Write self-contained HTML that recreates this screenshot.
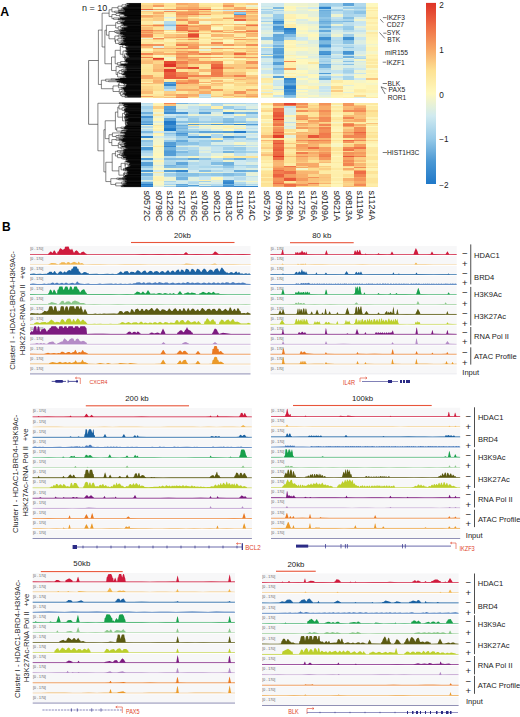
<!DOCTYPE html>
<html><head><meta charset="utf-8"><style>
html,body{margin:0;padding:0;background:#fff;}
svg{display:block;font-family:"Liberation Sans", sans-serif;}
.hm rect{width:11.72px}
</style></head><body>
<svg width="520" height="717" viewBox="0 0 520 717">
<rect width="520" height="717" fill="#fff"/>
<defs><filter id="hb" x="-0.02" y="-0.02" width="1.04" height="1.04"><feGaussianBlur stdDeviation="0.35"/></filter></defs>
<path d="M129.4 4.31V4.65M129.2 3.90V4.48M129.2 4.48H129.4M128.2 4.19V4.94M128.2 4.19H129.2M126.8 3.47V4.56M126.8 4.56H128.2M127.2 5.67V5.98M127.0 5.32V5.82M127.0 5.82H127.2M125.6 4.01V5.57M125.6 4.01H126.8M125.6 5.57H127.0M127.8 6.60V6.98M126.2 6.29V6.79M126.2 6.79H127.8M124.6 6.54V7.42M124.6 6.54H126.2M123.4 7.88V8.37M123.3 6.98V8.13M123.3 6.98H124.6M123.3 8.13H123.4M122.0 4.79V7.55M122.0 4.79H125.6M122.0 7.55H123.3M123.9 9.14V9.43M125.3 9.98V10.34M125.1 9.65V10.16M125.1 10.16H125.3M123.3 9.28V9.90M123.3 9.28H123.9M123.3 9.90H125.1M121.4 8.77V9.59M121.4 9.59H123.3M118.0 6.17V9.18M118.0 6.17H122.0M118.0 9.18H121.4M125.0 10.97V11.36M125.0 11.16V11.71M123.4 11.44V11.99M123.4 11.44H125.0M118.3 10.63V11.71M118.3 11.71H123.4M118.5 12.32V12.67M114.7 11.17V12.50M114.7 11.17H118.3M114.7 12.50H118.5M111.9 7.68V11.84M111.9 7.68H118.0M111.9 11.84H114.7M121.7 13.05V13.45M120.4 13.25V13.76M120.4 13.25H121.7M124.1 14.13V14.57M125.0 14.90V15.18M123.4 14.35V15.04M123.4 14.35H124.1M123.4 15.04H125.0M125.1 15.66V15.96M124.5 15.42V15.81M124.5 15.81H125.1M127.4 16.38V16.79M126.8 16.58V17.04M126.8 16.58H127.4M125.4 16.81V17.38M125.4 16.81H126.8M124.1 15.62V17.10M124.1 15.62H124.5M124.1 17.10H125.4M119.4 14.69V16.36M119.4 14.69H123.4M119.4 16.36H124.1M116.0 13.51V15.53M116.0 13.51H120.4M116.0 15.53H119.4M120.0 17.75V18.07M120.4 18.38V18.72M122.1 19.01V19.38M118.4 18.55V19.20M118.4 18.55H120.4M118.4 19.20H122.1M118.2 18.87V19.82M118.2 18.87H118.4M113.6 17.91V19.35M113.6 17.91H120.0M113.6 19.35H118.2M111.9 14.52V18.63M111.9 14.52H116.0M111.9 18.63H113.6M109.1 9.76V16.57M109.1 9.76H111.9M109.1 16.57H111.9M125.2 20.24V20.73M124.6 21.10V21.38M124.3 21.24V21.68M124.3 21.24H124.6M122.5 20.48V21.46M122.5 20.48H125.2M122.5 21.46H124.3M120.8 22.07V22.53M120.0 20.97V22.30M120.0 20.97H122.5M120.0 22.30H120.8M123.0 22.98V23.30M122.7 23.14V23.51M122.7 23.14H123.0M121.1 23.32V23.90M121.1 23.32H122.7M117.4 21.64V23.61M117.4 21.64H120.0M117.4 23.61H121.1M123.7 24.34V24.64M123.2 24.49V24.97M123.2 24.49H123.7M128.1 26.31V26.60M127.0 25.98V26.45M127.0 26.45H128.1M127.5 27.12V27.39M126.5 26.92V27.25M126.5 27.25H127.5M125.9 26.21V27.09M125.9 26.21H127.0M125.9 27.09H126.5M123.8 25.45V26.65M123.8 26.65H125.9M122.5 24.73V26.05M122.5 24.73H123.2M122.5 26.05H123.8M124.0 28.05V28.47M121.8 27.70V28.26M121.8 28.26H124.0M120.9 25.39V27.98M120.9 25.39H122.5M120.9 27.98H121.8M122.1 28.78V29.15M124.2 29.51V29.80M120.5 28.97V29.66M120.5 28.97H122.1M120.5 29.66H124.2M118.1 26.69V29.31M118.1 26.69H120.9M118.1 29.31H120.5M115.7 22.62V28.00M115.7 22.62H117.4M115.7 28.00H118.1M121.1 30.17V30.52M119.4 30.35V30.83M119.4 30.35H121.1M126.2 31.18V31.53M122.6 31.36V31.83M122.6 31.36H126.2M120.0 31.59V32.09M120.0 31.59H122.6M120.8 32.45V32.94M120.0 33.32V33.69M117.3 32.69V33.51M117.3 32.69H120.8M117.3 33.51H120.0M116.1 31.84V33.10M116.1 31.84H120.0M116.1 33.10H117.3M114.8 30.59V32.47M114.8 30.59H119.4M114.8 32.47H116.1M123.0 34.30V34.62M121.1 34.05V34.46M121.1 34.46H123.0M124.5 35.05V35.51M122.8 35.28V35.96M122.8 35.28H124.5M119.9 34.26V35.62M119.9 34.26H121.1M119.9 35.62H122.8M121.6 36.28V36.61M125.9 37.06V37.51M124.6 37.28V37.86M124.6 37.28H125.9M121.4 36.45V37.57M121.4 36.45H121.6M121.4 37.57H124.6M118.2 34.94V37.01M118.2 34.94H119.9M118.2 37.01H121.4M123.0 38.10V38.46M124.3 38.88V39.28M121.3 38.28V39.08M121.3 38.28H123.0M121.3 39.08H124.3M125.0 39.71V40.02M123.1 39.86V40.22M123.1 39.86H125.0M124.7 40.72V41.06M123.5 40.48V40.89M123.5 40.89H124.7M122.1 40.04V40.69M122.1 40.04H123.1M122.1 40.69H123.5M123.6 41.54V41.84M121.1 40.36V41.69M121.1 40.36H122.1M121.1 41.69H123.6M117.8 38.68V41.03M117.8 38.68H121.3M117.8 41.03H121.1M126.1 42.50V42.80M124.5 43.14V43.45M124.0 42.65V43.29M124.0 42.65H126.1M124.0 43.29H124.5M122.5 42.18V42.97M122.5 42.97H124.0M120.9 44.04V44.33M120.7 43.73V44.19M120.7 44.19H120.9M119.4 43.96V44.56M119.4 43.96H120.7M118.8 42.58V44.26M118.8 42.58H122.5M118.8 44.26H119.4M115.5 39.85V43.42M115.5 39.85H117.8M115.5 43.42H118.8M114.9 35.97V41.64M114.9 35.97H118.2M114.9 41.64H115.5M109.0 31.53V38.80M109.0 31.53H114.8M109.0 38.80H114.9M106.4 25.31V35.17M106.4 25.31H115.7M106.4 35.17H109.0M125.1 44.80V45.08M125.3 44.94V45.53M128.3 45.87V46.21M127.5 46.73V47.21M127.0 46.04V46.97M127.0 46.04H128.3M127.0 46.97H127.5M125.7 47.66V48.15M127.1 48.88V49.19M126.6 48.55V49.03M126.6 49.03H127.1M126.3 47.91V48.79M126.3 48.79H126.6M126.1 46.50V48.35M126.1 46.50H127.0M126.1 48.35H126.3M122.6 45.23V47.43M122.6 45.23H125.3M122.6 47.43H126.1M128.4 50.11V50.47M127.1 50.29V50.77M127.1 50.29H128.4M126.6 50.53V51.13M126.6 50.53H127.1M126.1 49.61V50.83M126.1 50.83H126.6M128.2 51.68V51.95M127.1 51.82V52.33M127.1 51.82H128.2M126.1 51.47V52.07M126.1 52.07H127.1M125.3 50.22V51.77M125.3 50.22H126.1M125.3 51.77H126.1M127.9 53.19V53.50M127.5 52.77V53.34M127.5 53.34H127.9M127.8 54.07V54.39M126.5 53.74V54.23M126.5 54.23H127.8M127.3 54.64V54.97M126.3 53.98V54.81M126.3 53.98H126.5M126.3 54.81H127.3M126.5 53.06V54.39M126.5 53.06H127.5M129.3 55.64V56.04M128.2 55.31V55.84M128.2 55.84H129.3M128.9 56.37V56.66M129.7 56.98V57.36M128.7 56.51V57.17M128.7 56.51H128.9M128.7 57.17H129.7M127.4 55.57V56.84M127.4 55.57H128.2M127.4 56.84H128.7M126.7 58.21V58.66M125.2 57.79V58.43M125.2 58.43H126.7M125.5 56.21V58.11M125.5 56.21H127.4M124.7 53.73V57.16M124.7 53.73H126.5M124.7 57.16H125.5M125.8 59.53V60.06M125.7 59.79V60.49M126.2 59.09V60.14M124.5 55.44V59.61M124.5 55.44H124.7M124.5 59.61H126.2M123.0 51.00V57.53M123.0 51.00H125.3M123.0 57.53H124.5M120.3 46.33V54.26M120.3 46.33H122.6M120.3 54.26H123.0M125.1 60.79V61.08M125.9 61.42V61.74M128.1 62.06V62.48M127.6 62.27V62.84M127.6 62.27H128.1M126.1 61.58V62.55M126.1 62.55H127.6M124.5 60.93V62.07M124.5 60.93H125.1M124.5 62.07H126.1M128.2 63.04V63.39M127.4 63.22V63.83M127.4 63.22H128.2M124.8 63.52V64.14M124.8 63.52H127.4M120.7 61.50V63.83M120.7 61.50H124.5M120.7 63.83H124.8M121.3 64.40V64.69M120.3 64.54V65.12M120.3 64.54H121.3M117.4 62.66V64.83M117.4 62.66H120.7M117.4 64.83H120.3M115.2 50.30V63.75M115.2 50.30H120.3M115.2 63.75H117.4M123.7 65.51V65.89M126.5 66.67V67.05M125.9 66.30V66.86M125.9 66.86H126.5M126.7 67.85V68.37M124.9 67.41V68.11M124.9 68.11H126.7M123.3 66.58V67.76M123.3 66.58H125.9M123.3 67.76H124.9M118.8 65.70V67.17M118.8 65.70H123.7M118.8 67.17H123.3M125.6 68.89V69.28M127.1 69.54V69.84M126.8 70.27V70.75M124.8 69.69V70.51M124.8 69.69H127.1M124.8 70.51H126.8M122.8 69.08V70.10M122.8 69.08H125.6M122.8 70.10H124.8M126.7 71.78V72.12M124.8 71.53V71.95M124.8 71.95H126.7M122.6 71.20V71.74M122.6 71.74H124.8M121.4 69.59V71.47M121.4 69.59H122.8M121.4 71.47H122.6M124.4 72.49V72.81M124.0 72.65V73.07M124.0 72.65H124.4M124.5 73.34V73.70M123.1 73.52V74.13M123.1 73.52H124.5M126.2 75.13V75.44M125.9 74.89V75.29M125.9 75.29H126.2M122.6 74.53V75.09M122.6 75.09H125.9M122.6 73.82V74.81M122.6 73.82H123.1M121.5 72.86V74.32M121.5 72.86H124.0M121.5 74.32H122.6M119.0 70.53V73.59M119.0 70.53H121.4M119.0 73.59H121.5M124.8 75.82V76.14M126.1 76.50V76.95M125.4 75.98V76.72M125.4 76.72H126.1M126.4 77.36V77.76M123.3 76.35V77.56M123.3 76.35H125.4M123.3 77.56H126.4M117.6 72.06V76.96M117.6 72.06H119.0M117.6 76.96H123.3M116.1 66.43V74.51M116.1 66.43H118.8M116.1 74.51H117.6M111.5 57.02V70.47M111.5 57.02H115.2M111.5 70.47H116.1M104.9 30.24V63.75M104.9 30.24H106.4M104.9 63.75H111.5M102.1 13.16V46.99M102.1 13.16H109.1M102.1 46.99H104.9M120.3 78.25V78.58M120.0 78.86V79.24M118.3 78.41V79.05M118.3 78.41H120.3M118.3 79.05H120.0M115.5 79.49V79.83M111.2 78.73V79.66M111.2 78.73H118.3M111.2 79.66H115.5M119.5 80.21V80.57M122.3 80.90V81.20M118.0 80.39V81.05M118.0 80.39H119.5M118.0 81.05H122.3M116.8 81.56V81.87M108.6 80.72V81.71M108.6 80.72H118.0M108.6 81.71H116.8M105.7 79.20V81.22M105.7 79.20H111.2M105.7 81.22H108.6M123.0 82.93V83.29M121.4 82.54V83.11M121.4 83.11H123.0M120.9 82.19V82.83M120.9 82.83H121.4M126.8 83.96V84.47M125.6 83.57V84.22M125.6 84.22H126.8M126.4 85.00V85.40M125.9 85.20V85.76M125.9 85.20H126.4M124.4 83.90V85.48M124.4 83.90H125.6M124.4 85.48H125.9M126.1 86.20V86.58M126.2 86.39V86.88M124.0 84.69V86.63M124.0 84.69H124.4M124.0 86.63H126.2M119.1 82.51V85.66M119.1 82.51H120.9M119.1 85.66H124.0M125.0 87.07V87.35M123.3 87.21V87.73M123.3 87.21H125.0M121.3 87.47V88.13M121.3 87.47H123.3M118.4 84.08V87.80M118.4 84.08H119.1M118.4 87.80H121.3M123.3 88.55V88.83M123.2 88.69V89.06M123.2 88.69H123.3M124.1 89.45V89.88M124.2 89.66V90.33M121.9 88.87V90.00M121.9 88.87H123.2M121.9 90.00H124.2M124.3 90.79V91.13M124.9 90.96V91.51M126.2 92.35V92.64M124.5 91.97V92.50M124.5 92.50H126.2M121.5 91.24V92.23M121.5 91.24H124.9M121.5 92.23H124.5M126.2 92.96V93.30M123.5 93.13V93.63M123.5 93.13H126.2M125.8 93.91V94.20M124.9 94.57V94.92M124.7 94.05V94.75M124.7 94.05H125.8M124.7 94.75H124.9M125.1 94.40V95.35M123.1 93.38V94.87M123.1 93.38H123.5M123.1 94.87H125.1M127.7 96.24V96.72M127.0 95.80V96.48M127.0 96.48H127.7M124.8 96.14V97.12M124.8 96.14H127.0M121.9 94.13V96.63M121.9 94.13H123.1M121.9 96.63H124.8M120.5 91.74V95.38M120.5 91.74H121.5M120.5 95.38H121.9M119.3 89.44V93.56M119.3 89.44H121.9M119.3 93.56H120.5M113.0 85.94V91.50M113.0 85.94H118.4M113.0 91.50H119.3M101.4 80.21V88.72M101.4 80.21H105.7M101.4 88.72H113.0M98.4 30.08V84.46M98.4 30.08H102.1M98.4 84.46H101.4M122.1 103.37V103.82M119.0 102.90V103.59M119.0 103.59H122.1M124.1 104.19V104.50M127.7 105.04V105.42M126.5 104.73V105.23M126.5 105.23H127.7M123.7 104.98V105.77M123.7 104.98H126.5M123.8 105.37V106.12M123.9 104.35V105.75M123.9 104.35H124.1M125.1 106.54V106.86M127.4 107.11V107.43M126.0 106.70V107.27M126.0 107.27H127.4M125.8 108.27V108.68M126.2 108.48V109.17M125.3 107.88V108.83M125.3 108.83H126.2M124.1 106.99V108.35M124.1 106.99H126.0M124.1 108.35H125.3M124.4 109.87V110.16M124.2 109.60V110.02M124.2 110.02H124.4M125.2 110.62V111.11M123.9 109.81V110.86M123.9 109.81H124.2M123.9 110.86H125.2M122.1 107.67V110.34M122.1 107.67H124.1M122.1 110.34H123.9M119.0 105.05V109.00M119.0 105.05H123.9M119.0 109.00H122.1M125.3 111.51V111.82M128.0 112.48V112.78M129.3 113.14V113.46M128.6 113.30V113.71M128.6 113.30H129.3M127.3 112.63V113.51M127.3 112.63H128.0M127.3 113.51H128.6M126.2 112.19V113.07M126.2 113.07H127.3M124.3 111.66V112.63M124.3 111.66H125.3M124.3 112.63H126.2M126.1 113.87V114.19M125.6 114.68V115.10M127.8 115.48V115.79M125.6 115.63V116.12M125.6 115.63H127.8M125.6 114.89V115.88M125.6 114.89H125.6M125.6 115.88H125.6M125.3 114.03V115.38M125.3 114.03H126.1M125.3 115.38H125.6M124.6 112.15V114.71M124.6 114.71H125.3M125.5 116.43V116.71M125.3 117.14V117.64M123.9 116.57V117.39M123.9 116.57H125.5M123.9 117.39H125.3M129.0 118.66V118.97M128.4 118.81V119.29M128.4 118.81H129.0M128.1 118.46V119.05M128.1 119.05H128.4M126.9 118.76V119.57M126.9 118.76H128.1M126.4 118.12V119.16M126.4 119.16H126.9M124.8 116.98V118.64M124.8 118.64H126.4M125.5 120.11V120.40M126.3 119.91V120.25M125.0 117.81V120.08M125.0 120.08H126.3M129.3 121.02V121.34M128.2 120.72V121.18M128.2 121.18H129.3M127.7 120.95V121.59M127.7 120.95H128.2M126.4 121.27V121.98M126.4 121.27H127.7M126.9 123.05V123.55M126.6 122.52V123.30M126.6 123.30H126.9M128.0 124.01V124.45M127.2 124.23V124.90M127.2 124.23H128.0M126.2 125.34V125.71M125.6 124.57V125.52M125.6 124.57H127.2M125.6 125.52H126.2M125.6 122.91V125.04M125.6 122.91H126.6M125.6 125.04H125.6M125.3 121.62V123.98M125.3 121.62H126.4M125.3 123.98H125.6M125.5 118.95V122.80M122.5 113.43V120.87M122.5 113.43H124.6M122.5 120.87H125.5M117.8 107.02V117.15M117.8 107.02H119.0M117.8 117.15H122.5M126.8 126.13V126.46M125.1 126.29V126.62M125.1 126.29H126.8M126.0 126.46V126.95M124.8 126.70V127.42M124.8 126.70H126.0M123.9 127.87V128.18M124.9 128.44V128.81M127.6 129.07V129.39M126.5 129.23V129.91M126.5 129.23H127.6M124.4 128.62V129.57M124.4 128.62H124.9M124.4 129.57H126.5M122.8 128.02V129.10M122.8 128.02H123.9M122.8 129.10H124.4M121.1 127.06V128.56M121.1 127.06H124.8M121.1 128.56H122.8M126.6 130.87V131.15M126.4 131.01V131.39M126.4 131.01H126.6M126.5 131.20V131.71M124.7 131.46V132.08M124.7 131.46H126.5M121.6 130.44V131.77M121.6 131.77H124.7M116.7 127.81V131.11M116.7 127.81H121.1M116.7 131.11H121.6M115.4 112.09V129.46M115.4 112.09H117.8M115.4 129.46H116.7M124.4 132.87V133.25M124.9 133.60V133.97M123.0 133.06V133.79M123.0 133.06H124.4M123.0 133.79H124.9M120.6 132.44V133.42M120.6 133.42H123.0M125.5 134.35V134.67M125.1 134.51V135.00M125.1 134.51H125.5M123.7 134.75V135.42M123.7 134.75H125.1M124.7 136.16V136.46M120.5 135.79V136.31M120.5 136.31H124.7M118.1 135.09V136.05M118.1 135.09H123.7M118.1 136.05H120.5M124.1 136.98V137.28M123.2 136.73V137.13M123.2 137.13H124.1M125.6 137.70V138.15M122.6 136.93V137.92M122.6 136.93H123.2M122.6 137.92H125.6M116.0 135.57V137.43M116.0 135.57H118.1M116.0 137.43H122.6M112.4 132.93V136.50M112.4 132.93H120.6M112.4 136.50H116.0M123.1 138.57V138.87M118.7 138.72V139.13M118.7 138.72H123.1M122.6 139.32V139.68M120.7 139.50V140.12M120.7 139.50H122.6M123.0 140.76V141.08M121.7 140.48V140.92M121.7 140.92H123.0M119.3 139.81V140.70M119.3 139.81H120.7M119.3 140.70H121.7M116.0 138.92V140.26M116.0 138.92H118.7M116.0 140.26H119.3M126.1 142.13V142.47M124.4 141.87V142.30M124.4 142.30H126.1M125.0 142.89V143.22M123.0 142.08V143.05M123.0 142.08H124.4M123.0 143.05H125.0M122.2 141.52V142.57M122.2 142.57H123.0M124.2 143.57V143.93M126.3 144.18V144.49M124.1 144.34V144.91M124.1 144.34H126.3M125.5 145.57V145.89M124.7 145.29V145.73M124.7 145.73H125.5M124.9 145.51V146.18M120.9 144.62V145.85M120.9 144.62H124.1M120.9 145.85H124.9M120.6 143.75V145.24M120.6 143.75H124.2M120.6 145.24H120.9M119.1 142.04V144.49M119.1 142.04H122.2M119.1 144.49H120.6M121.8 146.56V147.02M125.6 147.48V147.94M127.7 148.73V149.17M126.5 148.34V148.95M126.5 148.95H127.7M125.7 147.71V148.65M125.7 148.65H126.5M124.3 149.54V149.84M123.8 148.18V149.69M123.8 148.18H125.7M123.8 149.69H124.3M121.1 146.79V148.94M121.1 146.79H121.8M121.1 148.94H123.8M118.3 143.27V147.86M118.3 143.27H119.1M118.3 147.86H121.1M111.8 139.59V145.57M111.8 139.59H116.0M111.8 145.57H118.3M109.0 134.72V142.58M109.0 134.72H112.4M109.0 142.58H111.8M105.2 120.77V138.65M105.2 120.77H115.4M105.2 138.65H109.0M124.9 150.08V150.40M123.1 150.24V150.75M123.1 150.24H124.9M124.4 151.47V151.92M123.5 151.05V151.69M123.5 151.69H124.4M123.7 152.34V152.64M122.9 152.49V152.93M122.9 152.49H123.7M120.2 151.37V152.71M120.2 151.37H123.5M120.2 152.71H122.9M117.5 150.50V152.04M117.5 150.50H123.1M117.5 152.04H120.2M124.0 153.28V153.63M122.1 153.45V154.04M122.1 153.45H124.0M124.1 154.46V154.79M122.7 154.63V155.06M122.7 154.63H124.1M120.8 154.84V155.40M120.8 154.84H122.7M119.5 153.75V155.12M119.5 153.75H122.1M119.5 155.12H120.8M126.7 156.26V156.55M125.7 155.94V156.40M125.7 156.40H126.7M125.0 155.71V156.17M125.0 156.17H125.7M123.4 157.15V157.50M123.0 156.82V157.32M123.0 157.32H123.4M122.9 155.94V157.07M122.9 155.94H125.0M122.9 157.07H123.0M125.9 157.91V158.24M126.8 158.48V158.75M126.0 158.07V158.62M126.0 158.62H126.8M125.9 159.15V159.58M123.7 158.35V159.37M123.7 158.35H126.0M123.7 159.37H125.9M121.8 156.50V158.86M121.8 156.50H122.9M121.8 158.86H123.7M117.6 154.43V157.68M117.6 154.43H119.5M117.6 157.68H121.8M115.4 151.27V156.06M115.4 151.27H117.5M115.4 156.06H117.6M128.1 160.02V160.41M127.5 160.21V160.72M127.5 160.21H128.1M126.5 161.16V161.53M125.9 161.35V161.79M125.9 161.35H126.5M126.1 160.46V161.57M126.1 160.46H127.5M129.6 162.44V162.75M130.2 163.20V163.59M130.0 163.40V163.85M130.0 163.40H130.2M129.2 162.60V163.63M129.2 162.60H129.6M129.2 163.63H130.0M128.4 162.15V163.11M128.4 163.11H129.2M129.1 164.17V164.63M130.6 165.52V165.86M130.2 165.69V166.12M130.2 165.69H130.6M129.7 165.90V166.50M129.7 165.90H130.2M129.0 165.09V166.20M129.0 166.20H129.7M128.3 164.40V165.65M128.3 164.40H129.1M128.3 165.65H129.0M127.2 162.63V165.02M127.2 162.63H128.4M127.2 165.02H128.3M127.9 166.93V167.24M127.0 167.08V167.51M127.0 167.08H127.9M126.8 167.30V167.83M126.8 167.30H127.0M125.2 163.83V167.56M125.2 163.83H127.2M125.2 167.56H126.8M125.1 161.02V165.69M125.1 161.02H126.1M125.1 165.69H125.2M125.1 168.21V168.62M126.4 169.06V169.50M124.7 169.28V169.87M124.7 169.28H126.4M123.5 168.42V169.58M123.5 168.42H125.1M123.5 169.58H124.7M127.2 170.19V170.48M129.0 171.01V171.31M127.7 170.75V171.16M127.7 171.16H129.0M125.5 170.33V170.95M125.5 170.33H127.2M125.5 170.95H127.7M123.5 169.00V170.64M123.5 170.64H125.5M121.1 163.36V169.82M121.1 163.36H125.1M121.1 169.82H123.5M127.5 171.71V172.05M128.0 172.33V172.69M127.1 171.88V172.51M127.1 171.88H127.5M127.1 172.51H128.0M127.2 172.94V173.24M128.5 173.53V173.88M127.9 173.70V174.38M127.9 173.70H128.5M126.5 173.09V174.04M126.5 173.09H127.2M126.5 174.04H127.9M126.7 175.17V175.49M126.5 174.81V175.33M126.5 175.33H126.7M125.0 175.72V176.01M125.4 175.07V175.86M125.4 175.07H126.5M124.7 173.56V175.47M124.7 173.56H126.5M124.7 175.47H125.4M124.3 172.19V174.52M124.3 172.19H127.1M124.3 174.52H124.7M124.3 176.43V176.83M126.6 177.18V177.47M124.5 176.63V177.32M124.5 177.32H126.6M123.5 173.35V176.98M123.5 173.35H124.3M123.5 176.98H124.5M118.9 166.59V175.17M118.9 166.59H121.1M118.9 175.17H123.5M112.2 153.66V170.88M112.2 153.66H115.4M112.2 170.88H118.9M125.3 178.19V178.48M122.4 177.79V178.33M122.4 178.33H125.3M126.2 179.12V179.40M125.2 179.26V179.67M125.2 179.26H126.2M122.8 179.46V180.03M122.8 179.46H125.2M118.6 178.76V179.75M118.6 179.75H122.8M116.8 178.06V179.26M116.8 178.06H122.4M116.8 179.26H118.6M126.8 180.46V180.86M125.1 181.37V181.85M124.9 180.66V181.61M124.9 180.66H126.8M124.9 181.61H125.1M127.1 182.50V182.81M126.6 182.17V182.66M126.6 182.66H127.1M125.8 182.97V183.30M124.9 182.41V183.13M124.9 182.41H126.6M124.9 183.13H125.8M123.9 181.13V182.77M123.9 181.13H124.9M123.9 182.77H124.9M126.6 184.01V184.33M124.4 184.17V184.78M124.4 184.17H126.6M122.7 183.73V184.47M122.7 184.47H124.4M121.7 181.95V184.10M121.7 181.95H123.9M121.7 184.10H122.7M122.5 185.20V185.56M124.1 185.87V186.25M121.3 186.06V186.64M121.3 186.06H124.1M121.0 185.38V186.35M121.0 185.38H122.5M121.0 186.35H121.3M115.7 183.03V185.87M115.7 183.03H121.7M115.7 185.87H121.0M110.8 178.66V184.45M110.8 178.66H116.8M110.8 184.45H115.7M105.8 162.27V181.55M105.8 162.27H112.2M105.8 181.55H110.8M103.9 129.71V171.91M103.9 129.71H105.2M103.9 171.91H105.8M97.9 103.25V150.81M97.9 103.25H119.0M97.9 150.81H103.9" stroke="#222" stroke-width="0.55" fill="none"/><path d="M129.4 4.31H141M129.4 4.65H141M129.2 3.90H141M128.2 4.94H141M126.8 3.47H141M127.2 5.67H141M127.2 5.98H141M127.0 5.32H141M127.8 6.60H141M127.8 6.98H141M126.2 6.29H141M124.6 7.42H141M123.4 7.88H141M123.4 8.37H141M123.9 9.14H141M123.9 9.43H141M125.3 9.98H141M125.3 10.34H141M125.1 9.65H141M121.4 8.77H141M125.0 10.97H141M125.0 11.36H141M125.0 11.71H141M123.4 11.99H141M118.3 10.63H141M118.5 12.32H141M118.5 12.67H141M121.7 13.05H141M121.7 13.45H141M120.4 13.76H141M124.1 14.13H141M124.1 14.57H141M125.0 14.90H141M125.0 15.18H141M125.1 15.66H141M125.1 15.96H141M124.5 15.42H141M127.4 16.38H141M127.4 16.79H141M126.8 17.04H141M125.4 17.38H141M120.0 17.75H141M120.0 18.07H141M120.4 18.38H141M120.4 18.72H141M122.1 19.01H141M122.1 19.38H141M118.2 19.82H141M125.2 20.24H141M125.2 20.73H141M124.6 21.10H141M124.6 21.38H141M124.3 21.68H141M120.8 22.07H141M120.8 22.53H141M123.0 22.98H141M123.0 23.30H141M122.7 23.51H141M121.1 23.90H141M123.7 24.34H141M123.7 24.64H141M123.2 24.97H141M128.1 26.31H141M128.1 26.60H141M127.0 25.98H141M127.5 27.12H141M127.5 27.39H141M126.5 26.92H141M123.8 25.45H141M124.0 28.05H141M124.0 28.47H141M121.8 27.70H141M122.1 28.78H141M122.1 29.15H141M124.2 29.51H141M124.2 29.80H141M121.1 30.17H141M121.1 30.52H141M119.4 30.83H141M126.2 31.18H141M126.2 31.53H141M122.6 31.83H141M120.0 32.09H141M120.8 32.45H141M120.8 32.94H141M120.0 33.32H141M120.0 33.69H141M123.0 34.30H141M123.0 34.62H141M121.1 34.05H141M124.5 35.05H141M124.5 35.51H141M122.8 35.96H141M121.6 36.28H141M121.6 36.61H141M125.9 37.06H141M125.9 37.51H141M124.6 37.86H141M123.0 38.10H141M123.0 38.46H141M124.3 38.88H141M124.3 39.28H141M125.0 39.71H141M125.0 40.02H141M123.1 40.22H141M124.7 40.72H141M124.7 41.06H141M123.5 40.48H141M123.6 41.54H141M123.6 41.84H141M126.1 42.50H141M126.1 42.80H141M124.5 43.14H141M124.5 43.45H141M122.5 42.18H141M120.9 44.04H141M120.9 44.33H141M120.7 43.73H141M119.4 44.56H141M125.1 44.80H141M125.1 45.08H141M125.3 45.53H141M128.3 45.87H141M128.3 46.21H141M127.5 46.73H141M127.5 47.21H141M125.7 47.66H141M125.7 48.15H141M127.1 48.88H141M127.1 49.19H141M126.6 48.55H141M128.4 50.11H141M128.4 50.47H141M127.1 50.77H141M126.6 51.13H141M126.1 49.61H141M128.2 51.68H141M128.2 51.95H141M127.1 52.33H141M126.1 51.47H141M127.9 53.19H141M127.9 53.50H141M127.5 52.77H141M127.8 54.07H141M127.8 54.39H141M126.5 53.74H141M127.3 54.64H141M127.3 54.97H141M129.3 55.64H141M129.3 56.04H141M128.2 55.31H141M128.9 56.37H141M128.9 56.66H141M129.7 56.98H141M129.7 57.36H141M126.7 58.21H141M126.7 58.66H141M125.2 57.79H141M125.8 59.53H141M125.8 60.06H141M125.7 60.49H141M126.2 59.09H141M125.1 60.79H141M125.1 61.08H141M125.9 61.42H141M125.9 61.74H141M128.1 62.06H141M128.1 62.48H141M127.6 62.84H141M128.2 63.04H141M128.2 63.39H141M127.4 63.83H141M124.8 64.14H141M121.3 64.40H141M121.3 64.69H141M120.3 65.12H141M123.7 65.51H141M123.7 65.89H141M126.5 66.67H141M126.5 67.05H141M125.9 66.30H141M126.7 67.85H141M126.7 68.37H141M124.9 67.41H141M125.6 68.89H141M125.6 69.28H141M127.1 69.54H141M127.1 69.84H141M126.8 70.27H141M126.8 70.75H141M126.7 71.78H141M126.7 72.12H141M124.8 71.53H141M122.6 71.20H141M124.4 72.49H141M124.4 72.81H141M124.0 73.07H141M124.5 73.34H141M124.5 73.70H141M123.1 74.13H141M126.2 75.13H141M126.2 75.44H141M125.9 74.89H141M122.6 74.53H141M124.8 75.82H141M124.8 76.14H141M126.1 76.50H141M126.1 76.95H141M126.4 77.36H141M126.4 77.76H141M120.3 78.25H141M120.3 78.58H141M120.0 78.86H141M120.0 79.24H141M115.5 79.49H141M115.5 79.83H141M119.5 80.21H141M119.5 80.57H141M122.3 80.90H141M122.3 81.20H141M116.8 81.56H141M116.8 81.87H141M123.0 82.93H141M123.0 83.29H141M121.4 82.54H141M120.9 82.19H141M126.8 83.96H141M126.8 84.47H141M125.6 83.57H141M126.4 85.00H141M126.4 85.40H141M125.9 85.76H141M126.1 86.20H141M126.1 86.58H141M126.2 86.88H141M125.0 87.07H141M125.0 87.35H141M123.3 87.73H141M121.3 88.13H141M123.3 88.55H141M123.3 88.83H141M123.2 89.06H141M124.1 89.45H141M124.1 89.88H141M124.2 90.33H141M124.3 90.79H141M124.3 91.13H141M124.9 91.51H141M126.2 92.35H141M126.2 92.64H141M124.5 91.97H141M126.2 92.96H141M126.2 93.30H141M123.5 93.63H141M125.8 93.91H141M125.8 94.20H141M124.9 94.57H141M124.9 94.92H141M125.1 95.35H141M127.7 96.24H141M127.7 96.72H141M127.0 95.80H141M124.8 97.12H141M122.1 103.37H141M122.1 103.82H141M119.0 102.90H141M124.1 104.19H141M124.1 104.50H141M127.7 105.04H141M127.7 105.42H141M126.5 104.73H141M123.7 105.77H141M123.8 106.12H141M125.1 106.54H141M125.1 106.86H141M127.4 107.11H141M127.4 107.43H141M125.8 108.27H141M125.8 108.68H141M126.2 109.17H141M125.3 107.88H141M124.4 109.87H141M124.4 110.16H141M124.2 109.60H141M125.2 110.62H141M125.2 111.11H141M125.3 111.51H141M125.3 111.82H141M128.0 112.48H141M128.0 112.78H141M129.3 113.14H141M129.3 113.46H141M128.6 113.71H141M126.2 112.19H141M126.1 113.87H141M126.1 114.19H141M125.6 114.68H141M125.6 115.10H141M127.8 115.48H141M127.8 115.79H141M125.6 116.12H141M125.5 116.43H141M125.5 116.71H141M125.3 117.14H141M125.3 117.64H141M129.0 118.66H141M129.0 118.97H141M128.4 119.29H141M128.1 118.46H141M126.9 119.57H141M126.4 118.12H141M125.5 120.11H141M125.5 120.40H141M126.3 119.91H141M129.3 121.02H141M129.3 121.34H141M128.2 120.72H141M127.7 121.59H141M126.4 121.98H141M126.9 123.05H141M126.9 123.55H141M126.6 122.52H141M128.0 124.01H141M128.0 124.45H141M127.2 124.90H141M126.2 125.34H141M126.2 125.71H141M126.8 126.13H141M126.8 126.46H141M125.1 126.62H141M126.0 126.95H141M124.8 127.42H141M123.9 127.87H141M123.9 128.18H141M124.9 128.44H141M124.9 128.81H141M127.6 129.07H141M127.6 129.39H141M126.5 129.91H141M126.6 130.87H141M126.6 131.15H141M126.4 131.39H141M126.5 131.71H141M124.7 132.08H141M121.6 130.44H141M124.4 132.87H141M124.4 133.25H141M124.9 133.60H141M124.9 133.97H141M120.6 132.44H141M125.5 134.35H141M125.5 134.67H141M125.1 135.00H141M123.7 135.42H141M124.7 136.16H141M124.7 136.46H141M120.5 135.79H141M124.1 136.98H141M124.1 137.28H141M123.2 136.73H141M125.6 137.70H141M125.6 138.15H141M123.1 138.57H141M123.1 138.87H141M118.7 139.13H141M122.6 139.32H141M122.6 139.68H141M120.7 140.12H141M123.0 140.76H141M123.0 141.08H141M121.7 140.48H141M126.1 142.13H141M126.1 142.47H141M124.4 141.87H141M125.0 142.89H141M125.0 143.22H141M122.2 141.52H141M124.2 143.57H141M124.2 143.93H141M126.3 144.18H141M126.3 144.49H141M124.1 144.91H141M125.5 145.57H141M125.5 145.89H141M124.7 145.29H141M124.9 146.18H141M121.8 146.56H141M121.8 147.02H141M125.6 147.48H141M125.6 147.94H141M127.7 148.73H141M127.7 149.17H141M126.5 148.34H141M124.3 149.54H141M124.3 149.84H141M124.9 150.08H141M124.9 150.40H141M123.1 150.75H141M124.4 151.47H141M124.4 151.92H141M123.5 151.05H141M123.7 152.34H141M123.7 152.64H141M122.9 152.93H141M124.0 153.28H141M124.0 153.63H141M122.1 154.04H141M124.1 154.46H141M124.1 154.79H141M122.7 155.06H141M120.8 155.40H141M126.7 156.26H141M126.7 156.55H141M125.7 155.94H141M125.0 155.71H141M123.4 157.15H141M123.4 157.50H141M123.0 156.82H141M125.9 157.91H141M125.9 158.24H141M126.8 158.48H141M126.8 158.75H141M125.9 159.15H141M125.9 159.58H141M128.1 160.02H141M128.1 160.41H141M127.5 160.72H141M126.5 161.16H141M126.5 161.53H141M125.9 161.79H141M129.6 162.44H141M129.6 162.75H141M130.2 163.20H141M130.2 163.59H141M130.0 163.85H141M128.4 162.15H141M129.1 164.17H141M129.1 164.63H141M130.6 165.52H141M130.6 165.86H141M130.2 166.12H141M129.7 166.50H141M129.0 165.09H141M127.9 166.93H141M127.9 167.24H141M127.0 167.51H141M126.8 167.83H141M125.1 168.21H141M125.1 168.62H141M126.4 169.06H141M126.4 169.50H141M124.7 169.87H141M127.2 170.19H141M127.2 170.48H141M129.0 171.01H141M129.0 171.31H141M127.7 170.75H141M127.5 171.71H141M127.5 172.05H141M128.0 172.33H141M128.0 172.69H141M127.2 172.94H141M127.2 173.24H141M128.5 173.53H141M128.5 173.88H141M127.9 174.38H141M126.7 175.17H141M126.7 175.49H141M126.5 174.81H141M125.0 175.72H141M125.0 176.01H141M124.3 176.43H141M124.3 176.83H141M126.6 177.18H141M126.6 177.47H141M125.3 178.19H141M125.3 178.48H141M122.4 177.79H141M126.2 179.12H141M126.2 179.40H141M125.2 179.67H141M122.8 180.03H141M118.6 178.76H141M126.8 180.46H141M126.8 180.86H141M125.1 181.37H141M125.1 181.85H141M127.1 182.50H141M127.1 182.81H141M126.6 182.17H141M125.8 182.97H141M125.8 183.30H141M126.6 184.01H141M126.6 184.33H141M124.4 184.78H141M122.7 183.73H141M122.5 185.20H141M122.5 185.56H141M124.1 185.87H141M124.1 186.25H141M121.3 186.64H141" stroke="#000" stroke-width="0.8" fill="none"/><path d="M88.6 60.50V124.30M88.6 60.50H98.4M88.6 124.30H97.9" stroke="#222" stroke-width="0.6" fill="none"/><g shape-rendering="crispEdges" class="hm" filter="url(#hb)"><g transform="translate(141.00 0)"><rect y="3" height="2.02" fill="#fde092"/><rect y="5" height="1.52" fill="#fbd086"/><rect y="6.5" height="2.52" fill="#fcd489"/><rect y="9" height="1.02" fill="#ec6540"/><rect y="10" height="1.02" fill="#e4f0da"/><rect y="11" height="1.02" fill="#fbcd83"/><rect y="12" height="2.02" fill="#fdde91"/><rect y="14" height="1.02" fill="#fdeda9"/><rect y="15" height="1.52" fill="#f7a967"/><rect y="16.5" height="1.02" fill="#f9bd77"/><rect y="17.5" height="1.02" fill="#fde295"/><rect y="18.5" height="2.52" fill="#fcd78b"/><rect y="21" height="2.52" fill="#fdeca8"/><rect y="23.5" height="1.02" fill="#fde498"/><rect y="24.5" height="1.52" fill="#f7a463"/><rect y="26" height="1.02" fill="#fcd68b"/><rect y="27" height="2.52" fill="#f9be77"/><rect y="29.5" height="1.02" fill="#f17f4e"/><rect y="30.5" height="1.02" fill="#f7a866"/><rect y="31.5" height="1.52" fill="#f4935a"/><rect y="33" height="1.02" fill="#f8b36f"/><rect y="34" height="2.52" fill="#f28753"/><rect y="36.5" height="1.02" fill="#f9b571"/><rect y="37.5" height="1.52" fill="#edf3d0"/><rect y="39" height="1.02" fill="#fde397"/><rect y="40" height="1.52" fill="#feedaa"/><rect y="41.5" height="2.02" fill="#fde79e"/><rect y="43.5" height="2.52" fill="#f49159"/><rect y="46" height="1.52" fill="#f9b974"/><rect y="47.5" height="1.02" fill="#fde59a"/><rect y="48.5" height="2.02" fill="#fef7bc"/><rect y="50.5" height="1.52" fill="#fde498"/><rect y="52" height="1.02" fill="#fde599"/><rect y="53" height="1.52" fill="#f28452"/><rect y="54.5" height="2.02" fill="#fcd58a"/><rect y="56.5" height="1.02" fill="#f18150"/><rect y="57.5" height="1.02" fill="#fcdb8f"/><rect y="58.5" height="1.02" fill="#fbcf85"/><rect y="59.5" height="1.52" fill="#fac47c"/><rect y="61" height="3.02" fill="#f9bc76"/><rect y="64" height="2.52" fill="#fde8a0"/><rect y="66.5" height="2.02" fill="#fde69b"/><rect y="68.5" height="3.02" fill="#fde294"/><rect y="71.5" height="3.02" fill="#fde59a"/><rect y="74.5" height="2.02" fill="#f7a665"/><rect y="76.5" height="2.02" fill="#f7a967"/><rect y="78.5" height="1.52" fill="#fdde91"/><rect y="80" height="1.52" fill="#fcd98d"/><rect y="81.5" height="1.52" fill="#feefad"/><rect y="83" height="1.02" fill="#fabf78"/><rect y="84" height="2.02" fill="#fde498"/><rect y="86" height="3.02" fill="#fcd489"/><rect y="89" height="2.02" fill="#fbcc83"/><rect y="91" height="3.02" fill="#f9bb75"/><rect y="94" height="2.02" fill="#fde69c"/><rect y="96" height="1.02" fill="#f69e60"/><rect y="97" height="0.52" fill="#fdeaa4"/></g><g transform="translate(152.65 0)"><rect y="3" height="2.02" fill="#fbcd84"/><rect y="5" height="1.52" fill="#f69c5f"/><rect y="6.5" height="2.52" fill="#fef6ba"/><rect y="9" height="1.02" fill="#f59b5e"/><rect y="10" height="1.02" fill="#f3f5ca"/><rect y="11" height="1.02" fill="#fcd58a"/><rect y="12" height="2.02" fill="#f8ab69"/><rect y="14" height="1.02" fill="#fbd187"/><rect y="15" height="1.52" fill="#f9ba75"/><rect y="16.5" height="1.02" fill="#fbcc83"/><rect y="17.5" height="1.02" fill="#fbcb82"/><rect y="18.5" height="2.52" fill="#fbcc83"/><rect y="21" height="2.52" fill="#f4f5c9"/><rect y="23.5" height="1.02" fill="#fac47c"/><rect y="24.5" height="1.52" fill="#f1804f"/><rect y="26" height="1.02" fill="#fac77f"/><rect y="27" height="2.52" fill="#fde295"/><rect y="29.5" height="1.02" fill="#f69f61"/><rect y="30.5" height="1.02" fill="#fabf78"/><rect y="31.5" height="1.52" fill="#fbcd83"/><rect y="33" height="1.02" fill="#f9bd77"/><rect y="34" height="2.52" fill="#fde193"/><rect y="36.5" height="1.02" fill="#fef1b1"/><rect y="37.5" height="1.52" fill="#f48f58"/><rect y="39" height="1.02" fill="#fac37b"/><rect y="40" height="1.52" fill="#fde79d"/><rect y="41.5" height="2.02" fill="#fef0ae"/><rect y="43.5" height="2.52" fill="#f4945b"/><rect y="46" height="1.52" fill="#e2efdd"/><rect y="47.5" height="1.02" fill="#f7a262"/><rect y="48.5" height="2.02" fill="#fcd98d"/><rect y="50.5" height="1.52" fill="#fac880"/><rect y="52" height="1.02" fill="#f8b470"/><rect y="53" height="1.52" fill="#f8b470"/><rect y="54.5" height="2.02" fill="#fef7bc"/><rect y="56.5" height="1.02" fill="#fdde91"/><rect y="57.5" height="1.02" fill="#e03829"/><rect y="58.5" height="1.02" fill="#e95a3b"/><rect y="59.5" height="1.52" fill="#f9b974"/><rect y="61" height="3.02" fill="#fcd58a"/><rect y="64" height="2.52" fill="#fac17a"/><rect y="66.5" height="2.02" fill="#fac079"/><rect y="68.5" height="3.02" fill="#f8b36f"/><rect y="71.5" height="3.02" fill="#fde397"/><rect y="74.5" height="2.02" fill="#fdde91"/><rect y="76.5" height="2.02" fill="#f9bc76"/><rect y="78.5" height="1.52" fill="#fac17a"/><rect y="80" height="1.52" fill="#f8b16d"/><rect y="81.5" height="1.52" fill="#f8b36f"/><rect y="83" height="1.02" fill="#fac17a"/><rect y="84" height="2.02" fill="#fde59b"/><rect y="86" height="3.02" fill="#fde093"/><rect y="89" height="2.02" fill="#fcdc8f"/><rect y="91" height="3.02" fill="#fdeca7"/><rect y="94" height="2.02" fill="#fde69b"/><rect y="96" height="1.02" fill="#fbd287"/><rect y="97" height="0.52" fill="#fcd388"/></g><g transform="translate(164.30 0)"><rect y="3" height="2.02" fill="#fde69b"/><rect y="5" height="1.52" fill="#fdde91"/><rect y="6.5" height="2.52" fill="#fde9a2"/><rect y="9" height="1.02" fill="#f5975c"/><rect y="10" height="1.02" fill="#e3f0db"/><rect y="11" height="1.02" fill="#f38b55"/><rect y="12" height="2.02" fill="#fde69b"/><rect y="14" height="1.02" fill="#fef1b1"/><rect y="15" height="1.52" fill="#fef1b1"/><rect y="16.5" height="1.02" fill="#dceee3"/><rect y="17.5" height="1.02" fill="#f2f4cb"/><rect y="18.5" height="2.52" fill="#fef6bb"/><rect y="21" height="2.52" fill="#b5dbec"/><rect y="23.5" height="1.02" fill="#a0d0e9"/><rect y="24.5" height="1.52" fill="#86bfe4"/><rect y="26" height="1.02" fill="#c3e3ee"/><rect y="27" height="2.52" fill="#cae7ef"/><rect y="29.5" height="1.02" fill="#fcda8e"/><rect y="30.5" height="1.02" fill="#fef8be"/><rect y="31.5" height="1.52" fill="#fde89f"/><rect y="33" height="1.02" fill="#feeeac"/><rect y="34" height="2.52" fill="#fac67e"/><rect y="36.5" height="1.02" fill="#f8ad6a"/><rect y="37.5" height="1.52" fill="#fcd88c"/><rect y="39" height="1.02" fill="#fef0af"/><rect y="40" height="1.52" fill="#fef2b2"/><rect y="41.5" height="2.02" fill="#fde599"/><rect y="43.5" height="2.52" fill="#fde8a0"/><rect y="46" height="1.52" fill="#fcd388"/><rect y="47.5" height="1.02" fill="#f8b470"/><rect y="48.5" height="2.02" fill="#fcd68b"/><rect y="50.5" height="1.52" fill="#fbd186"/><rect y="52" height="1.02" fill="#fde498"/><rect y="53" height="1.52" fill="#f8ae6b"/><rect y="54.5" height="2.02" fill="#fde9a1"/><rect y="56.5" height="1.02" fill="#eef3cf"/><rect y="57.5" height="1.02" fill="#fdf8c0"/><rect y="58.5" height="1.02" fill="#fef6b9"/><rect y="59.5" height="1.52" fill="#fef0ae"/><rect y="61" height="3.02" fill="#e44932"/><rect y="64" height="2.52" fill="#de3226"/><rect y="66.5" height="2.02" fill="#fac880"/><rect y="68.5" height="3.02" fill="#e2412e"/><rect y="71.5" height="3.02" fill="#ea5f3d"/><rect y="74.5" height="2.02" fill="#e9593a"/><rect y="76.5" height="2.02" fill="#e9593a"/><rect y="78.5" height="1.52" fill="#fef1b0"/><rect y="80" height="1.52" fill="#fdeba6"/><rect y="81.5" height="1.52" fill="#4896d3"/><rect y="83" height="1.02" fill="#5aa2d8"/><rect y="84" height="2.02" fill="#3488ce"/><rect y="86" height="3.02" fill="#93c8e7"/><rect y="89" height="2.02" fill="#c1e2ee"/><rect y="91" height="3.02" fill="#fbcf85"/><rect y="94" height="2.02" fill="#f9bb75"/><rect y="96" height="1.02" fill="#fde69b"/><rect y="97" height="0.52" fill="#fac07a"/></g><g transform="translate(175.95 0)"><rect y="3" height="2.02" fill="#f7aa68"/><rect y="5" height="1.52" fill="#fac57d"/><rect y="6.5" height="2.52" fill="#f8aa68"/><rect y="9" height="1.02" fill="#f38d57"/><rect y="10" height="1.02" fill="#feefad"/><rect y="11" height="1.02" fill="#f8b16d"/><rect y="12" height="2.02" fill="#f5985d"/><rect y="14" height="1.02" fill="#f49159"/><rect y="15" height="1.52" fill="#f7a967"/><rect y="16.5" height="1.02" fill="#fac27b"/><rect y="17.5" height="1.02" fill="#fac77f"/><rect y="18.5" height="2.52" fill="#f4935a"/><rect y="21" height="2.52" fill="#fde395"/><rect y="23.5" height="1.02" fill="#f9b974"/><rect y="24.5" height="1.52" fill="#e95b3b"/><rect y="26" height="1.02" fill="#f49259"/><rect y="27" height="2.52" fill="#f17e4e"/><rect y="29.5" height="1.02" fill="#ef7046"/><rect y="30.5" height="1.02" fill="#fbcc83"/><rect y="31.5" height="1.52" fill="#fac77f"/><rect y="33" height="1.02" fill="#fef0af"/><rect y="34" height="2.52" fill="#f9b873"/><rect y="36.5" height="1.02" fill="#f6a061"/><rect y="37.5" height="1.52" fill="#fde79e"/><rect y="39" height="1.02" fill="#f9bd77"/><rect y="40" height="1.52" fill="#fde69b"/><rect y="41.5" height="2.02" fill="#f9b570"/><rect y="43.5" height="2.52" fill="#f17d4d"/><rect y="46" height="1.52" fill="#fcd98d"/><rect y="47.5" height="1.02" fill="#f18150"/><rect y="48.5" height="2.02" fill="#fbd187"/><rect y="50.5" height="1.52" fill="#f69f61"/><rect y="52" height="1.02" fill="#f9b671"/><rect y="53" height="1.52" fill="#f38e57"/><rect y="54.5" height="2.02" fill="#f7a765"/><rect y="56.5" height="1.02" fill="#f38c56"/><rect y="57.5" height="1.02" fill="#f6a162"/><rect y="58.5" height="1.02" fill="#f8aa68"/><rect y="59.5" height="1.52" fill="#f9ba75"/><rect y="61" height="3.02" fill="#f1804f"/><rect y="64" height="2.52" fill="#f6a061"/><rect y="66.5" height="2.02" fill="#ef7348"/><rect y="68.5" height="3.02" fill="#fde59b"/><rect y="71.5" height="3.02" fill="#f28552"/><rect y="74.5" height="2.02" fill="#f17f4e"/><rect y="76.5" height="2.02" fill="#ea5d3c"/><rect y="78.5" height="1.52" fill="#fde092"/><rect y="80" height="1.52" fill="#f7a564"/><rect y="81.5" height="1.52" fill="#f38e57"/><rect y="83" height="1.02" fill="#f17c4d"/><rect y="84" height="2.02" fill="#fac67e"/><rect y="86" height="3.02" fill="#fbca81"/><rect y="89" height="2.02" fill="#f8ac6a"/><rect y="91" height="3.02" fill="#fde79d"/><rect y="94" height="2.02" fill="#f69f61"/><rect y="96" height="1.02" fill="#f8aa68"/><rect y="97" height="0.52" fill="#f38e57"/></g><g transform="translate(187.60 0)"><rect y="3" height="2.02" fill="#f9b873"/><rect y="5" height="1.52" fill="#f9b571"/><rect y="6.5" height="2.52" fill="#f7a665"/><rect y="9" height="1.02" fill="#f28351"/><rect y="10" height="1.02" fill="#f9bd77"/><rect y="11" height="1.02" fill="#f69e60"/><rect y="12" height="2.02" fill="#f5995d"/><rect y="14" height="1.02" fill="#f1804f"/><rect y="15" height="1.52" fill="#fac67e"/><rect y="16.5" height="1.02" fill="#fef1b0"/><rect y="17.5" height="1.02" fill="#fcd98d"/><rect y="18.5" height="2.52" fill="#fac77f"/><rect y="21" height="2.52" fill="#f4955b"/><rect y="23.5" height="1.02" fill="#fde79e"/><rect y="24.5" height="1.52" fill="#f8b36f"/><rect y="26" height="1.02" fill="#f5985d"/><rect y="27" height="2.52" fill="#f9b571"/><rect y="29.5" height="1.02" fill="#f07a4c"/><rect y="30.5" height="1.02" fill="#ed6943"/><rect y="31.5" height="1.52" fill="#fbcc83"/><rect y="33" height="1.02" fill="#f07b4d"/><rect y="34" height="2.52" fill="#e44831"/><rect y="36.5" height="1.02" fill="#f17c4d"/><rect y="37.5" height="1.52" fill="#fcd388"/><rect y="39" height="1.02" fill="#f38c56"/><rect y="40" height="1.52" fill="#fddf92"/><rect y="41.5" height="2.02" fill="#f9b772"/><rect y="43.5" height="2.52" fill="#f6a162"/><rect y="46" height="1.52" fill="#f5965b"/><rect y="47.5" height="1.02" fill="#f38a55"/><rect y="48.5" height="2.02" fill="#fde395"/><rect y="50.5" height="1.52" fill="#f5965c"/><rect y="52" height="1.02" fill="#f38e57"/><rect y="53" height="1.52" fill="#f5985d"/><rect y="54.5" height="2.02" fill="#fde294"/><rect y="56.5" height="1.02" fill="#f69f61"/><rect y="57.5" height="1.02" fill="#f9b672"/><rect y="58.5" height="1.02" fill="#f59a5e"/><rect y="59.5" height="1.52" fill="#f6a162"/><rect y="61" height="3.02" fill="#f7a866"/><rect y="64" height="2.52" fill="#fcd68a"/><rect y="66.5" height="2.02" fill="#e44932"/><rect y="68.5" height="3.02" fill="#fcdb8e"/><rect y="71.5" height="3.02" fill="#f9b672"/><rect y="74.5" height="2.02" fill="#f1804f"/><rect y="76.5" height="2.02" fill="#fac880"/><rect y="78.5" height="1.52" fill="#f8b36f"/><rect y="80" height="1.52" fill="#f38c56"/><rect y="81.5" height="1.52" fill="#f49058"/><rect y="83" height="1.02" fill="#f69e60"/><rect y="84" height="2.02" fill="#fac57d"/><rect y="86" height="3.02" fill="#fbce84"/><rect y="89" height="2.02" fill="#f7aa68"/><rect y="91" height="3.02" fill="#fbd086"/><rect y="94" height="2.02" fill="#f8ae6b"/><rect y="96" height="1.02" fill="#f9b974"/><rect y="97" height="0.52" fill="#fde89f"/></g><g transform="translate(199.25 0)"><rect y="3" height="2.02" fill="#fdeaa2"/><rect y="5" height="1.52" fill="#fde497"/><rect y="6.5" height="2.52" fill="#fac37b"/><rect y="9" height="1.02" fill="#ea5d3c"/><rect y="10" height="1.02" fill="#fcdc8f"/><rect y="11" height="1.02" fill="#f8ad6a"/><rect y="12" height="2.02" fill="#fbcc83"/><rect y="14" height="1.02" fill="#f5975c"/><rect y="15" height="1.52" fill="#fde8a0"/><rect y="16.5" height="1.02" fill="#eff3ce"/><rect y="17.5" height="1.02" fill="#feefac"/><rect y="18.5" height="2.52" fill="#fbcb82"/><rect y="21" height="2.52" fill="#f6f6c7"/><rect y="23.5" height="1.02" fill="#fde092"/><rect y="24.5" height="1.52" fill="#f59b5f"/><rect y="26" height="1.02" fill="#f7a766"/><rect y="27" height="2.52" fill="#f7a464"/><rect y="29.5" height="1.02" fill="#f9bb76"/><rect y="30.5" height="1.02" fill="#fdde91"/><rect y="31.5" height="1.52" fill="#fdeba5"/><rect y="33" height="1.02" fill="#fbc980"/><rect y="34" height="2.52" fill="#fef0af"/><rect y="36.5" height="1.02" fill="#fde295"/><rect y="37.5" height="1.52" fill="#fde69b"/><rect y="39" height="1.02" fill="#fef2b3"/><rect y="40" height="1.52" fill="#feeeab"/><rect y="41.5" height="2.02" fill="#fdeba6"/><rect y="43.5" height="2.52" fill="#fac17a"/><rect y="46" height="1.52" fill="#f9f6c4"/><rect y="47.5" height="1.02" fill="#fbd288"/><rect y="48.5" height="2.02" fill="#e6f1d8"/><rect y="50.5" height="1.52" fill="#fddf91"/><rect y="52" height="1.02" fill="#fde59a"/><rect y="53" height="1.52" fill="#f18150"/><rect y="54.5" height="2.02" fill="#fde89f"/><rect y="56.5" height="1.02" fill="#f4955b"/><rect y="57.5" height="1.02" fill="#fde69c"/><rect y="58.5" height="1.02" fill="#fde193"/><rect y="59.5" height="1.52" fill="#fde294"/><rect y="61" height="3.02" fill="#f69f60"/><rect y="64" height="2.52" fill="#fde69c"/><rect y="66.5" height="2.02" fill="#fdeaa3"/><rect y="68.5" height="3.02" fill="#f9ba74"/><rect y="71.5" height="3.02" fill="#feedaa"/><rect y="74.5" height="2.02" fill="#f38e57"/><rect y="76.5" height="2.02" fill="#fac07a"/><rect y="78.5" height="1.52" fill="#fde295"/><rect y="80" height="1.52" fill="#fde8a0"/><rect y="81.5" height="1.52" fill="#f8b06d"/><rect y="83" height="1.02" fill="#fef3b4"/><rect y="84" height="2.02" fill="#fbd287"/><rect y="86" height="3.02" fill="#f69c5f"/><rect y="89" height="2.02" fill="#fac880"/><rect y="91" height="3.02" fill="#f8ae6b"/><rect y="94" height="2.02" fill="#b9deed"/><rect y="96" height="1.02" fill="#c7e5ef"/><rect y="97" height="0.52" fill="#b5dbec"/></g><g transform="translate(210.90 0)"><rect y="3" height="2.02" fill="#fdeca7"/><rect y="5" height="1.52" fill="#fde89f"/><rect y="6.5" height="2.52" fill="#fef6b9"/><rect y="9" height="1.02" fill="#fac57d"/><rect y="10" height="1.02" fill="#edf3d0"/><rect y="11" height="1.02" fill="#fde79e"/><rect y="12" height="2.02" fill="#fcd388"/><rect y="14" height="1.02" fill="#fddf92"/><rect y="15" height="1.52" fill="#fdeca8"/><rect y="16.5" height="1.02" fill="#feefac"/><rect y="17.5" height="1.02" fill="#fcdb8e"/><rect y="18.5" height="2.52" fill="#fbd086"/><rect y="21" height="2.52" fill="#feeda9"/><rect y="23.5" height="1.02" fill="#f9b571"/><rect y="24.5" height="1.52" fill="#fdde91"/><rect y="26" height="1.02" fill="#fdeaa3"/><rect y="27" height="2.52" fill="#fcf8c0"/><rect y="29.5" height="1.02" fill="#f8ae6b"/><rect y="30.5" height="1.02" fill="#f49058"/><rect y="31.5" height="1.52" fill="#fbd288"/><rect y="33" height="1.02" fill="#fde79e"/><rect y="34" height="2.52" fill="#f9b470"/><rect y="36.5" height="1.02" fill="#fef0ae"/><rect y="37.5" height="1.52" fill="#fde89f"/><rect y="39" height="1.02" fill="#fac37c"/><rect y="40" height="1.52" fill="#fdeba6"/><rect y="41.5" height="2.02" fill="#f38c56"/><rect y="43.5" height="2.52" fill="#f9b671"/><rect y="46" height="1.52" fill="#f0f4cd"/><rect y="47.5" height="1.02" fill="#f49259"/><rect y="48.5" height="2.02" fill="#fde295"/><rect y="50.5" height="1.52" fill="#fde396"/><rect y="52" height="1.02" fill="#f9b571"/><rect y="53" height="1.52" fill="#f59a5e"/><rect y="54.5" height="2.02" fill="#fef1b1"/><rect y="56.5" height="1.02" fill="#f69e60"/><rect y="57.5" height="1.02" fill="#fef5b8"/><rect y="58.5" height="1.02" fill="#fdeca8"/><rect y="59.5" height="1.52" fill="#fde89f"/><rect y="61" height="3.02" fill="#f38b55"/><rect y="64" height="2.52" fill="#ec6541"/><rect y="66.5" height="2.02" fill="#e85639"/><rect y="68.5" height="3.02" fill="#f18250"/><rect y="71.5" height="3.02" fill="#f07b4c"/><rect y="74.5" height="2.02" fill="#f1804f"/><rect y="76.5" height="2.02" fill="#fcd68a"/><rect y="78.5" height="1.52" fill="#fdeba6"/><rect y="80" height="1.52" fill="#f9b873"/><rect y="81.5" height="1.52" fill="#fde498"/><rect y="83" height="1.02" fill="#f9b974"/><rect y="84" height="2.02" fill="#fbcb82"/><rect y="86" height="3.02" fill="#fde59b"/><rect y="89" height="2.02" fill="#f69d5f"/><rect y="91" height="3.02" fill="#fde498"/><rect y="94" height="2.02" fill="#fde294"/><rect y="96" height="1.02" fill="#fac57d"/><rect y="97" height="0.52" fill="#ebf2d3"/></g><g transform="translate(222.55 0)"><rect y="3" height="2.02" fill="#fabf78"/><rect y="5" height="1.52" fill="#f5985c"/><rect y="6.5" height="2.52" fill="#fcd78b"/><rect y="9" height="1.02" fill="#f8af6c"/><rect y="10" height="1.02" fill="#d0eaf0"/><rect y="11" height="1.02" fill="#fac57e"/><rect y="12" height="2.02" fill="#f9b974"/><rect y="14" height="1.02" fill="#fde69b"/><rect y="15" height="1.52" fill="#feeda9"/><rect y="16.5" height="1.02" fill="#fbd086"/><rect y="17.5" height="1.02" fill="#f69d60"/><rect y="18.5" height="2.52" fill="#fde59a"/><rect y="21" height="2.52" fill="#fdeca7"/><rect y="23.5" height="1.02" fill="#fcd58a"/><rect y="24.5" height="1.52" fill="#fef5b8"/><rect y="26" height="1.02" fill="#fde295"/><rect y="27" height="2.52" fill="#fde093"/><rect y="29.5" height="1.02" fill="#f9b974"/><rect y="30.5" height="1.02" fill="#fde194"/><rect y="31.5" height="1.52" fill="#f8af6c"/><rect y="33" height="1.02" fill="#fef1b1"/><rect y="34" height="2.52" fill="#fabe78"/><rect y="36.5" height="1.02" fill="#fcdc8f"/><rect y="37.5" height="1.52" fill="#fcd489"/><rect y="39" height="1.02" fill="#fdeaa4"/><rect y="40" height="1.52" fill="#fef8be"/><rect y="41.5" height="2.02" fill="#fef1b1"/><rect y="43.5" height="2.52" fill="#f5965c"/><rect y="46" height="1.52" fill="#fef3b5"/><rect y="47.5" height="1.02" fill="#f69f61"/><rect y="48.5" height="2.02" fill="#fef0ae"/><rect y="50.5" height="1.52" fill="#fbcd83"/><rect y="52" height="1.02" fill="#fac77f"/><rect y="53" height="1.52" fill="#fac079"/><rect y="54.5" height="2.02" fill="#fde69c"/><rect y="56.5" height="1.02" fill="#fac47c"/><rect y="57.5" height="1.02" fill="#fbf7c1"/><rect y="58.5" height="1.02" fill="#fde9a2"/><rect y="59.5" height="1.52" fill="#fde092"/><rect y="61" height="3.02" fill="#fef1b0"/><rect y="64" height="2.52" fill="#fbca81"/><rect y="66.5" height="2.02" fill="#f7a665"/><rect y="68.5" height="3.02" fill="#fddf91"/><rect y="71.5" height="3.02" fill="#fac57d"/><rect y="74.5" height="2.02" fill="#f7a867"/><rect y="76.5" height="2.02" fill="#fbd187"/><rect y="78.5" height="1.52" fill="#fef5b8"/><rect y="80" height="1.52" fill="#fde8a0"/><rect y="81.5" height="1.52" fill="#fbca81"/><rect y="83" height="1.02" fill="#fcd78b"/><rect y="84" height="2.02" fill="#fef0ae"/><rect y="86" height="3.02" fill="#fdeca6"/><rect y="89" height="2.02" fill="#fde093"/><rect y="91" height="3.02" fill="#fcd78c"/><rect y="94" height="2.02" fill="#f9b973"/><rect y="96" height="1.02" fill="#fde194"/><rect y="97" height="0.52" fill="#fddf92"/></g><g transform="translate(234.20 0)"><rect y="3" height="2.02" fill="#fddd90"/><rect y="5" height="1.52" fill="#fde79e"/><rect y="6.5" height="2.52" fill="#f8ad6a"/><rect y="9" height="1.02" fill="#f6a162"/><rect y="10" height="1.02" fill="#eaf2d4"/><rect y="11" height="1.02" fill="#f4945b"/><rect y="12" height="2.02" fill="#91c7e7"/><rect y="14" height="1.02" fill="#519cd6"/><rect y="15" height="1.52" fill="#f38d57"/><rect y="16.5" height="1.02" fill="#f69f61"/><rect y="17.5" height="1.02" fill="#f8b36f"/><rect y="18.5" height="2.52" fill="#ec6541"/><rect y="21" height="2.52" fill="#f6f6c7"/><rect y="23.5" height="1.02" fill="#f9b470"/><rect y="24.5" height="1.52" fill="#fde59b"/><rect y="26" height="1.02" fill="#fac77f"/><rect y="27" height="2.52" fill="#f9b772"/><rect y="29.5" height="1.02" fill="#fef1b1"/><rect y="30.5" height="1.02" fill="#f59b5e"/><rect y="31.5" height="1.52" fill="#f8ad6b"/><rect y="33" height="1.02" fill="#fdde91"/><rect y="34" height="2.52" fill="#fdeca7"/><rect y="36.5" height="1.02" fill="#f9b974"/><rect y="37.5" height="1.52" fill="#fdeaa3"/><rect y="39" height="1.02" fill="#f5985d"/><rect y="40" height="1.52" fill="#fde295"/><rect y="41.5" height="2.02" fill="#fbd086"/><rect y="43.5" height="2.52" fill="#f9be78"/><rect y="46" height="1.52" fill="#fef4b6"/><rect y="47.5" height="1.02" fill="#f9b772"/><rect y="48.5" height="2.02" fill="#fde295"/><rect y="50.5" height="1.52" fill="#fde79e"/><rect y="52" height="1.02" fill="#f7a967"/><rect y="53" height="1.52" fill="#ed6741"/><rect y="54.5" height="2.02" fill="#fbcd84"/><rect y="56.5" height="1.02" fill="#f48f58"/><rect y="57.5" height="1.02" fill="#fdeba6"/><rect y="58.5" height="1.02" fill="#fef7bc"/><rect y="59.5" height="1.52" fill="#fcdc8f"/><rect y="61" height="3.02" fill="#fcd78b"/><rect y="64" height="2.52" fill="#fac87f"/><rect y="66.5" height="2.02" fill="#fac77f"/><rect y="68.5" height="3.02" fill="#fcda8e"/><rect y="71.5" height="3.02" fill="#fac27b"/><rect y="74.5" height="2.02" fill="#f17f4f"/><rect y="76.5" height="2.02" fill="#fbce84"/><rect y="78.5" height="1.52" fill="#f8b36f"/><rect y="80" height="1.52" fill="#fcd98d"/><rect y="81.5" height="1.52" fill="#fde8a0"/><rect y="83" height="1.02" fill="#fcd88c"/><rect y="84" height="2.02" fill="#fcd98d"/><rect y="86" height="3.02" fill="#fde69b"/><rect y="89" height="2.02" fill="#fde69b"/><rect y="91" height="3.02" fill="#f4935a"/><rect y="94" height="2.02" fill="#fbd186"/><rect y="96" height="1.02" fill="#f8b16d"/><rect y="97" height="0.52" fill="#fdeaa3"/></g><g transform="translate(245.85 0)"><rect y="3" height="2.02" fill="#fbd086"/><rect y="5" height="1.52" fill="#ebf2d3"/><rect y="6.5" height="2.52" fill="#fdeba5"/><rect y="9" height="1.02" fill="#f5995d"/><rect y="10" height="1.02" fill="#fcd58a"/><rect y="11" height="1.02" fill="#f5965c"/><rect y="12" height="2.02" fill="#f9bc76"/><rect y="14" height="1.02" fill="#fddf92"/><rect y="15" height="1.52" fill="#f9bd77"/><rect y="16.5" height="1.02" fill="#fac57d"/><rect y="17.5" height="1.02" fill="#fac57d"/><rect y="18.5" height="2.52" fill="#f9b570"/><rect y="21" height="2.52" fill="#fde8a0"/><rect y="23.5" height="1.02" fill="#f7a564"/><rect y="24.5" height="1.52" fill="#ef7248"/><rect y="26" height="1.02" fill="#fac57d"/><rect y="27" height="2.52" fill="#fbd086"/><rect y="29.5" height="1.02" fill="#f5975c"/><rect y="30.5" height="1.02" fill="#f07a4c"/><rect y="31.5" height="1.52" fill="#fbce84"/><rect y="33" height="1.02" fill="#f8ac6a"/><rect y="34" height="2.52" fill="#f9b772"/><rect y="36.5" height="1.02" fill="#feedaa"/><rect y="37.5" height="1.52" fill="#fde79d"/><rect y="39" height="1.02" fill="#f8ae6b"/><rect y="40" height="1.52" fill="#fbd287"/><rect y="41.5" height="2.02" fill="#fddf91"/><rect y="43.5" height="2.52" fill="#f38c56"/><rect y="46" height="1.52" fill="#fddf92"/><rect y="47.5" height="1.02" fill="#fabf78"/><rect y="48.5" height="2.02" fill="#fbd086"/><rect y="50.5" height="1.52" fill="#f9bd77"/><rect y="52" height="1.02" fill="#fde193"/><rect y="53" height="1.52" fill="#f9b672"/><rect y="54.5" height="2.02" fill="#fde395"/><rect y="56.5" height="1.02" fill="#f4945b"/><rect y="57.5" height="1.02" fill="#fcd98d"/><rect y="58.5" height="1.02" fill="#fde295"/><rect y="59.5" height="1.52" fill="#fde89f"/><rect y="61" height="3.02" fill="#f4945b"/><rect y="64" height="2.52" fill="#fbc980"/><rect y="66.5" height="2.02" fill="#f7a363"/><rect y="68.5" height="3.02" fill="#fde599"/><rect y="71.5" height="3.02" fill="#fef2b3"/><rect y="74.5" height="2.02" fill="#fbcb82"/><rect y="76.5" height="2.02" fill="#f9bb76"/><rect y="78.5" height="1.52" fill="#fbca81"/><rect y="80" height="1.52" fill="#fcd389"/><rect y="81.5" height="1.52" fill="#fbca81"/><rect y="83" height="1.02" fill="#fabf78"/><rect y="84" height="2.02" fill="#fcd88c"/><rect y="86" height="3.02" fill="#fdeba4"/><rect y="89" height="2.02" fill="#f7a765"/><rect y="91" height="3.02" fill="#fcd489"/><rect y="94" height="2.02" fill="#f8b26e"/><rect y="96" height="1.02" fill="#f6a061"/><rect y="97" height="0.52" fill="#fcd58a"/></g><g transform="translate(141.00 0)"><rect y="102.5" height="1.52" fill="#b7dced"/><rect y="104" height="1.52" fill="#cae7ef"/><rect y="105.5" height="3.02" fill="#a3d1ea"/><rect y="108.5" height="1.02" fill="#b3daec"/><rect y="109.5" height="2.02" fill="#b7dced"/><rect y="111.5" height="2.52" fill="#6dafdd"/><rect y="114" height="2.02" fill="#a8d4ea"/><rect y="116" height="2.02" fill="#4493d2"/><rect y="118" height="3.02" fill="#7fbbe2"/><rect y="121" height="1.52" fill="#62a8da"/><rect y="122.5" height="1.02" fill="#77b6e0"/><rect y="123.5" height="1.02" fill="#3588ce"/><rect y="124.5" height="1.02" fill="#eff3cf"/><rect y="125.5" height="2.02" fill="#b5dbec"/><rect y="127.5" height="1.02" fill="#e0efde"/><rect y="128.5" height="2.02" fill="#bee0ee"/><rect y="130.5" height="2.52" fill="#7cb9e1"/><rect y="133" height="1.02" fill="#b4daec"/><rect y="134" height="1.52" fill="#c8e5ef"/><rect y="135.5" height="2.52" fill="#3387ce"/><rect y="138" height="2.02" fill="#e8f1d6"/><rect y="140" height="2.02" fill="#8cc3e5"/><rect y="142" height="2.52" fill="#a3d1ea"/><rect y="144.5" height="1.02" fill="#9ccde9"/><rect y="145.5" height="1.02" fill="#d2ebee"/><rect y="146.5" height="3.02" fill="#4c99d4"/><rect y="149.5" height="1.52" fill="#89c1e5"/><rect y="151" height="2.02" fill="#a7d3ea"/><rect y="153" height="3.02" fill="#b9dded"/><rect y="156" height="1.52" fill="#e4f0db"/><rect y="157.5" height="2.02" fill="#4d99d4"/><rect y="159.5" height="2.02" fill="#bee0ee"/><rect y="161.5" height="3.02" fill="#58a1d7"/><rect y="164.5" height="1.02" fill="#549ed6"/><rect y="165.5" height="2.52" fill="#95cae8"/><rect y="168" height="1.52" fill="#bcdfed"/><rect y="169.5" height="2.52" fill="#4c99d4"/><rect y="172" height="1.02" fill="#e2efdd"/><rect y="173" height="2.52" fill="#74b4df"/><rect y="175.5" height="1.02" fill="#acd6eb"/><rect y="176.5" height="3.02" fill="#9dcee9"/><rect y="179.5" height="1.02" fill="#deeee0"/><rect y="180.5" height="1.02" fill="#badeed"/><rect y="181.5" height="2.02" fill="#64a9db"/><rect y="183.5" height="1.52" fill="#267dca"/><rect y="185" height="1.02" fill="#4392d2"/><rect y="186" height="1.02" fill="#3185cd"/></g><g transform="translate(152.65 0)"><rect y="102.5" height="1.52" fill="#fef6bb"/><rect y="104" height="1.52" fill="#fef2b2"/><rect y="105.5" height="3.02" fill="#fbcf85"/><rect y="108.5" height="1.02" fill="#fef1b1"/><rect y="109.5" height="2.02" fill="#feeeab"/><rect y="111.5" height="2.52" fill="#edf3d1"/><rect y="114" height="2.02" fill="#fde8a0"/><rect y="116" height="2.02" fill="#ebf2d2"/><rect y="118" height="3.02" fill="#fef7bc"/><rect y="121" height="1.52" fill="#deeee1"/><rect y="122.5" height="1.02" fill="#fdf8bf"/><rect y="123.5" height="1.02" fill="#eaf2d3"/><rect y="124.5" height="1.02" fill="#fdeaa4"/><rect y="125.5" height="2.02" fill="#fef2b2"/><rect y="127.5" height="1.02" fill="#fef7bc"/><rect y="128.5" height="2.02" fill="#fef1b0"/><rect y="130.5" height="2.52" fill="#d0eaf0"/><rect y="133" height="1.02" fill="#feefad"/><rect y="134" height="1.52" fill="#fef6ba"/><rect y="135.5" height="2.52" fill="#d7ece8"/><rect y="138" height="2.02" fill="#eef3d0"/><rect y="140" height="2.02" fill="#f2f4cb"/><rect y="142" height="2.52" fill="#f3f5ca"/><rect y="144.5" height="1.02" fill="#fef5b8"/><rect y="145.5" height="1.02" fill="#fde9a1"/><rect y="146.5" height="3.02" fill="#f7f6c5"/><rect y="149.5" height="1.52" fill="#f7f6c6"/><rect y="151" height="2.02" fill="#f8f6c4"/><rect y="153" height="3.02" fill="#fef7bc"/><rect y="156" height="1.52" fill="#fef8bd"/><rect y="157.5" height="2.02" fill="#e3f0dc"/><rect y="159.5" height="2.02" fill="#fef4b7"/><rect y="161.5" height="3.02" fill="#f2f4cb"/><rect y="164.5" height="1.02" fill="#dbede4"/><rect y="165.5" height="2.52" fill="#eff3cf"/><rect y="168" height="1.52" fill="#f9f6c4"/><rect y="169.5" height="2.52" fill="#d1eaef"/><rect y="172" height="1.02" fill="#fdeaa2"/><rect y="173" height="2.52" fill="#e4f0da"/><rect y="175.5" height="1.02" fill="#fef5b9"/><rect y="176.5" height="3.02" fill="#fef2b2"/><rect y="179.5" height="1.02" fill="#fef0ae"/><rect y="180.5" height="1.02" fill="#f7f6c6"/><rect y="181.5" height="2.02" fill="#fbf7c1"/><rect y="183.5" height="1.52" fill="#f8f6c5"/><rect y="185" height="1.02" fill="#f0f4ce"/><rect y="186" height="1.02" fill="#deeee0"/></g><g transform="translate(164.30 0)"><rect y="102.5" height="1.52" fill="#f28552"/><rect y="104" height="1.52" fill="#fac47c"/><rect y="105.5" height="3.02" fill="#58a1d8"/><rect y="108.5" height="1.02" fill="#4f9ad5"/><rect y="109.5" height="2.02" fill="#60a6da"/><rect y="111.5" height="2.52" fill="#3c8dd0"/><rect y="114" height="2.02" fill="#d0eaf0"/><rect y="116" height="2.02" fill="#b5dbec"/><rect y="118" height="3.02" fill="#5da4d9"/><rect y="121" height="1.52" fill="#227ac9"/><rect y="122.5" height="1.02" fill="#277eca"/><rect y="123.5" height="1.02" fill="#257dca"/><rect y="124.5" height="1.02" fill="#4291d1"/><rect y="125.5" height="2.02" fill="#3d8ed0"/><rect y="127.5" height="1.02" fill="#237bc9"/><rect y="128.5" height="2.02" fill="#1f78c8"/><rect y="130.5" height="2.52" fill="#b9dded"/><rect y="133" height="1.02" fill="#89c2e5"/><rect y="134" height="1.52" fill="#a7d3ea"/><rect y="135.5" height="2.52" fill="#bfe1ee"/><rect y="138" height="2.02" fill="#d4ebeb"/><rect y="140" height="2.02" fill="#98cbe8"/><rect y="142" height="2.52" fill="#529dd6"/><rect y="144.5" height="1.02" fill="#5aa2d8"/><rect y="145.5" height="1.02" fill="#388acf"/><rect y="146.5" height="3.02" fill="#71b2de"/><rect y="149.5" height="1.52" fill="#60a6da"/><rect y="151" height="2.02" fill="#519cd6"/><rect y="153" height="3.02" fill="#549ed6"/><rect y="156" height="1.52" fill="#bee0ed"/><rect y="157.5" height="2.02" fill="#83bde3"/><rect y="159.5" height="2.02" fill="#afd8eb"/><rect y="161.5" height="3.02" fill="#a8d4ea"/><rect y="164.5" height="1.02" fill="#74b3df"/><rect y="165.5" height="2.52" fill="#83bee3"/><rect y="168" height="1.52" fill="#ecf2d2"/><rect y="169.5" height="2.52" fill="#519cd6"/><rect y="172" height="1.02" fill="#d6ecea"/><rect y="173" height="2.52" fill="#9ecee9"/><rect y="175.5" height="1.02" fill="#b5dbec"/><rect y="176.5" height="3.02" fill="#ecf2d2"/><rect y="179.5" height="1.02" fill="#ecf2d2"/><rect y="180.5" height="1.02" fill="#a9d4eb"/><rect y="181.5" height="2.02" fill="#c8e5ef"/><rect y="183.5" height="1.52" fill="#aad5eb"/><rect y="185" height="1.02" fill="#e3f0db"/><rect y="186" height="1.02" fill="#9ccde9"/></g><g transform="translate(175.95 0)"><rect y="102.5" height="1.52" fill="#78b6e0"/><rect y="104" height="1.52" fill="#e9f1d5"/><rect y="105.5" height="3.02" fill="#ddeee1"/><rect y="108.5" height="1.02" fill="#bfe0ee"/><rect y="109.5" height="2.02" fill="#cce8ef"/><rect y="111.5" height="2.52" fill="#4694d3"/><rect y="114" height="2.02" fill="#c3e3ee"/><rect y="116" height="2.02" fill="#92c7e7"/><rect y="118" height="3.02" fill="#c8e6ef"/><rect y="121" height="1.52" fill="#88c1e4"/><rect y="122.5" height="1.02" fill="#bfe0ee"/><rect y="123.5" height="1.02" fill="#a3d1ea"/><rect y="124.5" height="1.02" fill="#6aaddc"/><rect y="125.5" height="2.02" fill="#86bfe4"/><rect y="127.5" height="1.02" fill="#74b3df"/><rect y="128.5" height="2.02" fill="#8fc5e6"/><rect y="130.5" height="2.52" fill="#78b6e0"/><rect y="133" height="1.02" fill="#4694d3"/><rect y="134" height="1.52" fill="#60a6da"/><rect y="135.5" height="2.52" fill="#9bcde9"/><rect y="138" height="2.02" fill="#a6d3ea"/><rect y="140" height="2.02" fill="#66aadb"/><rect y="142" height="2.52" fill="#87c0e4"/><rect y="144.5" height="1.02" fill="#aad5eb"/><rect y="145.5" height="1.02" fill="#deeee1"/><rect y="146.5" height="3.02" fill="#a5d2ea"/><rect y="149.5" height="1.52" fill="#c0e1ee"/><rect y="151" height="2.02" fill="#7ebae2"/><rect y="153" height="3.02" fill="#9acce8"/><rect y="156" height="1.52" fill="#dbede4"/><rect y="157.5" height="2.02" fill="#84bee3"/><rect y="159.5" height="2.02" fill="#bddfed"/><rect y="161.5" height="3.02" fill="#60a6da"/><rect y="164.5" height="1.02" fill="#90c6e6"/><rect y="165.5" height="2.52" fill="#8bc2e5"/><rect y="168" height="1.52" fill="#e4f0da"/><rect y="169.5" height="2.52" fill="#3286cd"/><rect y="172" height="1.02" fill="#9dcee9"/><rect y="173" height="2.52" fill="#83bee3"/><rect y="175.5" height="1.02" fill="#91c7e7"/><rect y="176.5" height="3.02" fill="#73b3df"/><rect y="179.5" height="1.02" fill="#c6e4ef"/><rect y="180.5" height="1.02" fill="#d8ece7"/><rect y="181.5" height="2.02" fill="#d1eaef"/><rect y="183.5" height="1.52" fill="#61a7da"/><rect y="185" height="1.02" fill="#7bb8e1"/><rect y="186" height="1.02" fill="#549ed6"/></g><g transform="translate(187.60 0)"><rect y="102.5" height="1.52" fill="#9ecee9"/><rect y="104" height="1.52" fill="#e0efdf"/><rect y="105.5" height="3.02" fill="#c2e2ee"/><rect y="108.5" height="1.02" fill="#c7e5ef"/><rect y="109.5" height="2.02" fill="#c3e3ee"/><rect y="111.5" height="2.52" fill="#b6dcec"/><rect y="114" height="2.02" fill="#ecf2d2"/><rect y="116" height="2.02" fill="#aad5eb"/><rect y="118" height="3.02" fill="#9acce9"/><rect y="121" height="1.52" fill="#8bc3e5"/><rect y="122.5" height="1.02" fill="#fef1b1"/><rect y="123.5" height="1.02" fill="#529dd6"/><rect y="124.5" height="1.02" fill="#fde69c"/><rect y="125.5" height="2.02" fill="#bbdeed"/><rect y="127.5" height="1.02" fill="#e0efdf"/><rect y="128.5" height="2.02" fill="#abd6eb"/><rect y="130.5" height="2.52" fill="#85bee3"/><rect y="133" height="1.02" fill="#e1efdd"/><rect y="134" height="1.52" fill="#badeed"/><rect y="135.5" height="2.52" fill="#4b98d4"/><rect y="138" height="2.02" fill="#bfe1ee"/><rect y="140" height="2.02" fill="#b5dbec"/><rect y="142" height="2.52" fill="#8bc3e5"/><rect y="144.5" height="1.02" fill="#c2e2ee"/><rect y="145.5" height="1.02" fill="#e0efdf"/><rect y="146.5" height="3.02" fill="#b5dbec"/><rect y="149.5" height="1.52" fill="#9ecfe9"/><rect y="151" height="2.02" fill="#a1d0e9"/><rect y="153" height="3.02" fill="#9dcee9"/><rect y="156" height="1.52" fill="#f4f5c9"/><rect y="157.5" height="2.02" fill="#60a6da"/><rect y="159.5" height="2.02" fill="#d9ede6"/><rect y="161.5" height="3.02" fill="#b1d9ec"/><rect y="164.5" height="1.02" fill="#bee0ee"/><rect y="165.5" height="2.52" fill="#b8dded"/><rect y="168" height="1.52" fill="#bbdeed"/><rect y="169.5" height="2.52" fill="#cfe9f0"/><rect y="172" height="1.02" fill="#dceee3"/><rect y="173" height="2.52" fill="#86c0e4"/><rect y="175.5" height="1.02" fill="#a1d0ea"/><rect y="176.5" height="3.02" fill="#dfefe0"/><rect y="179.5" height="1.02" fill="#e0efde"/><rect y="180.5" height="1.02" fill="#bcdfed"/><rect y="181.5" height="2.02" fill="#b1d9ec"/><rect y="183.5" height="1.52" fill="#cee9f0"/><rect y="185" height="1.02" fill="#4f9bd5"/><rect y="186" height="1.02" fill="#9ccde9"/></g><g transform="translate(199.25 0)"><rect y="102.5" height="1.52" fill="#c5e4ee"/><rect y="104" height="1.52" fill="#f5f5c8"/><rect y="105.5" height="3.02" fill="#b3daec"/><rect y="108.5" height="1.02" fill="#9bcde9"/><rect y="109.5" height="2.02" fill="#aed7eb"/><rect y="111.5" height="2.52" fill="#5da4d9"/><rect y="114" height="2.02" fill="#d8ece7"/><rect y="116" height="2.02" fill="#b7dced"/><rect y="118" height="3.02" fill="#bddfed"/><rect y="121" height="1.52" fill="#9dcee9"/><rect y="122.5" height="1.02" fill="#e0efdf"/><rect y="123.5" height="1.02" fill="#75b4df"/><rect y="124.5" height="1.02" fill="#fef5b8"/><rect y="125.5" height="2.02" fill="#e6f1d8"/><rect y="127.5" height="1.02" fill="#e3f0dc"/><rect y="128.5" height="2.02" fill="#c3e3ee"/><rect y="130.5" height="2.52" fill="#5ea5d9"/><rect y="133" height="1.02" fill="#daede6"/><rect y="134" height="1.52" fill="#eff3ce"/><rect y="135.5" height="2.52" fill="#3e8fd1"/><rect y="138" height="2.02" fill="#c6e5ef"/><rect y="140" height="2.02" fill="#9fcfe9"/><rect y="142" height="2.52" fill="#a5d2ea"/><rect y="144.5" height="1.02" fill="#a7d3ea"/><rect y="145.5" height="1.02" fill="#c6e4ef"/><rect y="146.5" height="3.02" fill="#deeee1"/><rect y="149.5" height="1.52" fill="#cfe9f0"/><rect y="151" height="2.02" fill="#e1efdd"/><rect y="153" height="3.02" fill="#c8e6ef"/><rect y="156" height="1.52" fill="#deeee1"/><rect y="157.5" height="2.02" fill="#8dc4e6"/><rect y="159.5" height="2.02" fill="#bbdeed"/><rect y="161.5" height="3.02" fill="#bbdeed"/><rect y="164.5" height="1.02" fill="#b8dded"/><rect y="165.5" height="2.52" fill="#add7eb"/><rect y="168" height="1.52" fill="#c6e5ef"/><rect y="169.5" height="2.52" fill="#86bfe4"/><rect y="172" height="1.02" fill="#f1f4cc"/><rect y="173" height="2.52" fill="#99cbe8"/><rect y="175.5" height="1.02" fill="#bfe1ee"/><rect y="176.5" height="3.02" fill="#cbe7ef"/><rect y="179.5" height="1.02" fill="#fef1b0"/><rect y="180.5" height="1.02" fill="#a0d0e9"/><rect y="181.5" height="2.02" fill="#e0efde"/><rect y="183.5" height="1.52" fill="#abd5eb"/><rect y="185" height="1.02" fill="#dceee3"/><rect y="186" height="1.02" fill="#6fb0de"/></g><g transform="translate(210.90 0)"><rect y="102.5" height="1.52" fill="#a0d0e9"/><rect y="104" height="1.52" fill="#b5dbec"/><rect y="105.5" height="3.02" fill="#fef0ae"/><rect y="108.5" height="1.02" fill="#9ccde9"/><rect y="109.5" height="2.02" fill="#b4dbec"/><rect y="111.5" height="2.52" fill="#daede5"/><rect y="114" height="2.02" fill="#e9f1d5"/><rect y="116" height="2.02" fill="#b4dbec"/><rect y="118" height="3.02" fill="#aed7eb"/><rect y="121" height="1.52" fill="#9bcde9"/><rect y="122.5" height="1.02" fill="#fef2b2"/><rect y="123.5" height="1.02" fill="#4896d3"/><rect y="124.5" height="1.02" fill="#fef7bd"/><rect y="125.5" height="2.02" fill="#eff3cf"/><rect y="127.5" height="1.02" fill="#fcf7c0"/><rect y="128.5" height="2.02" fill="#deeee1"/><rect y="130.5" height="2.52" fill="#62a7da"/><rect y="133" height="1.02" fill="#ecf3d1"/><rect y="134" height="1.52" fill="#afd8eb"/><rect y="135.5" height="2.52" fill="#abd6eb"/><rect y="138" height="2.02" fill="#feefac"/><rect y="140" height="2.02" fill="#8bc3e5"/><rect y="142" height="2.52" fill="#d9ede6"/><rect y="144.5" height="1.02" fill="#a9d4eb"/><rect y="145.5" height="1.02" fill="#bee0ed"/><rect y="146.5" height="3.02" fill="#c5e4ee"/><rect y="149.5" height="1.52" fill="#cbe7ef"/><rect y="151" height="2.02" fill="#b8dded"/><rect y="153" height="3.02" fill="#e2f0dc"/><rect y="156" height="1.52" fill="#fdf8bf"/><rect y="157.5" height="2.02" fill="#badeed"/><rect y="159.5" height="2.02" fill="#b3daec"/><rect y="161.5" height="3.02" fill="#82bde3"/><rect y="164.5" height="1.02" fill="#cee9f0"/><rect y="165.5" height="2.52" fill="#a8d4ea"/><rect y="168" height="1.52" fill="#cfeaf0"/><rect y="169.5" height="2.52" fill="#b0d8ec"/><rect y="172" height="1.02" fill="#e4f0da"/><rect y="173" height="2.52" fill="#8fc6e6"/><rect y="175.5" height="1.02" fill="#c2e2ee"/><rect y="176.5" height="3.02" fill="#fef6ba"/><rect y="179.5" height="1.02" fill="#deeee0"/><rect y="180.5" height="1.02" fill="#e2efdd"/><rect y="181.5" height="2.02" fill="#d5ebeb"/><rect y="183.5" height="1.52" fill="#b3daec"/><rect y="185" height="1.02" fill="#b2d9ec"/><rect y="186" height="1.02" fill="#6fb0de"/></g><g transform="translate(222.55 0)"><rect y="102.5" height="1.52" fill="#a8d4eb"/><rect y="104" height="1.52" fill="#ecf2d2"/><rect y="105.5" height="3.02" fill="#98cbe8"/><rect y="108.5" height="1.02" fill="#cfeaf0"/><rect y="109.5" height="2.02" fill="#f9f7c3"/><rect y="111.5" height="2.52" fill="#4594d2"/><rect y="114" height="2.02" fill="#c9e6ef"/><rect y="116" height="2.02" fill="#d2ebed"/><rect y="118" height="3.02" fill="#88c1e4"/><rect y="121" height="1.52" fill="#7dbae1"/><rect y="122.5" height="1.02" fill="#b7dced"/><rect y="123.5" height="1.02" fill="#5da4d9"/><rect y="124.5" height="1.02" fill="#fef8be"/><rect y="125.5" height="2.02" fill="#fef0ae"/><rect y="127.5" height="1.02" fill="#edf3d0"/><rect y="128.5" height="2.02" fill="#fdf8bf"/><rect y="130.5" height="2.52" fill="#529cd6"/><rect y="133" height="1.02" fill="#ecf3d1"/><rect y="134" height="1.52" fill="#e3f0db"/><rect y="135.5" height="2.52" fill="#4694d3"/><rect y="138" height="2.02" fill="#a5d2ea"/><rect y="140" height="2.02" fill="#cee9f0"/><rect y="142" height="2.52" fill="#dceee3"/><rect y="144.5" height="1.02" fill="#a8d4eb"/><rect y="145.5" height="1.02" fill="#bee0ee"/><rect y="146.5" height="3.02" fill="#9fcfe9"/><rect y="149.5" height="1.52" fill="#c7e5ef"/><rect y="151" height="2.02" fill="#72b2de"/><rect y="153" height="3.02" fill="#f2f4cb"/><rect y="156" height="1.52" fill="#fde9a1"/><rect y="157.5" height="2.02" fill="#8cc3e5"/><rect y="159.5" height="2.02" fill="#eff3cf"/><rect y="161.5" height="3.02" fill="#70b1de"/><rect y="164.5" height="1.02" fill="#7ebae2"/><rect y="165.5" height="2.52" fill="#92c7e7"/><rect y="168" height="1.52" fill="#b9dded"/><rect y="169.5" height="2.52" fill="#c3e3ee"/><rect y="172" height="1.02" fill="#d5ecea"/><rect y="173" height="2.52" fill="#81bce2"/><rect y="175.5" height="1.02" fill="#afd8eb"/><rect y="176.5" height="3.02" fill="#cbe7ef"/><rect y="179.5" height="1.02" fill="#4d99d5"/><rect y="180.5" height="1.02" fill="#3f8fd1"/><rect y="181.5" height="2.02" fill="#3588ce"/><rect y="183.5" height="1.52" fill="#6dafdd"/><rect y="185" height="1.02" fill="#4996d3"/><rect y="186" height="1.02" fill="#4593d2"/></g><g transform="translate(234.20 0)"><rect y="102.5" height="1.52" fill="#a8d4ea"/><rect y="104" height="1.52" fill="#e3f0db"/><rect y="105.5" height="3.02" fill="#badeed"/><rect y="108.5" height="1.02" fill="#84bee3"/><rect y="109.5" height="2.02" fill="#e8f1d6"/><rect y="111.5" height="2.52" fill="#82bce3"/><rect y="114" height="2.02" fill="#f9f7c3"/><rect y="116" height="2.02" fill="#add6eb"/><rect y="118" height="3.02" fill="#abd6eb"/><rect y="121" height="1.52" fill="#8bc3e5"/><rect y="122.5" height="1.02" fill="#f6f6c7"/><rect y="123.5" height="1.02" fill="#297fcb"/><rect y="124.5" height="1.02" fill="#f8f6c5"/><rect y="125.5" height="2.02" fill="#ebf2d3"/><rect y="127.5" height="1.02" fill="#feefac"/><rect y="128.5" height="2.02" fill="#d2eaee"/><rect y="130.5" height="2.52" fill="#227ac9"/><rect y="133" height="1.02" fill="#d6ecea"/><rect y="134" height="1.52" fill="#c9e6ef"/><rect y="135.5" height="2.52" fill="#6aaddc"/><rect y="138" height="2.02" fill="#c5e4ee"/><rect y="140" height="2.02" fill="#c0e1ee"/><rect y="142" height="2.52" fill="#f4f5c9"/><rect y="144.5" height="1.02" fill="#a7d3ea"/><rect y="145.5" height="1.02" fill="#dbede4"/><rect y="146.5" height="3.02" fill="#96cae8"/><rect y="149.5" height="1.52" fill="#aad5eb"/><rect y="151" height="2.02" fill="#99cce8"/><rect y="153" height="3.02" fill="#bfe1ee"/><rect y="156" height="1.52" fill="#fdeca7"/><rect y="157.5" height="2.02" fill="#6dafdd"/><rect y="159.5" height="2.02" fill="#cee9f0"/><rect y="161.5" height="3.02" fill="#d0eaf0"/><rect y="164.5" height="1.02" fill="#a8d4ea"/><rect y="165.5" height="2.52" fill="#c4e4ee"/><rect y="168" height="1.52" fill="#cbe8ef"/><rect y="169.5" height="2.52" fill="#66aadb"/><rect y="172" height="1.02" fill="#c4e4ee"/><rect y="173" height="2.52" fill="#91c7e7"/><rect y="175.5" height="1.02" fill="#c4e3ee"/><rect y="176.5" height="3.02" fill="#b6dbec"/><rect y="179.5" height="1.02" fill="#d0eaf0"/><rect y="180.5" height="1.02" fill="#e2f0dc"/><rect y="181.5" height="2.02" fill="#b2daec"/><rect y="183.5" height="1.52" fill="#98cbe8"/><rect y="185" height="1.02" fill="#aad5eb"/><rect y="186" height="1.02" fill="#3085cd"/></g><g transform="translate(245.85 0)"><rect y="102.5" height="1.52" fill="#b6dbec"/><rect y="104" height="1.52" fill="#d4ebeb"/><rect y="105.5" height="3.02" fill="#ddeee2"/><rect y="108.5" height="1.02" fill="#a4d2ea"/><rect y="109.5" height="2.02" fill="#e1efdd"/><rect y="111.5" height="2.52" fill="#75b4df"/><rect y="114" height="2.02" fill="#b4dbec"/><rect y="116" height="2.02" fill="#abd6eb"/><rect y="118" height="3.02" fill="#e7f1d8"/><rect y="121" height="1.52" fill="#a5d2ea"/><rect y="122.5" height="1.02" fill="#b4daec"/><rect y="123.5" height="1.02" fill="#519cd6"/><rect y="124.5" height="1.02" fill="#a3d1ea"/><rect y="125.5" height="2.02" fill="#d1eaef"/><rect y="127.5" height="1.02" fill="#bee0ee"/><rect y="128.5" height="2.02" fill="#d3ebed"/><rect y="130.5" height="2.52" fill="#97cbe8"/><rect y="133" height="1.02" fill="#e0efdf"/><rect y="134" height="1.52" fill="#cbe7ef"/><rect y="135.5" height="2.52" fill="#d7ece8"/><rect y="138" height="2.02" fill="#a8d4eb"/><rect y="140" height="2.02" fill="#c6e4ef"/><rect y="142" height="2.52" fill="#dfefe0"/><rect y="144.5" height="1.02" fill="#c5e4ee"/><rect y="145.5" height="1.02" fill="#e5f1d9"/><rect y="146.5" height="3.02" fill="#c3e3ee"/><rect y="149.5" height="1.52" fill="#cee9f0"/><rect y="151" height="2.02" fill="#a4d2ea"/><rect y="153" height="3.02" fill="#dbede4"/><rect y="156" height="1.52" fill="#fde59b"/><rect y="157.5" height="2.02" fill="#b1d9ec"/><rect y="159.5" height="2.02" fill="#c0e1ee"/><rect y="161.5" height="3.02" fill="#dceee3"/><rect y="164.5" height="1.02" fill="#a2d1ea"/><rect y="165.5" height="2.52" fill="#b0d8ec"/><rect y="168" height="1.52" fill="#ddeee2"/><rect y="169.5" height="2.52" fill="#70b1de"/><rect y="172" height="1.02" fill="#e5f0da"/><rect y="173" height="2.52" fill="#e7f1d7"/><rect y="175.5" height="1.02" fill="#c2e2ee"/><rect y="176.5" height="3.02" fill="#d7ece8"/><rect y="179.5" height="1.02" fill="#d9ede6"/><rect y="180.5" height="1.02" fill="#f5f5c8"/><rect y="181.5" height="2.02" fill="#dceee3"/><rect y="183.5" height="1.52" fill="#afd8eb"/><rect y="185" height="1.02" fill="#cce8ef"/><rect y="186" height="1.02" fill="#3286cd"/></g><g transform="translate(261.00 0)"><rect y="3" height="2.52" fill="#d3ebed"/><rect y="5.5" height="1.52" fill="#cae7ef"/><rect y="7" height="1.52" fill="#d9ede7"/><rect y="8.5" height="1.52" fill="#a3d1ea"/><rect y="10" height="1.02" fill="#cde8f0"/><rect y="11" height="3.02" fill="#aed7eb"/><rect y="14" height="2.52" fill="#dfefe0"/><rect y="16.5" height="2.02" fill="#bbdeed"/><rect y="18.5" height="2.02" fill="#d1eaee"/><rect y="20.5" height="1.02" fill="#9fcfe9"/><rect y="21.5" height="2.52" fill="#e5f0da"/><rect y="24" height="1.52" fill="#c1e2ee"/><rect y="25.5" height="2.52" fill="#d5ecea"/><rect y="28" height="1.52" fill="#cae7ef"/><rect y="29.5" height="2.02" fill="#ddeee2"/><rect y="31.5" height="2.52" fill="#e6f1d9"/><rect y="34" height="3.02" fill="#d8ede7"/><rect y="37" height="3.02" fill="#8fc5e6"/><rect y="40" height="1.02" fill="#e0efde"/><rect y="41" height="2.52" fill="#ebf2d3"/><rect y="43.5" height="1.52" fill="#c7e5ef"/><rect y="45" height="2.02" fill="#b9deed"/><rect y="47" height="1.02" fill="#f7f6c5"/><rect y="48" height="2.52" fill="#b3daec"/><rect y="50.5" height="3.02" fill="#c0e1ee"/><rect y="53.5" height="1.02" fill="#84bee3"/><rect y="54.5" height="1.02" fill="#f7f6c5"/><rect y="55.5" height="2.02" fill="#9bcde9"/><rect y="57.5" height="1.52" fill="#d2ebed"/><rect y="59" height="1.52" fill="#d7ece8"/><rect y="60.5" height="1.52" fill="#dceee3"/><rect y="62" height="2.02" fill="#cae7ef"/><rect y="64" height="1.02" fill="#b6dbec"/><rect y="65" height="3.02" fill="#d1eaef"/><rect y="68" height="1.52" fill="#e4f0da"/><rect y="69.5" height="3.02" fill="#cbe7ef"/><rect y="72.5" height="1.02" fill="#cee9f0"/><rect y="73.5" height="2.02" fill="#f2f4cb"/><rect y="75.5" height="2.02" fill="#e2efdd"/><rect y="77.5" height="2.52" fill="#fde9a2"/><rect y="80" height="3.02" fill="#fdeda8"/><rect y="83" height="1.52" fill="#eef3cf"/><rect y="84.5" height="1.52" fill="#fef3b4"/><rect y="86" height="2.52" fill="#feeeaa"/><rect y="88.5" height="1.02" fill="#ecf2d2"/><rect y="89.5" height="2.02" fill="#feefac"/><rect y="91.5" height="1.02" fill="#daede5"/><rect y="92.5" height="2.02" fill="#fde79e"/><rect y="94.5" height="2.02" fill="#fef5b9"/><rect y="96.5" height="1.02" fill="#f0f4ce"/></g><g transform="translate(272.65 0)"><rect y="3" height="2.52" fill="#cee9f0"/><rect y="5.5" height="1.52" fill="#d6ecea"/><rect y="7" height="1.52" fill="#7db9e1"/><rect y="8.5" height="1.52" fill="#ddeee2"/><rect y="10" height="1.02" fill="#a8d4eb"/><rect y="11" height="3.02" fill="#c9e6ef"/><rect y="14" height="2.52" fill="#9acce9"/><rect y="16.5" height="2.02" fill="#99cce8"/><rect y="18.5" height="2.02" fill="#7fbbe2"/><rect y="20.5" height="1.02" fill="#3688ce"/><rect y="21.5" height="2.52" fill="#4a97d4"/><rect y="24" height="1.52" fill="#8cc3e5"/><rect y="25.5" height="2.52" fill="#4896d3"/><rect y="28" height="1.52" fill="#4f9bd5"/><rect y="29.5" height="2.02" fill="#70b1de"/><rect y="31.5" height="2.52" fill="#c4e3ee"/><rect y="34" height="3.02" fill="#63a8da"/><rect y="37" height="3.02" fill="#69acdc"/><rect y="40" height="1.02" fill="#65aadb"/><rect y="41" height="2.52" fill="#95c9e8"/><rect y="43.5" height="1.52" fill="#a1d0e9"/><rect y="45" height="2.02" fill="#70b0de"/><rect y="47" height="1.02" fill="#9ecfe9"/><rect y="48" height="2.52" fill="#59a2d8"/><rect y="50.5" height="3.02" fill="#539dd6"/><rect y="53.5" height="1.02" fill="#76b5e0"/><rect y="54.5" height="1.02" fill="#5ea5d9"/><rect y="55.5" height="2.02" fill="#4a97d4"/><rect y="57.5" height="1.52" fill="#79b6e0"/><rect y="59" height="1.52" fill="#95cae8"/><rect y="60.5" height="1.52" fill="#96cae8"/><rect y="62" height="2.02" fill="#56a0d7"/><rect y="64" height="1.02" fill="#549ed6"/><rect y="65" height="3.02" fill="#a2d1ea"/><rect y="68" height="1.52" fill="#7bb8e1"/><rect y="69.5" height="3.02" fill="#9ccde9"/><rect y="72.5" height="1.02" fill="#9ccde9"/><rect y="73.5" height="2.02" fill="#d6ecea"/><rect y="75.5" height="2.02" fill="#569fd7"/><rect y="77.5" height="2.52" fill="#edf3d0"/><rect y="80" height="3.02" fill="#cce8ef"/><rect y="83" height="1.52" fill="#cce8ef"/><rect y="84.5" height="1.52" fill="#c7e5ef"/><rect y="86" height="2.52" fill="#e9f2d4"/><rect y="88.5" height="1.02" fill="#bde0ed"/><rect y="89.5" height="2.02" fill="#edf3d1"/><rect y="91.5" height="1.02" fill="#fef5b8"/><rect y="92.5" height="2.02" fill="#fcf7c0"/><rect y="94.5" height="2.02" fill="#c7e5ef"/><rect y="96.5" height="1.02" fill="#e8f1d6"/></g><g transform="translate(284.30 0)"><rect y="3" height="2.52" fill="#f0f4cd"/><rect y="5.5" height="1.52" fill="#fef6b9"/><rect y="7" height="1.52" fill="#fef5b7"/><rect y="8.5" height="1.52" fill="#fdf8bf"/><rect y="10" height="1.02" fill="#fef4b7"/><rect y="11" height="3.02" fill="#e8f1d6"/><rect y="14" height="2.52" fill="#fef2b3"/><rect y="16.5" height="2.02" fill="#fef0b0"/><rect y="18.5" height="2.02" fill="#fef7bd"/><rect y="20.5" height="1.02" fill="#e8f1d6"/><rect y="21.5" height="2.52" fill="#faf7c2"/><rect y="24" height="1.52" fill="#feeeaa"/><rect y="25.5" height="2.52" fill="#fdeca7"/><rect y="28" height="1.52" fill="#267dca"/><rect y="29.5" height="2.02" fill="#3a8ccf"/><rect y="31.5" height="2.52" fill="#4a97d4"/><rect y="34" height="3.02" fill="#82bce3"/><rect y="37" height="3.02" fill="#a6d3ea"/><rect y="40" height="1.02" fill="#fef2b2"/><rect y="41" height="2.52" fill="#fef4b7"/><rect y="43.5" height="1.52" fill="#fef8be"/><rect y="45" height="2.02" fill="#fef3b5"/><rect y="47" height="1.02" fill="#fef1b0"/><rect y="48" height="2.52" fill="#fef7bc"/><rect y="50.5" height="3.02" fill="#f4f5c9"/><rect y="53.5" height="1.02" fill="#eef3cf"/><rect y="54.5" height="1.02" fill="#fef1b0"/><rect y="55.5" height="2.02" fill="#f7f6c5"/><rect y="57.5" height="1.52" fill="#fef5b8"/><rect y="59" height="1.52" fill="#fef3b4"/><rect y="60.5" height="1.52" fill="#f38a55"/><rect y="62" height="2.02" fill="#feefad"/><rect y="64" height="1.02" fill="#fef1b0"/><rect y="65" height="3.02" fill="#feeeaa"/><rect y="68" height="1.52" fill="#f69f61"/><rect y="69.5" height="3.02" fill="#f7f6c6"/><rect y="72.5" height="1.02" fill="#feefad"/><rect y="73.5" height="2.02" fill="#fbf7c1"/><rect y="75.5" height="2.02" fill="#feeeaa"/><rect y="77.5" height="2.52" fill="#3487ce"/><rect y="80" height="3.02" fill="#4795d3"/><rect y="83" height="1.52" fill="#60a6da"/><rect y="84.5" height="1.52" fill="#3d8ed0"/><rect y="86" height="2.52" fill="#257cca"/><rect y="88.5" height="1.02" fill="#4896d3"/><rect y="89.5" height="2.02" fill="#388acf"/><rect y="91.5" height="1.02" fill="#4896d3"/><rect y="92.5" height="2.02" fill="#4b98d4"/><rect y="94.5" height="2.02" fill="#85bfe4"/><rect y="96.5" height="1.02" fill="#9bcde9"/></g><g transform="translate(295.95 0)"><rect y="3" height="2.52" fill="#eef3cf"/><rect y="5.5" height="1.52" fill="#f9f6c4"/><rect y="7" height="1.52" fill="#e4f0db"/><rect y="8.5" height="1.52" fill="#eff4ce"/><rect y="10" height="1.02" fill="#e6f1d8"/><rect y="11" height="3.02" fill="#e4f0da"/><rect y="14" height="2.52" fill="#faf7c3"/><rect y="16.5" height="2.02" fill="#fef7bc"/><rect y="18.5" height="2.02" fill="#daede5"/><rect y="20.5" height="1.02" fill="#e5f0d9"/><rect y="21.5" height="2.52" fill="#e1efdd"/><rect y="24" height="1.52" fill="#f3f5ca"/><rect y="25.5" height="2.52" fill="#fbf7c1"/><rect y="28" height="1.52" fill="#fef8be"/><rect y="29.5" height="2.02" fill="#f3f5ca"/><rect y="31.5" height="2.52" fill="#fdf8bf"/><rect y="34" height="3.02" fill="#eef3cf"/><rect y="37" height="3.02" fill="#cee9f0"/><rect y="40" height="1.02" fill="#dceee3"/><rect y="41" height="2.52" fill="#f5f5c7"/><rect y="43.5" height="1.52" fill="#e3f0dc"/><rect y="45" height="2.02" fill="#eef3cf"/><rect y="47" height="1.02" fill="#fef4b6"/><rect y="48" height="2.52" fill="#fbf7c1"/><rect y="50.5" height="3.02" fill="#e4f0da"/><rect y="53.5" height="1.02" fill="#e4f0db"/><rect y="54.5" height="1.02" fill="#ebf2d3"/><rect y="55.5" height="2.02" fill="#fdf8c0"/><rect y="57.5" height="1.52" fill="#e6f1d8"/><rect y="59" height="1.52" fill="#fef8be"/><rect y="60.5" height="1.52" fill="#fef7bc"/><rect y="62" height="2.02" fill="#fef8be"/><rect y="64" height="1.02" fill="#f7f6c6"/><rect y="65" height="3.02" fill="#f0f4ce"/><rect y="68" height="1.52" fill="#e9f2d4"/><rect y="69.5" height="3.02" fill="#fef8bd"/><rect y="72.5" height="1.02" fill="#f3f5ca"/><rect y="73.5" height="2.02" fill="#fef4b6"/><rect y="75.5" height="2.02" fill="#e4f0db"/><rect y="77.5" height="2.52" fill="#fef8bd"/><rect y="80" height="3.02" fill="#e9f2d5"/><rect y="83" height="1.52" fill="#ebf2d2"/><rect y="84.5" height="1.52" fill="#fef2b3"/><rect y="86" height="2.52" fill="#fef6bb"/><rect y="88.5" height="1.02" fill="#ddeee2"/><rect y="89.5" height="2.02" fill="#fef8bd"/><rect y="91.5" height="1.02" fill="#e8f1d6"/><rect y="92.5" height="2.02" fill="#f8f6c4"/><rect y="94.5" height="2.02" fill="#f0f4cd"/><rect y="96.5" height="1.02" fill="#fef5b8"/></g><g transform="translate(307.60 0)"><rect y="3" height="2.52" fill="#e8f1d6"/><rect y="5.5" height="1.52" fill="#f1f4cc"/><rect y="7" height="1.52" fill="#cfeaf0"/><rect y="8.5" height="1.52" fill="#f6f5c7"/><rect y="10" height="1.02" fill="#fdf8bf"/><rect y="11" height="3.02" fill="#e4f0da"/><rect y="14" height="2.52" fill="#e5f0da"/><rect y="16.5" height="2.02" fill="#f8f6c4"/><rect y="18.5" height="2.02" fill="#f7f6c5"/><rect y="20.5" height="1.02" fill="#deeee1"/><rect y="21.5" height="2.52" fill="#d7ece8"/><rect y="24" height="1.52" fill="#ebf2d3"/><rect y="25.5" height="2.52" fill="#f4f5c9"/><rect y="28" height="1.52" fill="#eff4ce"/><rect y="29.5" height="2.02" fill="#dfefdf"/><rect y="31.5" height="2.52" fill="#f6f6c7"/><rect y="34" height="3.02" fill="#fef7bb"/><rect y="37" height="3.02" fill="#f4f5c8"/><rect y="40" height="1.02" fill="#dceee2"/><rect y="41" height="2.52" fill="#ddeee2"/><rect y="43.5" height="1.52" fill="#e9f2d5"/><rect y="45" height="2.02" fill="#e8f1d6"/><rect y="47" height="1.02" fill="#f4f5c9"/><rect y="48" height="2.52" fill="#f1f4cc"/><rect y="50.5" height="3.02" fill="#edf3d0"/><rect y="53.5" height="1.02" fill="#e2efdd"/><rect y="54.5" height="1.02" fill="#eaf2d4"/><rect y="55.5" height="2.02" fill="#deeee1"/><rect y="57.5" height="1.52" fill="#e9f2d5"/><rect y="59" height="1.52" fill="#f4f5c9"/><rect y="60.5" height="1.52" fill="#faf7c2"/><rect y="62" height="2.02" fill="#fde8a0"/><rect y="64" height="1.02" fill="#f1f4cc"/><rect y="65" height="3.02" fill="#f9f6c4"/><rect y="68" height="1.52" fill="#f3f5ca"/><rect y="69.5" height="3.02" fill="#ebf2d3"/><rect y="72.5" height="1.02" fill="#e2efdd"/><rect y="73.5" height="2.02" fill="#fef7bb"/><rect y="75.5" height="2.02" fill="#fdf8bf"/><rect y="77.5" height="2.52" fill="#e9f2d5"/><rect y="80" height="3.02" fill="#faf7c2"/><rect y="83" height="1.52" fill="#edf3d1"/><rect y="84.5" height="1.52" fill="#f1f4cc"/><rect y="86" height="2.52" fill="#fef1b0"/><rect y="88.5" height="1.02" fill="#e7f1d7"/><rect y="89.5" height="2.02" fill="#e3f0db"/><rect y="91.5" height="1.02" fill="#eaf2d4"/><rect y="92.5" height="2.02" fill="#e6f1d8"/><rect y="94.5" height="2.02" fill="#f8f6c5"/><rect y="96.5" height="1.02" fill="#e6f1d8"/></g><g transform="translate(319.25 0)"><rect y="3" height="2.52" fill="#9ccde9"/><rect y="5.5" height="1.52" fill="#82bde3"/><rect y="7" height="1.52" fill="#2f83cc"/><rect y="8.5" height="1.52" fill="#9fcfe9"/><rect y="10" height="1.02" fill="#69acdc"/><rect y="11" height="3.02" fill="#79b7e0"/><rect y="14" height="2.52" fill="#7cb9e1"/><rect y="16.5" height="2.02" fill="#92c7e7"/><rect y="18.5" height="2.02" fill="#83bde3"/><rect y="20.5" height="1.02" fill="#66aadb"/><rect y="21.5" height="2.52" fill="#75b4df"/><rect y="24" height="1.52" fill="#91c7e7"/><rect y="25.5" height="2.52" fill="#62a8da"/><rect y="28" height="1.52" fill="#a7d4ea"/><rect y="29.5" height="2.02" fill="#61a6da"/><rect y="31.5" height="2.52" fill="#add7eb"/><rect y="34" height="3.02" fill="#94c9e7"/><rect y="37" height="3.02" fill="#4090d1"/><rect y="40" height="1.02" fill="#6fb0de"/><rect y="41" height="2.52" fill="#7dbae1"/><rect y="43.5" height="1.52" fill="#5fa5d9"/><rect y="45" height="2.02" fill="#4493d2"/><rect y="47" height="1.02" fill="#7bb8e1"/><rect y="48" height="2.52" fill="#a4d2ea"/><rect y="50.5" height="3.02" fill="#4a97d4"/><rect y="53.5" height="1.02" fill="#3c8dd0"/><rect y="54.5" height="1.02" fill="#9ccde9"/><rect y="55.5" height="2.02" fill="#91c7e7"/><rect y="57.5" height="1.52" fill="#b7dced"/><rect y="59" height="1.52" fill="#acd6eb"/><rect y="60.5" height="1.52" fill="#99cce8"/><rect y="62" height="2.02" fill="#b0d8ec"/><rect y="64" height="1.02" fill="#5fa5d9"/><rect y="65" height="3.02" fill="#71b1de"/><rect y="68" height="1.52" fill="#afd8eb"/><rect y="69.5" height="3.02" fill="#c0e1ee"/><rect y="72.5" height="1.02" fill="#4f9bd5"/><rect y="73.5" height="2.02" fill="#c5e4ef"/><rect y="75.5" height="2.02" fill="#8cc3e5"/><rect y="77.5" height="2.52" fill="#6caedd"/><rect y="80" height="3.02" fill="#d7ece9"/><rect y="83" height="1.52" fill="#e5f0d9"/><rect y="84.5" height="1.52" fill="#ecf3d1"/><rect y="86" height="2.52" fill="#c6e4ef"/><rect y="88.5" height="1.02" fill="#d0eaef"/><rect y="89.5" height="2.02" fill="#c7e5ef"/><rect y="91.5" height="1.02" fill="#e0efde"/><rect y="92.5" height="2.02" fill="#d7ece8"/><rect y="94.5" height="2.02" fill="#e3f0db"/><rect y="96.5" height="1.02" fill="#f0f4cd"/></g><g transform="translate(330.90 0)"><rect y="3" height="2.52" fill="#a4d2ea"/><rect y="5.5" height="1.52" fill="#b2d9ec"/><rect y="7" height="1.52" fill="#d0eaf0"/><rect y="8.5" height="1.52" fill="#acd6eb"/><rect y="10" height="1.02" fill="#97cae8"/><rect y="11" height="3.02" fill="#bee0ed"/><rect y="14" height="2.52" fill="#edf3d0"/><rect y="16.5" height="2.02" fill="#c2e2ee"/><rect y="18.5" height="2.02" fill="#b5dbec"/><rect y="20.5" height="1.02" fill="#88c0e4"/><rect y="21.5" height="2.52" fill="#a4d2ea"/><rect y="24" height="1.52" fill="#eaf2d4"/><rect y="25.5" height="2.52" fill="#acd6eb"/><rect y="28" height="1.52" fill="#bee0ee"/><rect y="29.5" height="2.02" fill="#d6ece9"/><rect y="31.5" height="2.52" fill="#deeee1"/><rect y="34" height="3.02" fill="#eef3d0"/><rect y="37" height="3.02" fill="#b8dded"/><rect y="40" height="1.02" fill="#afd8eb"/><rect y="41" height="2.52" fill="#b6dcec"/><rect y="43.5" height="1.52" fill="#cce8ef"/><rect y="45" height="2.02" fill="#b7dced"/><rect y="47" height="1.02" fill="#cee9f0"/><rect y="48" height="2.52" fill="#cee9f0"/><rect y="50.5" height="3.02" fill="#aed7eb"/><rect y="53.5" height="1.02" fill="#ddeee2"/><rect y="54.5" height="1.02" fill="#cbe7ef"/><rect y="55.5" height="2.02" fill="#c5e4ee"/><rect y="57.5" height="1.52" fill="#aed7eb"/><rect y="59" height="1.52" fill="#deeee1"/><rect y="60.5" height="1.52" fill="#e7f1d7"/><rect y="62" height="2.02" fill="#d9ede6"/><rect y="64" height="1.02" fill="#bde0ed"/><rect y="65" height="3.02" fill="#e1efde"/><rect y="68" height="1.52" fill="#e2efdd"/><rect y="69.5" height="3.02" fill="#c5e4ee"/><rect y="72.5" height="1.02" fill="#d1eaef"/><rect y="73.5" height="2.02" fill="#f1f4cc"/><rect y="75.5" height="2.02" fill="#c6e5ef"/><rect y="77.5" height="2.52" fill="#dceee3"/><rect y="80" height="3.02" fill="#fdeba5"/><rect y="83" height="1.52" fill="#fef6b9"/><rect y="84.5" height="1.52" fill="#fef6b9"/><rect y="86" height="2.52" fill="#fcdb8f"/><rect y="88.5" height="1.02" fill="#feeeab"/><rect y="89.5" height="2.02" fill="#fbcb82"/><rect y="91.5" height="1.02" fill="#fef2b2"/><rect y="92.5" height="2.02" fill="#feefad"/><rect y="94.5" height="2.02" fill="#fef3b5"/><rect y="96.5" height="1.02" fill="#fef5b8"/></g><g transform="translate(342.55 0)"><rect y="3" height="2.52" fill="#5da4d9"/><rect y="5.5" height="1.52" fill="#c3e3ee"/><rect y="7" height="1.52" fill="#9ccde9"/><rect y="8.5" height="1.52" fill="#d6ecea"/><rect y="10" height="1.02" fill="#add7eb"/><rect y="11" height="3.02" fill="#a3d1ea"/><rect y="14" height="2.52" fill="#acd6eb"/><rect y="16.5" height="2.02" fill="#85bfe3"/><rect y="18.5" height="2.02" fill="#a9d4eb"/><rect y="20.5" height="1.02" fill="#7bb8e1"/><rect y="21.5" height="2.52" fill="#bbdeed"/><rect y="24" height="1.52" fill="#badeed"/><rect y="25.5" height="2.52" fill="#97cae8"/><rect y="28" height="1.52" fill="#94c9e7"/><rect y="29.5" height="2.02" fill="#b5dbec"/><rect y="31.5" height="2.52" fill="#d7ece9"/><rect y="34" height="3.02" fill="#a0cfe9"/><rect y="37" height="3.02" fill="#4191d1"/><rect y="40" height="1.02" fill="#83bde3"/><rect y="41" height="2.52" fill="#89c2e5"/><rect y="43.5" height="1.52" fill="#c5e4ee"/><rect y="45" height="2.02" fill="#b5dbec"/><rect y="47" height="1.02" fill="#93c8e7"/><rect y="48" height="2.52" fill="#bcdfed"/><rect y="50.5" height="3.02" fill="#4594d2"/><rect y="53.5" height="1.02" fill="#64a8db"/><rect y="54.5" height="1.02" fill="#c7e5ef"/><rect y="55.5" height="2.02" fill="#70b1de"/><rect y="57.5" height="1.52" fill="#dceee3"/><rect y="59" height="1.52" fill="#c7e5ef"/><rect y="60.5" height="1.52" fill="#85bfe3"/><rect y="62" height="2.02" fill="#cce8ef"/><rect y="64" height="1.02" fill="#8ac2e5"/><rect y="65" height="3.02" fill="#d8ece7"/><rect y="68" height="1.52" fill="#b3daec"/><rect y="69.5" height="3.02" fill="#a3d1ea"/><rect y="72.5" height="1.02" fill="#b5dbec"/><rect y="73.5" height="2.02" fill="#d4ebec"/><rect y="75.5" height="2.02" fill="#a6d3ea"/><rect y="77.5" height="2.52" fill="#a7d4ea"/><rect y="80" height="3.02" fill="#fef5b8"/><rect y="83" height="1.52" fill="#fef4b7"/><rect y="84.5" height="1.52" fill="#e3f0dc"/><rect y="86" height="2.52" fill="#faf7c2"/><rect y="88.5" height="1.02" fill="#f4f5c9"/><rect y="89.5" height="2.02" fill="#fef7bc"/><rect y="91.5" height="1.02" fill="#e3f0db"/><rect y="92.5" height="2.02" fill="#fef3b5"/><rect y="94.5" height="2.02" fill="#fef6ba"/><rect y="96.5" height="1.02" fill="#fef0af"/></g><g transform="translate(354.20 0)"><rect y="3" height="2.52" fill="#b2d9ec"/><rect y="5.5" height="1.52" fill="#add7eb"/><rect y="7" height="1.52" fill="#9ccde9"/><rect y="8.5" height="1.52" fill="#b8dded"/><rect y="10" height="1.02" fill="#a6d3ea"/><rect y="11" height="3.02" fill="#8cc3e5"/><rect y="14" height="2.52" fill="#b1d9ec"/><rect y="16.5" height="2.02" fill="#daede5"/><rect y="18.5" height="2.02" fill="#f1f4cd"/><rect y="20.5" height="1.02" fill="#cbe7ef"/><rect y="21.5" height="2.52" fill="#c9e6ef"/><rect y="24" height="1.52" fill="#cde8f0"/><rect y="25.5" height="2.52" fill="#e8f1d6"/><rect y="28" height="1.52" fill="#d7ece8"/><rect y="29.5" height="2.02" fill="#c5e4ee"/><rect y="31.5" height="2.52" fill="#dbede4"/><rect y="34" height="3.02" fill="#e6f1d8"/><rect y="37" height="3.02" fill="#c8e6ef"/><rect y="40" height="1.02" fill="#dbede4"/><rect y="41" height="2.52" fill="#dceee3"/><rect y="43.5" height="1.52" fill="#d3ebed"/><rect y="45" height="2.02" fill="#c7e5ef"/><rect y="47" height="1.02" fill="#c2e2ee"/><rect y="48" height="2.52" fill="#c1e2ee"/><rect y="50.5" height="3.02" fill="#d7ece9"/><rect y="53.5" height="1.02" fill="#e0efdf"/><rect y="54.5" height="1.02" fill="#ebf2d2"/><rect y="55.5" height="2.02" fill="#bcdfed"/><rect y="57.5" height="1.52" fill="#a9d5eb"/><rect y="59" height="1.52" fill="#f5f5c7"/><rect y="60.5" height="1.52" fill="#d4ebec"/><rect y="62" height="2.02" fill="#e3f0db"/><rect y="64" height="1.02" fill="#e3f0dc"/><rect y="65" height="3.02" fill="#ddeee1"/><rect y="68" height="1.52" fill="#cbe7ef"/><rect y="69.5" height="3.02" fill="#edf3d1"/><rect y="72.5" height="1.02" fill="#c9e6ef"/><rect y="73.5" height="2.02" fill="#f3f5ca"/><rect y="75.5" height="2.02" fill="#f6f6c7"/><rect y="77.5" height="2.52" fill="#d2eaee"/><rect y="80" height="3.02" fill="#f4f5c9"/><rect y="83" height="1.52" fill="#fef6bb"/><rect y="84.5" height="1.52" fill="#fef6bb"/><rect y="86" height="2.52" fill="#fef7bb"/><rect y="88.5" height="1.02" fill="#feeda9"/><rect y="89.5" height="2.02" fill="#fdeba4"/><rect y="91.5" height="1.02" fill="#feefad"/><rect y="92.5" height="2.02" fill="#fef4b6"/><rect y="94.5" height="2.02" fill="#fcdc8f"/><rect y="96.5" height="1.02" fill="#d8ede7"/></g><g transform="translate(365.85 0)"><rect y="3" height="2.52" fill="#fdf8bf"/><rect y="5.5" height="1.52" fill="#fef8be"/><rect y="7" height="1.52" fill="#fdeda8"/><rect y="8.5" height="1.52" fill="#fef7bc"/><rect y="10" height="1.02" fill="#fdeba5"/><rect y="11" height="3.02" fill="#fef3b5"/><rect y="14" height="2.52" fill="#fef2b3"/><rect y="16.5" height="2.02" fill="#fde79d"/><rect y="18.5" height="2.02" fill="#fef3b4"/><rect y="20.5" height="1.02" fill="#fef4b6"/><rect y="21.5" height="2.52" fill="#feedaa"/><rect y="24" height="1.52" fill="#fef5b9"/><rect y="25.5" height="2.52" fill="#fef0af"/><rect y="28" height="1.52" fill="#feefac"/><rect y="29.5" height="2.02" fill="#f4f5c9"/><rect y="31.5" height="2.52" fill="#fdeaa4"/><rect y="34" height="3.02" fill="#fef1b1"/><rect y="37" height="3.02" fill="#fef4b6"/><rect y="40" height="1.02" fill="#fef6ba"/><rect y="41" height="2.52" fill="#fef7bc"/><rect y="43.5" height="1.52" fill="#f0f4ce"/><rect y="45" height="2.02" fill="#faf7c2"/><rect y="47" height="1.02" fill="#fef2b3"/><rect y="48" height="2.52" fill="#fef3b4"/><rect y="50.5" height="3.02" fill="#f5f5c8"/><rect y="53.5" height="1.02" fill="#fef5b9"/><rect y="54.5" height="1.02" fill="#feeeab"/><rect y="55.5" height="2.02" fill="#fef3b5"/><rect y="57.5" height="1.52" fill="#fef0ae"/><rect y="59" height="1.52" fill="#fdeaa2"/><rect y="60.5" height="1.52" fill="#fef0af"/><rect y="62" height="2.02" fill="#fdeaa3"/><rect y="64" height="1.02" fill="#fef6ba"/><rect y="65" height="3.02" fill="#fde9a2"/><rect y="68" height="1.52" fill="#f7f6c6"/><rect y="69.5" height="3.02" fill="#fef1b0"/><rect y="72.5" height="1.02" fill="#fef7bc"/><rect y="73.5" height="2.02" fill="#fef2b2"/><rect y="75.5" height="2.02" fill="#fef3b5"/><rect y="77.5" height="2.52" fill="#fac57d"/><rect y="80" height="3.02" fill="#fef8bd"/><rect y="83" height="1.52" fill="#f7f6c6"/><rect y="84.5" height="1.52" fill="#fef3b5"/><rect y="86" height="2.52" fill="#fef3b4"/><rect y="88.5" height="1.02" fill="#fef4b7"/><rect y="89.5" height="2.02" fill="#fef1b0"/><rect y="91.5" height="1.02" fill="#fef1b1"/><rect y="92.5" height="2.02" fill="#f8f6c4"/><rect y="94.5" height="2.02" fill="#fef7bd"/><rect y="96.5" height="1.02" fill="#fdeca6"/></g><g transform="translate(261.00 0)"><rect y="102.5" height="2.02" fill="#fde294"/><rect y="104.5" height="1.52" fill="#fef3b4"/><rect y="106" height="1.52" fill="#fbf7c1"/><rect y="107.5" height="2.02" fill="#fde79d"/><rect y="109.5" height="2.02" fill="#fcd78b"/><rect y="111.5" height="3.02" fill="#fef5b8"/><rect y="114.5" height="2.02" fill="#fde497"/><rect y="116.5" height="2.02" fill="#fde59a"/><rect y="118.5" height="1.52" fill="#fef8be"/><rect y="120" height="2.02" fill="#fef1b1"/><rect y="122" height="1.02" fill="#f2f4cb"/><rect y="123" height="1.02" fill="#fdeaa3"/><rect y="124" height="1.52" fill="#fde79d"/><rect y="125.5" height="1.02" fill="#fef5b9"/><rect y="126.5" height="2.02" fill="#fde396"/><rect y="128.5" height="3.02" fill="#fde59a"/><rect y="131.5" height="1.02" fill="#fde092"/><rect y="132.5" height="2.52" fill="#fcdc90"/><rect y="135" height="3.02" fill="#f9b570"/><rect y="138" height="2.02" fill="#fef0ae"/><rect y="140" height="1.02" fill="#f9b772"/><rect y="141" height="1.52" fill="#fddf92"/><rect y="142.5" height="1.52" fill="#fdeda9"/><rect y="144" height="2.52" fill="#fde295"/><rect y="146.5" height="2.02" fill="#fbce85"/><rect y="148.5" height="2.02" fill="#fdeaa3"/><rect y="150.5" height="1.52" fill="#fef2b2"/><rect y="152" height="1.52" fill="#fcd68b"/><rect y="153.5" height="2.02" fill="#fabf79"/><rect y="155.5" height="1.02" fill="#fde59a"/><rect y="156.5" height="3.02" fill="#fde89f"/><rect y="159.5" height="2.02" fill="#feefac"/><rect y="161.5" height="1.52" fill="#fde9a1"/><rect y="163" height="2.52" fill="#fef5b8"/><rect y="165.5" height="1.02" fill="#feefad"/><rect y="166.5" height="1.02" fill="#fde498"/><rect y="167.5" height="2.52" fill="#f9f6c4"/><rect y="170" height="1.02" fill="#fdeca6"/><rect y="171" height="3.02" fill="#fde497"/><rect y="174" height="2.52" fill="#fdde91"/><rect y="176.5" height="1.52" fill="#feeeab"/><rect y="178" height="2.52" fill="#fddd90"/><rect y="180.5" height="2.02" fill="#fdeaa4"/><rect y="182.5" height="1.02" fill="#fde193"/><rect y="183.5" height="2.52" fill="#fde498"/><rect y="186" height="1.02" fill="#fde79e"/></g><g transform="translate(272.65 0)"><rect y="102.5" height="2.02" fill="#f38d56"/><rect y="104.5" height="1.52" fill="#f49058"/><rect y="106" height="1.52" fill="#fac57d"/><rect y="107.5" height="2.02" fill="#ef7046"/><rect y="109.5" height="2.02" fill="#ef7449"/><rect y="111.5" height="3.02" fill="#e95b3b"/><rect y="114.5" height="2.02" fill="#e75337"/><rect y="116.5" height="2.02" fill="#ee6c44"/><rect y="118.5" height="1.52" fill="#de3226"/><rect y="120" height="2.02" fill="#f28251"/><rect y="122" height="1.02" fill="#f48f58"/><rect y="123" height="1.02" fill="#f17d4d"/><rect y="124" height="1.52" fill="#ef7348"/><rect y="125.5" height="1.02" fill="#f9bb75"/><rect y="126.5" height="2.02" fill="#f4955b"/><rect y="128.5" height="3.02" fill="#f38a55"/><rect y="131.5" height="1.02" fill="#ea5f3d"/><rect y="132.5" height="2.52" fill="#f18250"/><rect y="135" height="3.02" fill="#e13c2b"/><rect y="138" height="2.02" fill="#fde294"/><rect y="140" height="1.02" fill="#ec6641"/><rect y="141" height="1.52" fill="#ef7046"/><rect y="142.5" height="1.52" fill="#e75337"/><rect y="144" height="2.52" fill="#ef7348"/><rect y="146.5" height="2.02" fill="#ec6641"/><rect y="148.5" height="2.02" fill="#ea5d3c"/><rect y="150.5" height="1.52" fill="#ef7449"/><rect y="152" height="1.52" fill="#ed6a43"/><rect y="153.5" height="2.02" fill="#ec6540"/><rect y="155.5" height="1.02" fill="#df3728"/><rect y="156.5" height="3.02" fill="#ee6d45"/><rect y="159.5" height="2.02" fill="#f8b36f"/><rect y="161.5" height="1.52" fill="#f9ba74"/><rect y="163" height="2.52" fill="#f9b974"/><rect y="165.5" height="1.02" fill="#f8ad6a"/><rect y="166.5" height="1.02" fill="#f7a363"/><rect y="167.5" height="2.52" fill="#f49159"/><rect y="170" height="1.02" fill="#ed6a43"/><rect y="171" height="3.02" fill="#f17c4d"/><rect y="174" height="2.52" fill="#eb623f"/><rect y="176.5" height="1.52" fill="#f17d4e"/><rect y="178" height="2.52" fill="#f4945a"/><rect y="180.5" height="2.02" fill="#f38b55"/><rect y="182.5" height="1.02" fill="#ee6c44"/><rect y="183.5" height="2.52" fill="#f59b5f"/><rect y="186" height="1.02" fill="#f8b470"/></g><g transform="translate(284.30 0)"><rect y="102.5" height="2.02" fill="#e34530"/><rect y="104.5" height="1.52" fill="#f07a4c"/><rect y="106" height="1.52" fill="#bbdfed"/><rect y="107.5" height="2.02" fill="#d4ebec"/><rect y="109.5" height="2.02" fill="#d5ebeb"/><rect y="111.5" height="3.02" fill="#d8ece7"/><rect y="114.5" height="2.02" fill="#fef2b2"/><rect y="116.5" height="2.02" fill="#e8f1d6"/><rect y="118.5" height="1.52" fill="#eff4ce"/><rect y="120" height="2.02" fill="#edf3d0"/><rect y="122" height="1.02" fill="#c1e1ee"/><rect y="123" height="1.02" fill="#e8f1d6"/><rect y="124" height="1.52" fill="#ebf2d2"/><rect y="125.5" height="1.02" fill="#d5ebeb"/><rect y="126.5" height="2.02" fill="#e0efde"/><rect y="128.5" height="3.02" fill="#fde396"/><rect y="131.5" height="1.02" fill="#fef3b5"/><rect y="132.5" height="2.52" fill="#fbd086"/><rect y="135" height="3.02" fill="#e5f0d9"/><rect y="138" height="2.02" fill="#fef2b3"/><rect y="140" height="1.02" fill="#feeeaa"/><rect y="141" height="1.52" fill="#fde9a0"/><rect y="142.5" height="1.52" fill="#fac880"/><rect y="144" height="2.52" fill="#fdeaa3"/><rect y="146.5" height="2.02" fill="#fbca81"/><rect y="148.5" height="2.02" fill="#fde89f"/><rect y="150.5" height="1.52" fill="#fdeca8"/><rect y="152" height="1.52" fill="#fde79e"/><rect y="153.5" height="2.02" fill="#fddf92"/><rect y="155.5" height="1.02" fill="#f9be78"/><rect y="156.5" height="3.02" fill="#fde396"/><rect y="159.5" height="2.02" fill="#fde396"/><rect y="161.5" height="1.52" fill="#fde092"/><rect y="163" height="2.52" fill="#fdeca7"/><rect y="165.5" height="1.02" fill="#ef7348"/><rect y="166.5" height="1.02" fill="#f59b5e"/><rect y="167.5" height="2.52" fill="#f69f61"/><rect y="170" height="1.02" fill="#f6a061"/><rect y="171" height="3.02" fill="#ee6f46"/><rect y="174" height="2.52" fill="#f59b5e"/><rect y="176.5" height="1.52" fill="#f49058"/><rect y="178" height="2.52" fill="#e85639"/><rect y="180.5" height="2.02" fill="#fde69c"/><rect y="182.5" height="1.02" fill="#f7aa68"/><rect y="183.5" height="2.52" fill="#ee6c44"/><rect y="186" height="1.02" fill="#f18250"/></g><g transform="translate(295.95 0)"><rect y="102.5" height="2.02" fill="#f49058"/><rect y="104.5" height="1.52" fill="#f8af6c"/><rect y="106" height="1.52" fill="#f5995d"/><rect y="107.5" height="2.02" fill="#fcda8e"/><rect y="109.5" height="2.02" fill="#f49058"/><rect y="111.5" height="3.02" fill="#fde8a0"/><rect y="114.5" height="2.02" fill="#f7a363"/><rect y="116.5" height="2.02" fill="#f59b5e"/><rect y="118.5" height="1.52" fill="#f49058"/><rect y="120" height="2.02" fill="#fcd78b"/><rect y="122" height="1.02" fill="#fdeaa3"/><rect y="123" height="1.02" fill="#f69d60"/><rect y="124" height="1.52" fill="#f8b36f"/><rect y="125.5" height="1.02" fill="#fbce85"/><rect y="126.5" height="2.02" fill="#f59b5e"/><rect y="128.5" height="3.02" fill="#fdeca8"/><rect y="131.5" height="1.02" fill="#f8b26e"/><rect y="132.5" height="2.52" fill="#f9be78"/><rect y="135" height="3.02" fill="#f8ad6a"/><rect y="138" height="2.02" fill="#f9be77"/><rect y="140" height="1.02" fill="#f38c56"/><rect y="141" height="1.52" fill="#f9b974"/><rect y="142.5" height="1.52" fill="#fde193"/><rect y="144" height="2.52" fill="#f69d5f"/><rect y="146.5" height="2.02" fill="#f7a463"/><rect y="148.5" height="2.02" fill="#f8b06c"/><rect y="150.5" height="1.52" fill="#fde396"/><rect y="152" height="1.52" fill="#f17d4e"/><rect y="153.5" height="2.02" fill="#f9b571"/><rect y="155.5" height="1.02" fill="#f48f58"/><rect y="156.5" height="3.02" fill="#f9b671"/><rect y="159.5" height="2.02" fill="#f9bd77"/><rect y="161.5" height="1.52" fill="#fbcd84"/><rect y="163" height="2.52" fill="#f7a867"/><rect y="165.5" height="1.02" fill="#fbce84"/><rect y="166.5" height="1.02" fill="#f7a765"/><rect y="167.5" height="2.52" fill="#f4f5c8"/><rect y="170" height="1.02" fill="#fcd388"/><rect y="171" height="3.02" fill="#f9b570"/><rect y="174" height="2.52" fill="#f8ae6b"/><rect y="176.5" height="1.52" fill="#f8ae6b"/><rect y="178" height="2.52" fill="#f5995d"/><rect y="180.5" height="2.02" fill="#f9b974"/><rect y="182.5" height="1.02" fill="#f9b671"/><rect y="183.5" height="2.52" fill="#f49259"/><rect y="186" height="1.02" fill="#fcd88c"/></g><g transform="translate(307.60 0)"><rect y="102.5" height="2.02" fill="#fde498"/><rect y="104.5" height="1.52" fill="#fcd388"/><rect y="106" height="1.52" fill="#fcdd90"/><rect y="107.5" height="2.02" fill="#fbca81"/><rect y="109.5" height="2.02" fill="#f9b974"/><rect y="111.5" height="3.02" fill="#fde499"/><rect y="114.5" height="2.02" fill="#fde599"/><rect y="116.5" height="2.02" fill="#f8b36f"/><rect y="118.5" height="1.52" fill="#fcd88c"/><rect y="120" height="2.02" fill="#f6a161"/><rect y="122" height="1.02" fill="#f8b470"/><rect y="123" height="1.02" fill="#f8b46f"/><rect y="124" height="1.52" fill="#fbcb82"/><rect y="125.5" height="1.02" fill="#fbd287"/><rect y="126.5" height="2.02" fill="#f8b16d"/><rect y="128.5" height="3.02" fill="#fac57d"/><rect y="131.5" height="1.02" fill="#fac37c"/><rect y="132.5" height="2.52" fill="#f9b873"/><rect y="135" height="3.02" fill="#e75438"/><rect y="138" height="2.02" fill="#fac37c"/><rect y="140" height="1.02" fill="#f0794b"/><rect y="141" height="1.52" fill="#f7a363"/><rect y="142.5" height="1.52" fill="#f8ab69"/><rect y="144" height="2.52" fill="#f8b470"/><rect y="146.5" height="2.02" fill="#ee6f45"/><rect y="148.5" height="2.02" fill="#f8b16d"/><rect y="150.5" height="1.52" fill="#fcd388"/><rect y="152" height="1.52" fill="#f7aa68"/><rect y="153.5" height="2.02" fill="#f9b873"/><rect y="155.5" height="1.02" fill="#f8b06c"/><rect y="156.5" height="3.02" fill="#fbcf85"/><rect y="159.5" height="2.02" fill="#fde294"/><rect y="161.5" height="1.52" fill="#fcdb8f"/><rect y="163" height="2.52" fill="#f8aa68"/><rect y="165.5" height="1.02" fill="#f7a665"/><rect y="166.5" height="1.02" fill="#f9ba75"/><rect y="167.5" height="2.52" fill="#fddd90"/><rect y="170" height="1.02" fill="#fcd489"/><rect y="171" height="3.02" fill="#f9b873"/><rect y="174" height="2.52" fill="#fcd489"/><rect y="176.5" height="1.52" fill="#f4945a"/><rect y="178" height="2.52" fill="#fac17a"/><rect y="180.5" height="2.02" fill="#fac47d"/><rect y="182.5" height="1.02" fill="#f07b4c"/><rect y="183.5" height="2.52" fill="#f9b873"/><rect y="186" height="1.02" fill="#fcda8d"/></g><g transform="translate(319.25 0)"><rect y="102.5" height="2.02" fill="#f49259"/><rect y="104.5" height="1.52" fill="#f6a061"/><rect y="106" height="1.52" fill="#f8ac69"/><rect y="107.5" height="2.02" fill="#f8ac69"/><rect y="109.5" height="2.02" fill="#f38c56"/><rect y="111.5" height="3.02" fill="#f6a061"/><rect y="114.5" height="2.02" fill="#f8ab69"/><rect y="116.5" height="2.02" fill="#f38a55"/><rect y="118.5" height="1.52" fill="#f38d57"/><rect y="120" height="2.02" fill="#f38d56"/><rect y="122" height="1.02" fill="#fcd68b"/><rect y="123" height="1.02" fill="#fac57e"/><rect y="124" height="1.52" fill="#f28452"/><rect y="125.5" height="1.02" fill="#fac37b"/><rect y="126.5" height="2.02" fill="#f18250"/><rect y="128.5" height="3.02" fill="#f38f57"/><rect y="131.5" height="1.02" fill="#f38b55"/><rect y="132.5" height="2.52" fill="#f0794b"/><rect y="135" height="3.02" fill="#f17c4d"/><rect y="138" height="2.02" fill="#f8b26e"/><rect y="140" height="1.02" fill="#f28753"/><rect y="141" height="1.52" fill="#f7a564"/><rect y="142.5" height="1.52" fill="#f9b772"/><rect y="144" height="2.52" fill="#fcda8d"/><rect y="146.5" height="2.02" fill="#f6a162"/><rect y="148.5" height="2.02" fill="#f7a363"/><rect y="150.5" height="1.52" fill="#f8b46f"/><rect y="152" height="1.52" fill="#f5965c"/><rect y="153.5" height="2.02" fill="#f18250"/><rect y="155.5" height="1.02" fill="#f17c4d"/><rect y="156.5" height="3.02" fill="#f5985d"/><rect y="159.5" height="2.02" fill="#fbca81"/><rect y="161.5" height="1.52" fill="#f9b974"/><rect y="163" height="2.52" fill="#feefae"/><rect y="165.5" height="1.02" fill="#fbcd83"/><rect y="166.5" height="1.02" fill="#fdde91"/><rect y="167.5" height="2.52" fill="#fbce84"/><rect y="170" height="1.02" fill="#fde599"/><rect y="171" height="3.02" fill="#fdeba5"/><rect y="174" height="2.52" fill="#fac880"/><rect y="176.5" height="1.52" fill="#fabf79"/><rect y="178" height="2.52" fill="#fac77f"/><rect y="180.5" height="2.02" fill="#fcd388"/><rect y="182.5" height="1.02" fill="#f9b470"/><rect y="183.5" height="2.52" fill="#fde8a0"/><rect y="186" height="1.02" fill="#fddd90"/></g><g transform="translate(330.90 0)"><rect y="102.5" height="2.02" fill="#fde9a0"/><rect y="104.5" height="1.52" fill="#f5f5c8"/><rect y="106" height="1.52" fill="#fdeaa3"/><rect y="107.5" height="2.02" fill="#fef0ae"/><rect y="109.5" height="2.02" fill="#fde59a"/><rect y="111.5" height="3.02" fill="#fef2b2"/><rect y="114.5" height="2.02" fill="#fef8bd"/><rect y="116.5" height="2.02" fill="#fde8a0"/><rect y="118.5" height="1.52" fill="#fde499"/><rect y="120" height="2.02" fill="#feeeaa"/><rect y="122" height="1.02" fill="#f2f4cb"/><rect y="123" height="1.02" fill="#fef3b4"/><rect y="124" height="1.52" fill="#fdeaa3"/><rect y="125.5" height="1.02" fill="#fef2b2"/><rect y="126.5" height="2.02" fill="#fef3b5"/><rect y="128.5" height="3.02" fill="#fef6bb"/><rect y="131.5" height="1.02" fill="#fcd88c"/><rect y="132.5" height="2.52" fill="#feeeaa"/><rect y="135" height="3.02" fill="#fde9a1"/><rect y="138" height="2.02" fill="#fef2b3"/><rect y="140" height="1.02" fill="#fde396"/><rect y="141" height="1.52" fill="#feefac"/><rect y="142.5" height="1.52" fill="#fcf7c0"/><rect y="144" height="2.52" fill="#f8f6c4"/><rect y="146.5" height="2.02" fill="#fde59b"/><rect y="148.5" height="2.02" fill="#fde498"/><rect y="150.5" height="1.52" fill="#fef2b3"/><rect y="152" height="1.52" fill="#fde8a0"/><rect y="153.5" height="2.02" fill="#fef0ae"/><rect y="155.5" height="1.02" fill="#fef7bd"/><rect y="156.5" height="3.02" fill="#feefac"/><rect y="159.5" height="2.02" fill="#fef1b0"/><rect y="161.5" height="1.52" fill="#fdeaa3"/><rect y="163" height="2.52" fill="#fef2b2"/><rect y="165.5" height="1.02" fill="#fef1b2"/><rect y="166.5" height="1.02" fill="#fef0af"/><rect y="167.5" height="2.52" fill="#fde89f"/><rect y="170" height="1.02" fill="#fef1b2"/><rect y="171" height="3.02" fill="#feefac"/><rect y="174" height="2.52" fill="#feeeaa"/><rect y="176.5" height="1.52" fill="#fef3b5"/><rect y="178" height="2.52" fill="#fdeca7"/><rect y="180.5" height="2.02" fill="#fef4b6"/><rect y="182.5" height="1.02" fill="#fdeba4"/><rect y="183.5" height="2.52" fill="#fef5b8"/><rect y="186" height="1.02" fill="#fef4b6"/></g><g transform="translate(342.55 0)"><rect y="102.5" height="2.02" fill="#f5985d"/><rect y="104.5" height="1.52" fill="#f5955b"/><rect y="106" height="1.52" fill="#f9bc76"/><rect y="107.5" height="2.02" fill="#f9b772"/><rect y="109.5" height="2.02" fill="#f38954"/><rect y="111.5" height="3.02" fill="#fde497"/><rect y="114.5" height="2.02" fill="#f9bc76"/><rect y="116.5" height="2.02" fill="#f28653"/><rect y="118.5" height="1.52" fill="#fac17a"/><rect y="120" height="2.02" fill="#f8b26e"/><rect y="122" height="1.02" fill="#fdeba4"/><rect y="123" height="1.02" fill="#f4955b"/><rect y="124" height="1.52" fill="#f07a4c"/><rect y="125.5" height="1.02" fill="#f69e60"/><rect y="126.5" height="2.02" fill="#fbd288"/><rect y="128.5" height="3.02" fill="#f9bd77"/><rect y="131.5" height="1.02" fill="#f4945a"/><rect y="132.5" height="2.52" fill="#f8b16d"/><rect y="135" height="3.02" fill="#f28653"/><rect y="138" height="2.02" fill="#fde497"/><rect y="140" height="1.02" fill="#ed6842"/><rect y="141" height="1.52" fill="#f4955b"/><rect y="142.5" height="1.52" fill="#fde59a"/><rect y="144" height="2.52" fill="#fbd288"/><rect y="146.5" height="2.02" fill="#f28653"/><rect y="148.5" height="2.02" fill="#ef7448"/><rect y="150.5" height="1.52" fill="#fcd78b"/><rect y="152" height="1.52" fill="#f49058"/><rect y="153.5" height="2.02" fill="#f5995d"/><rect y="155.5" height="1.02" fill="#e85739"/><rect y="156.5" height="3.02" fill="#f7a262"/><rect y="159.5" height="2.02" fill="#f38c56"/><rect y="161.5" height="1.52" fill="#f6a061"/><rect y="163" height="2.52" fill="#f28451"/><rect y="165.5" height="1.02" fill="#fcd88c"/><rect y="166.5" height="1.02" fill="#fde79d"/><rect y="167.5" height="2.52" fill="#f8ac6a"/><rect y="170" height="1.02" fill="#fcd489"/><rect y="171" height="3.02" fill="#feeeac"/><rect y="174" height="2.52" fill="#fddf92"/><rect y="176.5" height="1.52" fill="#fde9a1"/><rect y="178" height="2.52" fill="#f8b26e"/><rect y="180.5" height="2.02" fill="#fbcc83"/><rect y="182.5" height="1.02" fill="#fcd68a"/><rect y="183.5" height="2.52" fill="#fbd287"/><rect y="186" height="1.02" fill="#fabf79"/></g><g transform="translate(354.20 0)"><rect y="102.5" height="2.02" fill="#fde79e"/><rect y="104.5" height="1.52" fill="#fac47c"/><rect y="106" height="1.52" fill="#f8af6c"/><rect y="107.5" height="2.02" fill="#f59a5e"/><rect y="109.5" height="2.02" fill="#f38954"/><rect y="111.5" height="3.02" fill="#f9b672"/><rect y="114.5" height="2.02" fill="#fac37c"/><rect y="116.5" height="2.02" fill="#fabf78"/><rect y="118.5" height="1.52" fill="#f7a564"/><rect y="120" height="2.02" fill="#f8aa68"/><rect y="122" height="1.02" fill="#fdeaa4"/><rect y="123" height="1.02" fill="#fdeaa2"/><rect y="124" height="1.52" fill="#f8ad6a"/><rect y="125.5" height="1.02" fill="#fbc981"/><rect y="126.5" height="2.02" fill="#f38e57"/><rect y="128.5" height="3.02" fill="#f49159"/><rect y="131.5" height="1.02" fill="#ec6440"/><rect y="132.5" height="2.52" fill="#f1804f"/><rect y="135" height="3.02" fill="#f28653"/><rect y="138" height="2.02" fill="#f9b772"/><rect y="140" height="1.02" fill="#f28552"/><rect y="141" height="1.52" fill="#fbcf85"/><rect y="142.5" height="1.52" fill="#fcd78b"/><rect y="144" height="2.52" fill="#f69d5f"/><rect y="146.5" height="2.02" fill="#ef7248"/><rect y="148.5" height="2.02" fill="#f8af6c"/><rect y="150.5" height="1.52" fill="#f9b570"/><rect y="152" height="1.52" fill="#f69c5f"/><rect y="153.5" height="2.02" fill="#f7a765"/><rect y="155.5" height="1.02" fill="#f18150"/><rect y="156.5" height="3.02" fill="#fbce84"/><rect y="159.5" height="2.02" fill="#fabf79"/><rect y="161.5" height="1.52" fill="#fde093"/><rect y="163" height="2.52" fill="#f9b772"/><rect y="165.5" height="1.02" fill="#fac880"/><rect y="166.5" height="1.02" fill="#f38b55"/><rect y="167.5" height="2.52" fill="#fcd88c"/><rect y="170" height="1.02" fill="#f69f60"/><rect y="171" height="3.02" fill="#ee6c44"/><rect y="174" height="2.52" fill="#f28552"/><rect y="176.5" height="1.52" fill="#f7a363"/><rect y="178" height="2.52" fill="#f5965b"/><rect y="180.5" height="2.02" fill="#f8ac6a"/><rect y="182.5" height="1.02" fill="#f7a463"/><rect y="183.5" height="2.52" fill="#f38a55"/><rect y="186" height="1.02" fill="#fac079"/></g><g transform="translate(365.85 0)"><rect y="102.5" height="2.02" fill="#fde9a2"/><rect y="104.5" height="1.52" fill="#fef4b6"/><rect y="106" height="1.52" fill="#fdeaa3"/><rect y="107.5" height="2.02" fill="#fdeba5"/><rect y="109.5" height="2.02" fill="#fcd88c"/><rect y="111.5" height="3.02" fill="#fde599"/><rect y="114.5" height="2.02" fill="#fde59a"/><rect y="116.5" height="2.02" fill="#fef2b3"/><rect y="118.5" height="1.52" fill="#fde79d"/><rect y="120" height="2.02" fill="#fef3b4"/><rect y="122" height="1.02" fill="#fcf7c0"/><rect y="123" height="1.02" fill="#fac47c"/><rect y="124" height="1.52" fill="#fde89f"/><rect y="125.5" height="1.02" fill="#fdf8bf"/><rect y="126.5" height="2.02" fill="#feeeab"/><rect y="128.5" height="3.02" fill="#feefac"/><rect y="131.5" height="1.02" fill="#fde093"/><rect y="132.5" height="2.52" fill="#fdeaa3"/><rect y="135" height="3.02" fill="#fde497"/><rect y="138" height="2.02" fill="#fef1b0"/><rect y="140" height="1.02" fill="#fcd88d"/><rect y="141" height="1.52" fill="#fef0ae"/><rect y="142.5" height="1.52" fill="#fef4b6"/><rect y="144" height="2.52" fill="#fef7bc"/><rect y="146.5" height="2.02" fill="#fdeaa3"/><rect y="148.5" height="2.02" fill="#fde9a2"/><rect y="150.5" height="1.52" fill="#fde8a0"/><rect y="152" height="1.52" fill="#fde9a2"/><rect y="153.5" height="2.02" fill="#feefac"/><rect y="155.5" height="1.02" fill="#fde69c"/><rect y="156.5" height="3.02" fill="#fde69b"/><rect y="159.5" height="2.02" fill="#fef1b0"/><rect y="161.5" height="1.52" fill="#fef1b0"/><rect y="163" height="2.52" fill="#fde8a0"/><rect y="165.5" height="1.02" fill="#fef0ae"/><rect y="166.5" height="1.02" fill="#fde498"/><rect y="167.5" height="2.52" fill="#fef5b8"/><rect y="170" height="1.02" fill="#fef3b4"/><rect y="171" height="3.02" fill="#fde498"/><rect y="174" height="2.52" fill="#feeeaa"/><rect y="176.5" height="1.52" fill="#fdeda8"/><rect y="178" height="2.52" fill="#fde59a"/><rect y="180.5" height="2.02" fill="#fde59a"/><rect y="182.5" height="1.02" fill="#fdeaa3"/><rect y="183.5" height="2.52" fill="#feedaa"/><rect y="186" height="1.02" fill="#fde9a1"/></g></g><rect x="30.00" y="245.95" width="220.50" height="8.75" fill="#f7f7f8"/><text x="30.30" y="250.10" font-size="3.5" fill="#555">[0 - 170]</text><rect x="30.00" y="255.90" width="220.50" height="8.75" fill="#f7f7f8"/><text x="30.30" y="260.05" font-size="3.5" fill="#555">[0 - 170]</text><rect x="30.00" y="265.85" width="220.50" height="8.75" fill="#f7f7f8"/><text x="30.30" y="270.00" font-size="3.5" fill="#555">[0 - 170]</text><rect x="30.00" y="275.80" width="220.50" height="8.75" fill="#f7f7f8"/><text x="30.30" y="279.95" font-size="3.5" fill="#555">[0 - 170]</text><rect x="30.00" y="285.75" width="220.50" height="8.75" fill="#f7f7f8"/><text x="30.30" y="289.90" font-size="3.5" fill="#555">[0 - 170]</text><rect x="30.00" y="295.70" width="220.50" height="8.75" fill="#f7f7f8"/><text x="30.30" y="299.85" font-size="3.5" fill="#555">[0 - 170]</text><rect x="30.00" y="305.65" width="220.50" height="8.75" fill="#f7f7f8"/><text x="30.30" y="309.80" font-size="3.5" fill="#555">[0 - 170]</text><rect x="30.00" y="315.60" width="220.50" height="8.75" fill="#f7f7f8"/><text x="30.30" y="319.75" font-size="3.5" fill="#555">[0 - 170]</text><rect x="30.00" y="325.55" width="220.50" height="8.75" fill="#f7f7f8"/><text x="30.30" y="329.70" font-size="3.5" fill="#555">[0 - 170]</text><rect x="30.00" y="335.50" width="220.50" height="8.75" fill="#f7f7f8"/><text x="30.30" y="339.65" font-size="3.5" fill="#555">[0 - 170]</text><rect x="30.00" y="345.45" width="220.50" height="8.75" fill="#f7f7f8"/><text x="30.30" y="349.60" font-size="3.5" fill="#555">[0 - 170]</text><rect x="30.00" y="355.40" width="220.50" height="8.75" fill="#f7f7f8"/><text x="30.30" y="359.55" font-size="3.5" fill="#555">[0 - 170]</text><rect x="30.00" y="365.35" width="220.50" height="8.75" fill="#f7f7f8"/><text x="30.30" y="369.50" font-size="3.5" fill="#555">[0 - 170]</text><path d="M30.0 254.7L30 254.5L38 254.5L46 254.4L48 254.4L48.5 253.2L49 253.2L50 251.7L51 251.5L52.5 253.1L53.5 251.2L54 250.6L54.5 250.5L55 251.1L56 253.1L56.5 253.1L57 254.4L57.5 251.7L58.5 251.6L59.5 249.2L60 248.5L60.5 248.3L63 250L63.5 249.3L64.5 249L65 246.7L68.5 246.6L69 247.5L69.5 249.3L70.5 249.3L71 250.2L71.5 249.2L72 248.6L74 253L75 251.3L76.5 250.2L78 251.4L79 253.1L79.5 253.1L80 253.8L81.5 252.3L83.5 251.6L86 253.8L86.5 253.8L87 254.5L95 254.5L103 254.4L111 254.5L119 254.5L127 254.4L135 254.4L143 254.1L151 254.3L159 254L167 254.3L175 254.1L183 254.2L183.5 254.3L186 251.9L188.5 254.3L196.5 254.1L204.5 254.3L212 254.3L212.5 253.7L213 253.7L214.5 251.8L215.5 251.5L217.5 253.1L218 253.7L218.5 253.7L219 254.3L227 254.1L235 254.3L243 254.1L250.5 254.4V254.7Z" fill="#cf1b3d"/><rect x="30.00" y="254.25" width="220.50" height="0.75" fill="#cf1b3d" opacity="0.85"/><path d="M30.0 264.6L30 264.4L38 264.4L46 264.4L48 264.4L51.5 263L55.5 263.3L57 264.1L59 264.5L59.5 263.5L60.5 263.2L61.5 262.2L64.5 262.2L66 263.5L66.5 263.4L67 262.6L68.5 262.1L69.5 262.5L70.5 263.6L74 261.7L76.5 262.8L77.5 263.5L78 262.4L78.5 261.7L79 261.8L80 263.5L82 262.9L84.5 264.4L92.5 264.3L100.5 264.3L108.5 264.4L116.5 264.5L124.5 264.3L132.5 264.2L140.5 264.2L148.5 264.4L156.5 264.4L164.5 264.4L172.5 264.4L180.5 264.4L184 264.3L186 263.5L194 264.3L202 264.4L210 264.4L215 263.5L217.5 264.4L225.5 264.3L233.5 264.3L241.5 264.4L249.5 264.4L250.5 264.3V264.6Z" fill="#f2b64f"/><rect x="30.00" y="264.20" width="220.50" height="0.75" fill="#f2b64f" opacity="0.4"/><path d="M30.0 274.6L30 274.1L34 273.6L36 274L40.5 273.7L42 274L46.5 273.7L47 273.9L47.5 273.1L48.5 272.8L49.5 271.8L51.5 271.8L52 272.2L52.5 273L53 273.1L54.5 271.1L55 271.2L56 273.1L56.5 273.1L57 274.3L57.5 273.4L58 273.4L59 271.9L60.5 271.3L62 272.1L63 273.4L63.5 272.3L64.5 271.5L65 271.6L65.5 272.3L66 272.5L66.5 272.3L68 270.4L70 270L70.5 270.4L71 271.1L71.5 268.8L72.5 268.8L73.5 266.5L76.5 266.5L77 267.3L77.5 268.8L78.5 268.8L79 271.8L79.5 271.2L81 273.4L82.5 273.3L84 272.1L86 272.3L87.5 273.3L88.5 273.3L89 273.9L97 273.8L99.5 274.3L107.5 273.7L110 274.1L113 273.7L114.5 274.3L117 273.9L117.5 273.4L118 273.4L120.5 271.5L121 271.4L123 273.2L123.5 272.9L124.5 271.6L127.5 271.1L128.5 272.2L129 273.2L129.5 273.2L130 272.4L131 271.8L134 272.1L134.5 272.7L135.5 272.4L137 270.4L138 270.3L140 271.5L141 272.7L141.5 272.7L143.5 271L145 270.6L145.5 270.8L146.5 272.6L147 272.8L147.5 272.7L150 270.7L152 271.3L153 272.8L153.5 272.7L154.5 271.4L157 271.1L158.5 272L159 272.6L159.5 272.9L160 272.6L161 271.5L162.5 271L163.5 271.4L164.5 272.6L165 272.8L165.5 272.5L167.5 270.4L168 270.2L168.5 270.6L169.5 272.1L170 272.4L170.5 272.4L171 271.4L172.5 270.5L173.5 270.8L175 272.4L175.5 272.1L176 271.1L178 269.5L178.5 269.6L179 270.3L179.5 271.5L180 272.2L180.5 271.5L181 270L181.5 269.4L183 269.9L183.5 270.5L184 271.5L184.5 271.9L185 271.2L185.5 269.7L186 268.8L188 269.2L189 270.3L189.5 271.4L190 272L190.5 271.4L191 270.1L191.5 269.2L192 268.8L194 269.8L194.5 270.5L195 271.5L195.5 271.9L196 271.3L196.5 270L197 269.1L197.5 268.8L199.5 269.7L201 272L201.5 272L202 270.8L204 268.6L205 269L206 270.1L207 272L207.5 272L210 269.6L212 270.1L212.5 270.6L213 271.8L213.5 271.8L214 271.2L214.5 270.1L215.5 268.9L217.5 268.3L218.5 270L219 271.3L219.5 271.4L221 268.4L221.5 267.7L222 267.6L224 269.9L224.5 270.9L225 271.5L225.5 271.6L226 272.4L227.5 272.4L228.5 273.3L229 273.3L231 272.1L232.5 272.4L233.5 273.3L234 273.3L235.5 271.8L236.5 271.6L237 272L237.5 272.9L238 273.2L238.5 272.3L239 271.9L239.5 272.3L240 273.4L242.5 273.4L243.5 274L246 273.2L248 273.9L249 273.2L249.5 273.4L250 274L250.5 274V274.6Z" fill="#1b62a2"/><rect x="30.00" y="274.15" width="220.50" height="0.75" fill="#1b62a2" opacity="0.9"/><path d="M30.0 284.6L30 284L33 283.4L37 283.9L42 284L44.5 283.6L46 284L49 283.5L50 283.8L52.5 282.6L53.5 282.7L54.5 283.7L56.5 282.7L57.5 282.8L59 283.7L62 282.7L64 283.8L66 282.5L68.5 283.7L72.5 282.7L75 283.8L76 283L77 281.5L77.5 281.4L78.5 282.7L80 283.6L84.5 283.9L88.5 283.5L90 283.9L97 283.9L100 283.6L102 283.9L106 283.7L112 283.6L113 283.9L116 283.6L117.5 284L121 283.6L122.5 284L125.5 283.7L127 284L130.5 283.6L132 283.9L133.5 283.3L135.5 283.2L136.5 282.5L139.5 282.3L141.5 283.3L142 283.3L143.5 282.2L144.5 282.6L145 283.3L146 283.4L147 282.7L150 282.5L151.5 283.3L152.5 283.2L155.5 282.2L157 283.3L158 282.9L159 282.1L162.5 282.9L164 283.3L165 282.6L167.5 282.5L168.5 283.3L169.5 283.4L173 282.4L175 283.4L179 282.8L181 283.5L183 282.6L185.5 283.3L187.5 282L189 282.5L190 283.3L191 283.1L192 282.4L193.5 282.8L194 283.3L198 282.4L201 283.4L204 282.4L207 283.4L208.5 282.4L210.5 283L211 283.4L214 282.3L215.5 283.3L216.5 283.3L218 282.4L220.5 283.4L221 283.3L221.5 282.7L223 282.5L224.5 283.2L225 283.1L226 282.3L228.5 282.4L229.5 283.2L230.5 283.2L233 281.9L235.5 283.3L239 282.7L241 283.3L242 282.4L244 282.7L245 283.3L245.5 283.3L246 283.8L250.5 284V284.6Z" fill="#4a7cbd"/><rect x="30.00" y="284.10" width="220.50" height="0.75" fill="#4a7cbd" opacity="0.9"/><path d="M30.0 294.5L30 294.1L38 294.2L46 294.2L48 294.3L48.5 292.9L49 292.8L49.5 290.9L50 289.7L50.5 289.4L51.5 290.4L52 291.4L52.5 293L53.5 290.2L54 289.6L54.5 289.9L55.5 291.6L56 293L56.5 293L57 294.3L57.5 289.7L58 289.7L58.5 289.3L59 287.5L59.5 286.4L62.5 286.4L63 288.8L63.5 289.7L64 289.7L65 286.9L65.5 286.4L67 286.4L67.5 286.7L68.5 289.7L69 290L69.5 288.4L70 286.6L71 286.4L71.5 286.8L72 287.7L72.5 289.5L73 289.8L73.5 288.9L74 287.2L74.5 286.4L76.5 286.4L77 286.8L77.5 288.4L78 289.1L79 290L80 292.5L80.5 292L81.5 290.6L83 289.4L84 289.3L84.5 289.8L86 292.8L86.5 292.8L87 294.1L95 293.9L103 294L111 294L119 294.3L127 294L134 294.2L134.5 293.4L135 293.4L137 291.4L139.5 292.3L140.5 293.3L141 293.4L142.5 291.7L143 291.6L145 293.4L146 293.2L148 290L150.5 293.8L154.5 293.6L156 293.9L159 293.1L161.5 293.5L162.5 293.9L165 293.1L168.5 294L170 293.3L172 293.9L173.5 293L175 293.9L177 294.2L177.5 294.1L179.5 291.5L180 291.1L182.5 294.2L184 294.3L184.5 293.3L185.5 293.3L188 292.3L189 292.8L189.5 293.3L190.5 293.3L191.5 292.6L194 292.9L195.5 293.3L196 294.3L199 294.2L199.5 293.3L200.5 293.3L203 291.8L206.5 293.3L207 293.3L208.5 291.9L210.5 292.7L211 293.2L211.5 293.3L213 291.9L213.5 291.8L214 292.1L215 293.2L216 293.4L218.5 293.2L220 294L228 294.2L236 294.2L244 294.2L250.5 294.2V294.5Z" fill="#17a04b"/><rect x="30.00" y="294.05" width="220.50" height="0.75" fill="#17a04b" opacity="0.55"/><path d="M30.0 304.4L30 304.1L38 304.1L46 304L48 304.2L48.5 303.3L49.5 303.3L51.5 301.9L55 302.9L56.5 303.3L57 304.2L59 304.2L59.5 303.3L60 303.3L61 301.6L62 300.9L63 300.7L63.5 301L64 301.8L64.5 303.1L65 303.1L66 301.8L68.5 301.3L70 301.7L70.5 302.3L71 303.3L71.5 303L72.5 301.4L75 300.5L79 301.9L80 303.1L84 303L85 303.7L85.5 303.7L86 304.2L94 304.1L102 304.3L110 304.2L118 304.1L126 304.2L134 304.2L142 304.1L150 304.1L158 304.1L166 304.2L174 304.2L182 304.2L190 304.2L198 304.1L206 304.1L214 304.2L222 304.2L230 304.2L238 304.3L246 304.1L250.5 304.3V304.4Z" fill="#8cc88c"/><rect x="30.00" y="304.00" width="220.50" height="0.75" fill="#8cc88c" opacity="0.4"/><path d="M30.0 314.4L30 313.7L31.5 313L36 313.5L38 313.3L39 313.8L42 313.3L42.5 312.6L43.5 312.1L44 311.2L44.5 310.8L47 311.6L47.5 310.8L48 310.8L48.5 309.4L49 307.4L49.5 306.3L52 306.3L52.5 307.3L53 309.6L53.5 310.5L54 307.7L54.5 306.3L56 306.3L56.5 308L57 310.7L57.5 310.7L58 312.1L58.5 310.8L59 310L59.5 311.1L60 311.1L60.5 307.6L61 306.3L63.5 306.3L64 307.7L64.5 311.1L65 308.8L65.5 307L66 306.3L67.5 306.4L68 308L68.5 311.1L69 308.7L69.5 306.8L70 306.3L74 306.3L74.5 308.1L75 309L75.5 308.7L76 306.8L76.5 306.3L78.5 306.3L79.5 308.7L80 308.8L80.5 306.3L81 306.3L81.5 306.8L82 309.5L82.5 309.6L83 312.7L85 308.7L87 312.6L87.5 313.9L93 313.9L95.5 313.6L97 313.9L100.5 313.7L101.5 313.9L104 313.5L106 313.8L114 313.6L117 313.7L117.5 313.4L118 313.4L119.5 311.2L120 311L122 311.3L123.5 313.3L125 311.4L127.5 311L129 312L129.5 312.6L130 312.9L131 309.9L131.5 309.1L132 309L133.5 310.8L134 312L134.5 312.3L135 310.5L135.5 309.4L136 308.9L137 308.9L137.5 308.6L138 308.8L139.5 311.1L140.5 310.7L141 309.6L141.5 309L142 308.7L143 309.3L143.5 310.7L144 311.1L144.5 311.1L145 310L146 309L147 309.2L147.5 309.7L148 310.6L149 310.3L151.5 308L152 308.1L154 310.8L155 310.6L155.5 309.5L157 308L158.5 309.3L159.5 310.8L160 310.8L160.5 311.2L162 309.3L164 309.4L165.5 310.2L166 310.9L167 311L167.5 310.8L169 308.6L169.5 308.6L171.5 311.1L172.5 311.1L173.5 309.5L175 308.2L175.5 308.2L176 308.7L177.5 311.1L178.5 311.1L179 309.6L179.5 309L180.5 309.3L181 309.8L181.5 310.9L182 311.1L182.5 310.8L183 309.2L183.5 308.2L184 308.1L185 309.4L186 311.2L186.5 311.2L187.5 309L188 308.3L188.5 308.2L189 308.9L189.5 310.5L190.5 310.7L191 309.7L192.5 308.5L193.5 308.7L194.5 309.7L195 310.8L196 310.9L197.5 309.3L198 309.2L198.5 309.8L199 310.9L200 311.1L201 309.6L202 307.9L202.5 308.1L204.5 309.7L205 310.6L205.5 311.1L206 311.1L207.5 309.1L209.5 308.8L210 309L211 310.6L211.5 310.6L212.5 308.9L214.5 308.8L215.5 309.7L216 310.5L216.5 310.9L217 310.9L217.5 310.4L218.5 308.4L219.5 308.4L220.5 309L221 309.7L221.5 310.7L222.5 310.9L223 310.7L225 308.9L225.5 308.8L227.5 310.8L228.5 310.8L229 309.8L229.5 308.2L230 307.3L230.5 307.4L231 308.2L232 310.8L232.5 310.9L233 310.5L234 308.9L234.5 308.7L235 309.1L235.5 310.2L236 310.9L236.5 310.9L237 309.4L237.5 308.3L238 308.1L239 309.2L239.5 310.4L240 310.9L240.5 310.9L241 313.2L244.5 313L246 313.6L247.5 312.3L249.5 313.2L250 313.6L250.5 313.6V314.4Z" fill="#5b5a12"/><rect x="30.00" y="313.95" width="220.50" height="0.75" fill="#5b5a12" opacity="0.85"/><path d="M30.0 324.3L30 324.1L34 324L34.5 323.1L35.5 322.7L36 322.3L38 322.2L39.5 323.1L40.5 322.8L41.5 322.2L45.5 321.9L47 322.9L47.5 322.3L48.5 322.2L51 319.7L51.5 319.6L52.5 320.4L53 320.4L54.5 322.2L56 322.2L56.5 321.7L58.5 322L60 322.5L61 320.1L61.5 319.4L62.5 319L64 320.3L65 322.2L65.5 322L66 320.8L67.5 318.7L70 318.6L70.5 319.1L72 322.2L73 319.5L73.5 318.9L74 319.2L75 321.4L75.5 321.4L77.5 318.5L78 318.5L79.5 320.1L80 321L80.5 321.4L81 321.4L82 320L83 319.5L84 320.2L84.5 321.2L85 321.6L85.5 321.6L87 323.6L87.5 323.9L92 324L95 323.8L96 324L101 323.7L102 323.9L108.5 323.9L111 323.7L112 324L117.5 324L120 323.4L122 322L124 322.4L125 323.2L125.5 323.2L128.5 322L131.5 323.4L133 322.4L136.5 322.2L138 323.3L138.5 323.4L141 321.6L142 321.9L143 323.1L143.5 323.4L145 322.4L147 322.9L148 323.5L149.5 322.5L151.5 322.7L152.5 323.4L154 322.2L156 322.3L157 323.2L157.5 323.2L160 321.7L163 323.4L163.5 323.3L165 322.1L167.5 322.4L169 323.4L170.5 322.6L174 323L175 322.5L175.5 321.3L176 320.5L177 320L178 320.6L178.5 321.4L179 322.7L180.5 320.7L182 320.1L183 320L183.5 320.4L184.5 322L185 322.4L185.5 322.4L187.5 320.3L188 320L191 322.4L192 322.3L194.5 321.2L195.5 321.6L196.5 322.7L197 322.7L198 321.3L198.5 321L200 322.7L200.5 322.7L201 324L204 324L204.5 321.4L205.5 321.3L206.5 319.1L207 318.4L207.5 318.2L209 320L209.5 320.9L210 321.4L210.5 321.4L211.5 320L213 319.3L213.5 319.5L214.5 321.4L215.5 321.5L216 324.1L219 324.1L219.5 321.8L220 321.7L220.5 321.1L221 319.9L221.5 319.6L223 320L223.5 320.5L224 321.4L224.5 321.8L225 321.8L226 320.5L228 319.4L228.5 319.4L229 320.3L230 321.4L231 321.2L231.5 320.3L232.5 319.3L233 319.1L233.5 319.5L234.5 321.4L236 322.1L237 321.6L239 322.3L240 323.1L241 323.4L247 323.6L248 322.8L250.5 323.6V324.3Z" fill="#bccf2c"/><rect x="30.00" y="323.90" width="220.50" height="0.75" fill="#bccf2c" opacity="0.55"/><path d="M30.0 334.3L30 333.1L31.5 330.9L32 331.5L33 331.5L33.5 329L34 327L34.5 326.2L36 326.2L36.5 328.1L37 331.3L37.5 328.2L38 326.3L38.5 326.2L39 327.1L39.5 328.6L40 331.7L40.5 331.5L41.5 329.8L44.5 328.2L45 328.4L46 330L46.5 331.3L47 331.7L48 329.9L48.5 329.6L49 329.9L49.5 328.2L50.5 328.1L51.5 326.2L56 326.3L56.5 327.3L57.5 327.8L58 329L58.5 328.9L59 327L59.5 326.2L62.5 326.2L63 328.1L63.5 328.1L64.5 326.2L66.5 326.2L67 328.1L67.5 328.1L68 327.6L68.5 326.2L72.5 326.2L73 326.6L73.5 328L74 328.1L74.5 327.8L75 326.2L78 326.2L79 328.1L79.5 328.1L80 326.9L80.5 326.2L85 326.2L85.5 327.3L86.5 328.3L87 333.9L95 333.8L103 333.8L111 334L119 333.9L126 333.9L126.5 333.4L127 333.4L128 332.1L130 331.5L131 332.2L132 333.4L133 332.1L135 331.8L135.5 332L136 332.8L136.5 333.1L137 332L137.5 331.5L139 331.9L140 333.4L140.5 333.4L141 334L149 334.1L149.5 333.6L150 333.6L151 332.5L153 332.8L154 333.6L157.5 332.6L159 332.9L160 333.7L160.5 333.7L163 328.6L165 332.5L165.5 333.9L173.5 334.1L177 334L177.5 332.6L178 332.6L179.5 330.9L180.5 330.3L182 330.6L183 332.1L183.5 332.3L184 331.9L185 330.2L186 329.3L187 326.9L188 329.2L188.5 329.8L190.5 330.7L191 331.1L191.5 332.2L192.5 332.4L193 334L201 334L209 334.1L212 333.9L212.5 332.5L213 332.5L213.5 331L214.5 329.1L215 328.6L216.5 329.2L217.5 330.9L218 332.4L218.5 332.5L219 333.9L223 332.8L231 334L239 334.1L247 334L250.5 334.1V334.3Z" fill="#7c1a7f"/><rect x="30.00" y="333.85" width="220.50" height="0.75" fill="#7c1a7f" opacity="0.85"/><path d="M30.0 344.2L30 344L35 343.8L37 343.1L39 343.8L41 343.1L42.5 343.8L44 343L45 343.8L47 343.9L47.5 343.4L48 343.3L49 342.2L52.5 341.4L53.5 341.8L55 343.4L55.5 343.4L56 343.9L57 344L57.5 343.2L58.5 343L61.5 341.5L62.5 341.5L64 338.8L64.5 338.3L67 340.4L67.5 341.2L68.5 341L69.5 339.4L71.5 338.3L73 338.5L73.5 338.8L74.5 341L75 341L75.5 340.6L76 339.2L77.5 338.5L78.5 339L79 339.7L79.5 340.8L81 341.5L83 340.8L84.5 341.3L86 342.5L86.5 342.6L87 343.9L95 343.9L103 344L111 343.9L119 343.9L127 344.1L135 343.9L143 344.1L151 344L159 344L161.5 343.9L163.5 342L165.5 343.9L173.5 344L181.5 344L182 344.1L182.5 343.2L184.5 342.2L186 341.9L188 343.3L188.5 343.3L189 343.9L197 344L205 344.1L212.5 344L215 342L217.5 344L225.5 344L233.5 344L241.5 344L249.5 344L250.5 344V344.2Z" fill="#b48cc6"/><rect x="30.00" y="343.80" width="220.50" height="0.75" fill="#b48cc6" opacity="0.45"/><path d="M30.0 354.2L30 353.8L38 353.9L44 353.9L48 352.8L50.5 353.6L54 352.9L56.5 353.5L58.5 353L60 353.2L61.5 351.8L63 351.7L65.5 353.2L68 351.9L69.5 351.9L71 353.2L72.5 352.2L74 352L75 350.3L75.5 349.8L77 352.8L77.5 353.3L79 352.1L81 352.5L82.5 349.9L83 350.2L84 352L86 352.5L87 353.3L87.5 353.3L88 353.9L96 354L104 354L112 353.9L120 353.9L128 354L136 353.9L144 354L152 353.9L160 354L160.5 354L163 349.9L163.5 350L165.5 353.4L166 354L174 353.9L177 353.8L177.5 352.6L178 352.6L179 351.1L180 350.5L181 350.8L182 352.2L182.5 352.5L183.5 351L185 350.7L186 351.4L187 352.7L187.5 352.7L188 353.9L195.5 353.9L198 350.8L200.5 353.9L208.5 353.9L212 353.9L212.5 349.1L213.5 348.9L214 347.1L214.5 346.1L216.5 346.1L217 346.7L217.5 348.9L218.5 349.1L219 352L220.5 351L221 350.9L223 353.2L223.5 353.2L224 353.9L232 354L240 353.9L248 354L250.5 354V354.2Z" fill="#ea7a22"/><rect x="30.00" y="353.75" width="220.50" height="0.75" fill="#ea7a22" opacity="0.7"/><path d="M30.0 364.1L30 363.8L38 363.8L46 363.8L49 363.8L49.5 363.1L52.5 362.1L57 362.9L60 361.8L62 362.8L63 362.7L65.5 361.9L68 362.9L69 362.1L70.5 362.5L71.5 363L74.5 361.9L75.5 360.3L76 360.7L77 362.5L81 362.3L82.5 359.6L84 362.2L85 362.1L87 363.1L87.5 363.1L88 363.8L96 363.9L100 363L105.5 363.9L108 363.1L111.5 364L118 363.8L120 363L128 363.8L130 363L138 363.9L146 363.9L154 363.9L160.5 363.8L163 359.8L163.5 360L165.5 363.4L166 363.9L174 364L177 363.9L177.5 363.1L178 363.1L178.5 361.9L179.5 360.8L180.5 360.6L181 361.2L181.5 362.4L182 362.4L182.5 361.3L183.5 360.2L185 359.7L185.5 359.8L186 360.3L187 362.7L187.5 362.8L188 363.9L195.5 363.7L197.5 361.1L198 360.8L200.5 363.9L208.5 363.9L212 363.8L212.5 360.3L213 360.3L213.5 359.7L214 358.1L214.5 357.1L215.5 356.7L217 357.3L217.5 359.4L218 360.3L218.5 360.3L219 362.3L220 361.6L222 362L223 363.1L223.5 363.1L224 363.9L232 364L240 364L248 363.9L250.5 363.9V364.1Z" fill="#eb9a2a"/><rect x="30.00" y="363.70" width="220.50" height="0.75" fill="#eb9a2a" opacity="0.45"/><rect x="30.00" y="373.65" width="220.50" height="0.6" fill="#4a4a88" opacity="1"/><rect x="270.40" y="245.95" width="186.30" height="8.75" fill="#f7f7f8"/><text x="270.70" y="250.10" font-size="3.5" fill="#555">[0 - 170]</text><rect x="270.40" y="255.90" width="186.30" height="8.75" fill="#f7f7f8"/><text x="270.70" y="260.05" font-size="3.5" fill="#555">[0 - 170]</text><rect x="270.40" y="265.85" width="186.30" height="8.75" fill="#f7f7f8"/><text x="270.70" y="270.00" font-size="3.5" fill="#555">[0 - 170]</text><rect x="270.40" y="275.80" width="186.30" height="8.75" fill="#f7f7f8"/><text x="270.70" y="279.95" font-size="3.5" fill="#555">[0 - 170]</text><rect x="270.40" y="285.75" width="186.30" height="8.75" fill="#f7f7f8"/><text x="270.70" y="289.90" font-size="3.5" fill="#555">[0 - 170]</text><rect x="270.40" y="295.70" width="186.30" height="8.75" fill="#f7f7f8"/><text x="270.70" y="299.85" font-size="3.5" fill="#555">[0 - 170]</text><rect x="270.40" y="305.65" width="186.30" height="8.75" fill="#f7f7f8"/><text x="270.70" y="309.80" font-size="3.5" fill="#555">[0 - 170]</text><rect x="270.40" y="315.60" width="186.30" height="8.75" fill="#f7f7f8"/><text x="270.70" y="319.75" font-size="3.5" fill="#555">[0 - 170]</text><rect x="270.40" y="325.55" width="186.30" height="8.75" fill="#f7f7f8"/><text x="270.70" y="329.70" font-size="3.5" fill="#555">[0 - 170]</text><rect x="270.40" y="335.50" width="186.30" height="8.75" fill="#f7f7f8"/><text x="270.70" y="339.65" font-size="3.5" fill="#555">[0 - 170]</text><rect x="270.40" y="345.45" width="186.30" height="8.75" fill="#f7f7f8"/><text x="270.70" y="349.60" font-size="3.5" fill="#555">[0 - 170]</text><rect x="270.40" y="355.40" width="186.30" height="8.75" fill="#f7f7f8"/><text x="270.70" y="359.55" font-size="3.5" fill="#555">[0 - 170]</text><rect x="270.40" y="365.35" width="186.30" height="8.75" fill="#f7f7f8"/><text x="270.70" y="369.50" font-size="3.5" fill="#555">[0 - 170]</text><path d="M270.4 254.7L270.4 254.6L278.4 254.5L280.9 254.5L281.4 253.6L282.4 249.6L282.9 250.1L283.4 252L283.9 254.4L291.9 254.4L294.9 254.4L295.4 252.5L295.9 252L296.4 252.5L296.9 253.6L297.4 252.3L297.9 252.1L298.9 253.7L299.4 252.5L300.4 252.3L300.9 252.8L301.9 250.5L302.4 250.9L302.9 252.1L303.4 252.8L303.9 252.2L304.4 252L304.9 252.5L305.4 253.8L305.9 252L306.4 251.6L306.9 253.2L307.4 254.3L315.4 254.6L323.4 254.4L324.9 254.5L326.4 250.1L327.9 254.4L335.9 254.4L343.9 254.5L351.9 254.4L352.9 254.4L353.9 254.1L354.4 251.5L354.9 250.6L355.4 250.4L355.9 251.8L356.4 252.4L356.9 250.5L357.4 249.9L357.9 250.6L358.4 251.9L358.9 252.1L359.4 250.1L359.9 249.8L360.4 250.8L360.9 252.9L361.4 254.1L364.4 254.4L365.4 253.6L366.4 254.3L374.4 254.4L377.4 254.3L378.4 253.3L378.9 253.3L379.4 254.1L387.4 254.5L390.4 254.3L391.9 251.4L392.4 252L393.4 254L393.9 254.4L401.9 254.5L409.9 254.4L413.4 254.4L414.9 250.2L415.9 247.9L417.4 251.1L418.4 254L418.9 254.4L426.9 254.5L430.4 254.3L431.9 251.4L432.4 252L433.4 254.1L441.4 254.4L445.4 254.4L447.4 251.3L449.4 254.4L456.4 254.3V254.7Z" fill="#cf1b3d"/><rect x="270.40" y="254.25" width="186.30" height="0.75" fill="#cf1b3d" opacity="0.85"/><path d="M270.4 264.6L270.4 264.5L278.4 264.4L281.4 264.4L282.4 263.6L283.9 264.4L291.9 264.4L296.9 264.4L297.9 263.7L299.9 264.4L300.9 263.7L301.9 264.1L303.4 263.7L304.4 264.4L304.9 263.7L305.4 263.6L306.4 264.4L314.4 264.3L322.4 264.3L330.4 264.4L338.4 264.4L346.4 264.5L354.4 264.5L362.4 264.3L370.4 264.4L378.4 264.5L386.4 264.4L394.4 264.4L402.4 264.4L410.4 264.5L414.4 264.4L415.9 262.5L416.9 263.4L417.4 264.2L425.4 264.2L433.4 264.4L441.4 264.4L449.4 264.5L456.4 264.4V264.6Z" fill="#f2b64f"/><rect x="270.40" y="264.20" width="186.30" height="0.75" fill="#f2b64f" opacity="0.4"/><path d="M270.4 274.6L270.4 274.2L278.4 274.3L281.4 274.4L282.9 273.5L284.4 274.3L292.4 274.3L293.9 274.3L294.4 273.8L294.9 273.8L295.4 272.6L296.4 271.7L296.9 271.9L297.4 272.4L297.9 273.7L298.4 272.2L298.9 271.7L299.4 271.5L299.9 271.8L300.4 272.7L300.9 271.9L301.9 269L302.9 272.1L303.9 271.2L304.4 271.5L304.9 272.6L305.4 272.8L305.9 271.6L306.4 271.8L306.9 273.2L307.9 274.4L315.4 274.3L316.4 272.3L317.4 274.2L324.4 274.4L325.9 272.4L327.4 274.2L335.4 274.3L343.4 274.4L344.4 274.4L346.4 271.3L346.9 271.6L348.4 274L353.9 274.3L354.4 273.9L354.9 273.9L355.9 271.9L356.4 271.7L356.9 272.3L357.4 273.4L357.9 273L358.4 272.3L358.9 272L359.4 272.4L359.9 273.8L360.4 272.2L360.9 271.6L361.4 271.9L361.9 273.4L362.9 274.4L370.9 274.2L378.9 274.3L386.9 274.3L392.4 274.3L393.4 272.3L394.4 274.2L397.9 274.2L398.4 273.7L398.9 273.6L399.9 274.3L407.9 274.3L415.4 274.3L416.4 272.4L416.9 273.1L417.4 274.1L425.4 274.3L433.4 274.4L441.4 274.3L447.4 274.3L448.4 273.6L448.9 273.7L449.9 274.4L456.4 274.4V274.6Z" fill="#1b62a2"/><rect x="270.40" y="274.15" width="186.30" height="0.75" fill="#1b62a2" opacity="0.9"/><path d="M270.4 284.6L270.4 284.3L278.4 284.3L286.4 284.3L294.4 284.3L294.9 284.3L296.4 283.3L297.4 283.8L298.4 283.4L298.9 283.6L299.4 284.2L301.4 282.9L302.4 283.5L303.4 283.1L304.4 283.5L305.9 282.9L306.9 283.5L308.4 282.8L310.9 284L312.4 283.5L313.4 284.1L314.4 283.6L315.4 283.8L315.9 284.3L316.9 283.5L317.9 283.5L318.4 283.9L318.9 283.8L319.4 283.4L319.9 283.6L320.4 284.3L320.9 283.6L321.4 283.6L321.9 284.2L322.9 283.6L323.9 283.8L324.9 283.6L325.4 284.3L326.4 283.4L327.4 283.7L327.9 284.2L328.9 283.5L329.9 283.7L330.4 284.1L330.9 283.6L331.4 283.5L331.9 284L333.4 283.7L334.4 284L335.4 283.4L335.9 283.4L336.4 284L338.4 283.6L339.4 284L340.4 283.5L341.4 283.7L341.9 284.3L342.4 283.7L342.9 283.6L343.9 284L344.4 283.4L344.9 283.3L345.9 284.1L346.4 283.6L346.9 283.6L347.4 284.2L348.9 283.6L349.9 284L350.9 283.4L352.4 283.9L353.4 283.4L353.9 283.5L354.4 284L354.9 283.5L355.4 283.3L355.9 283.9L357.4 283.5L358.4 283.9L358.9 283.4L359.9 283.5L360.4 284L362.4 283.6L363.4 284.3L363.9 283.8L365.4 284L366.4 283.5L367.9 283.9L368.4 283.4L368.9 283.2L369.9 284L370.9 283.4L371.4 283.8L372.9 283.5L373.4 283.9L374.9 283.7L375.9 284.1L377.4 283.6L378.9 284L379.9 283.6L380.9 283.8L381.4 284.2L382.9 283.3L384.4 283.9L384.9 283.5L385.9 283.6L386.4 284L387.9 283.4L388.9 283.7L389.4 284.2L390.4 283.4L391.9 283.8L392.4 284.2L393.4 283.5L394.9 284L395.9 283.6L396.9 283.8L397.4 284.2L397.9 283.6L398.4 283.6L398.9 284.3L399.4 283.5L399.9 283.5L400.4 284L401.9 283.4L402.4 283.9L403.9 283.4L405.4 283.9L405.9 283.5L406.4 283.6L406.9 284.2L407.9 283.5L409.9 284.2L410.9 283.4L411.9 283.6L412.4 284.1L413.4 283.5L414.4 283.9L414.9 283.6L415.9 283.8L416.4 283.3L417.4 284.1L418.4 283.4L419.4 283.5L419.9 283.9L421.9 283.7L422.4 284L423.9 283.4L424.4 284L425.9 283.5L426.4 284L427.4 283.4L428.4 283.9L428.9 283.6L430.4 284L431.9 283.6L432.9 284.1L433.9 283.5L435.4 284.2L435.9 283.5L436.9 283.7L437.4 284.1L438.9 283.5L439.9 284L441.9 283.6L442.9 284.2L443.9 283.4L444.9 283.9L445.4 283.4L446.4 283.5L446.9 284L447.9 283.6L448.9 284.1L450.9 283.5L451.9 284.1L452.4 283.5L453.4 283.6L453.9 284.2L454.9 283.4L456.4 283.7V284.6Z" fill="#4a7cbd"/><rect x="270.40" y="284.10" width="186.30" height="0.75" fill="#4a7cbd" opacity="0.9"/><path d="M270.4 294.5L270.4 294.3L278.4 294.3L280.9 294.3L281.4 294L281.9 292L282.9 288.8L283.9 291.8L284.4 293.7L284.9 294.2L292.9 294.1L294.9 293.9L295.4 292.4L295.9 291.9L296.4 292.3L296.9 293.3L298.4 291.4L298.9 291.3L299.4 291.9L299.9 293.3L300.9 291.9L301.4 291.9L301.9 292.9L302.4 292.7L302.9 291.9L303.9 292L304.4 292.5L304.9 293.7L305.4 291.8L305.9 291.8L306.4 292.8L306.9 292.5L307.4 291.5L307.9 291.9L308.4 293.5L308.9 292L309.4 292.1L309.9 293.4L310.4 294L318.4 294.2L324.4 294.3L324.9 293.7L325.4 291.4L325.9 289.6L326.4 289.7L326.9 291.6L327.4 293.9L327.9 294.3L335.9 294.2L343.9 294.2L351.9 294.3L353.9 294.1L354.4 293.2L354.9 293.2L355.4 287.4L355.9 286.4L356.9 288.7L357.4 286.4L357.9 286.4L358.4 291.3L358.9 287.8L359.4 286.6L359.9 286.5L360.4 287.2L360.9 291.3L361.4 293.3L361.9 294.2L363.4 294.2L364.4 292.2L365.4 294.2L373.4 294.2L377.4 294.2L378.4 292.9L378.9 293.2L379.4 294L387.4 294.2L389.4 294.1L390.4 292.9L391.4 294.3L395.4 294.1L396.4 292.9L396.9 293.3L397.4 294L405.4 294.1L413.4 294.2L415.9 294.2L416.4 293.6L417.4 290.2L417.9 288.8L418.4 287.8L419.9 292.2L420.4 294.1L428.4 294.2L436.4 294.2L444.4 294.3L447.4 294.2L448.4 292.6L448.9 292.6L449.4 293.6L449.9 294.2L456.4 294.3V294.5Z" fill="#17a04b"/><rect x="270.40" y="294.05" width="186.30" height="0.75" fill="#17a04b" opacity="0.55"/><path d="M270.4 304.4L270.4 304.2L278.4 304.2L286.4 304.2L294.4 304L294.9 304L295.4 303.1L295.9 302.7L296.9 302.9L297.4 304L297.9 302.7L298.4 302.2L298.9 302.4L299.4 303.4L299.9 303.4L300.4 303L301.4 303L301.9 303.4L302.4 304.1L302.9 303.2L303.9 302.9L304.4 303.1L304.9 303.9L306.4 304.3L314.4 304.1L322.4 304.2L330.4 304.1L338.4 304.2L346.4 304.2L354.4 304.2L356.4 302.2L358.4 304.3L366.4 304.1L374.4 304.2L382.4 304.2L390.4 304.3L398.4 304.1L406.4 304.1L414.4 304.1L416.4 304.2L417.9 301.1L418.9 302.7L419.4 303.9L419.9 304.2L427.9 304.2L435.9 304.2L443.9 304.1L444.4 304.2L445.4 302.6L445.9 302.6L446.4 303.5L446.9 304.1L454.9 304.1L456.4 304.1V304.4Z" fill="#8cc88c"/><rect x="270.40" y="304.00" width="186.30" height="0.75" fill="#8cc88c" opacity="0.4"/><path d="M270.4 314.4L270.4 314.3L278.4 314.1L279.9 310.3L280.4 310.5L281.4 313.2L281.9 312.5L282.9 309.3L283.4 309.5L284.4 312.9L284.9 314.2L292.9 314.3L295.9 314.2L296.4 313.5L296.9 313.4L297.4 310.1L297.9 308.6L298.4 309.1L298.9 312.9L299.4 309.6L299.9 308.5L300.4 309.5L300.9 311.5L301.4 308.8L301.9 309.4L302.4 313.3L302.9 309.8L303.4 308.5L303.9 308.2L304.4 309.1L304.9 313.1L305.4 309.5L305.9 308.3L306.4 309.2L306.9 311.9L307.4 313.3L307.9 314.2L310.4 314.1L310.9 313.1L311.4 311.7L311.9 311.5L312.9 314.2L315.4 314.1L316.9 309.8L317.4 310L318.4 313L318.9 314.1L321.4 314.2L322.4 312.2L323.4 313.9L324.4 314.1L325.4 308.4L325.9 309.2L326.4 312.2L326.9 314.1L328.4 314.1L329.4 311.6L329.9 311.6L330.4 313.1L330.9 314.1L336.4 314L337.4 312.1L338.4 314L344.9 314.1L345.4 313.7L346.4 310.3L347.4 307.5L348.9 311.9L349.4 313.9L353.9 314.2L354.4 313.3L354.9 313.3L355.4 308.7L355.9 306.9L356.4 306.6L356.9 307.7L357.4 312.8L357.9 307.8L358.4 306.7L358.9 307L359.4 309.3L359.9 309.8L360.4 307L360.9 306.3L361.4 306.8L361.9 311L362.4 313.3L362.9 314.1L364.4 314.1L366.4 311.1L366.9 311.4L368.4 313.8L368.9 314.1L376.9 314.1L377.4 314.1L378.4 312.4L378.9 312.7L379.4 313.7L379.9 314.1L383.9 314.1L384.9 313.8L385.4 312.5L386.4 311.3L386.9 311.3L387.4 312L387.9 313.8L388.4 311.8L388.9 311.9L389.4 313.1L390.4 311.7L390.9 311.5L391.4 311.9L391.9 313.3L392.4 313L392.9 309.3L393.4 306.5L393.9 309.6L394.4 313.5L394.9 314.1L395.9 314.1L396.4 313.4L396.9 310.7L397.4 308.8L397.9 311L398.4 313.7L398.9 314.2L406.9 314.1L414.9 314.2L415.4 314L417.9 308.7L419.9 312.6L420.4 313.9L428.4 314L436.4 314.1L444.4 314.1L445.9 314.2L446.4 313.7L446.9 312.2L447.4 311L448.4 314L456.4 314.1V314.4Z" fill="#5b5a12"/><rect x="270.40" y="313.95" width="186.30" height="0.75" fill="#5b5a12" opacity="0.85"/><path d="M270.4 324.3L270.4 324.1L278.4 324.2L279.4 324.2L281.9 320L282.4 320.2L284.4 323.5L284.9 324.1L292.9 324L293.9 324.1L294.4 323.4L294.9 323.4L295.4 320.9L295.9 319.3L296.4 318.8L296.9 319.5L297.4 321.4L297.9 321.3L298.4 319.4L298.9 319.3L299.4 321.8L299.9 320.1L300.4 319.5L300.9 320.8L301.4 320.7L301.9 318.7L302.4 319.3L302.9 322.2L303.4 320.2L303.9 318.7L304.4 319.1L304.9 320.8L305.4 321.7L305.9 319.8L306.4 319.3L306.9 319.6L307.4 320.4L307.9 322.5L308.9 324.1L312.9 324.2L313.4 323.8L313.9 323.8L314.4 322.1L314.9 321.3L315.4 321.7L315.9 323L316.9 321.8L317.4 321.5L317.9 321.7L318.4 322.6L319.4 321.2L319.9 322.7L320.4 323.7L320.9 324.2L323.9 324L324.9 323.6L325.4 322.3L325.9 321.7L326.4 321.8L326.9 322.4L327.4 323.6L327.9 322.5L328.4 321.9L328.9 322L329.4 322.4L329.9 323.5L335.9 324.1L336.4 323.5L336.9 322L337.4 321.1L337.9 322.4L338.4 324.2L343.9 324.1L344.4 323.6L344.9 323.5L345.4 321.3L345.9 320.1L346.4 320.7L346.9 322.6L347.9 321.1L348.4 321.4L348.9 322.3L349.4 320.6L349.9 322.4L350.4 323.6L350.9 324L353.9 324L354.4 323L354.9 323L355.4 320.4L355.9 318.8L356.4 318.5L356.9 319.7L357.4 322.9L357.9 320.1L358.4 319.8L358.9 321.9L359.9 319.7L360.4 320L360.9 323L361.4 320.3L361.9 319.3L362.4 319.1L362.9 319.6L363.4 321.8L363.9 321.5L364.4 320.3L365.4 319.7L365.9 320.4L366.4 322.7L366.9 320.4L367.4 318.9L367.9 319.5L368.4 321.4L368.9 320.3L369.4 318.4L369.9 319.3L370.4 322L370.9 319.9L371.9 319.8L372.4 320.9L372.9 322.8L373.4 320.1L373.9 319L374.4 319L374.9 319.5L375.4 321L375.9 321.8L376.4 320L376.9 319.3L377.4 319.5L377.9 320.7L378.4 322.3L378.9 319.5L379.4 318.6L379.9 319.4L380.4 322.9L380.9 319.4L381.4 318.2L381.9 318.7L382.4 320.7L382.9 321.3L383.4 319.7L383.9 319.7L384.4 322L384.9 321.3L385.4 320.1L385.9 319.7L386.4 320L386.9 320.9L387.4 322.6L387.9 320.2L388.4 319.1L388.9 318.6L389.4 319L389.9 321L390.4 321.3L390.9 319.8L391.4 319.6L391.9 320L392.4 321.3L392.9 321.4L393.4 319.2L393.9 319.8L394.4 322.3L394.9 319.6L395.4 318.7L395.9 319.2L396.4 321L396.9 320L397.4 318.4L397.9 321.4L398.4 323L398.9 323.9L406.9 324.2L414.9 324L415.4 322.3L415.9 321.8L416.4 321.9L416.9 323.4L417.4 321.4L417.9 321.2L418.4 322.4L419.4 321.7L419.9 323.1L420.4 324L428.4 324.1L436.4 324L444.4 324.1L446.4 324.1L447.4 322.2L447.9 322.8L448.4 323.8L456.4 324.2V324.3Z" fill="#bccf2c"/><rect x="270.40" y="323.90" width="186.30" height="0.75" fill="#bccf2c" opacity="0.55"/><path d="M270.4 334.3L270.4 334L278.4 334L281.4 334L281.9 333.6L282.4 330.9L282.9 328.6L283.4 330.7L283.9 333.3L284.4 333.9L292.4 334L297.9 334L298.4 332.7L298.9 332.3L299.9 332.6L300.4 333.1L300.9 333.2L301.4 332.3L301.9 331.8L302.4 331.7L302.9 332L303.4 332.8L303.9 333.2L304.4 332.5L304.9 332.3L305.4 332.5L305.9 333.4L306.4 334L314.4 334L322.4 334L324.9 333.9L325.4 330.5L325.9 327.8L326.4 329.7L326.9 332.7L327.4 334.1L335.4 334.1L343.4 334L346.4 334L347.4 333.2L348.4 334L355.4 334L356.4 330.4L356.9 328.9L357.4 329.7L358.4 333.1L358.9 333.9L364.4 333.9L365.4 332L366.4 334L374.4 334L374.9 334L375.4 332.8L375.9 332.2L376.4 332.2L377.4 333.4L377.9 332.2L378.4 332.1L378.9 333.3L380.4 332.5L380.9 332.6L381.4 333.1L381.9 333.1L382.4 332.3L382.9 332.4L383.4 333.6L384.4 332.5L384.9 332.6L385.4 333.8L385.9 332.7L386.4 332.3L386.9 332.7L387.4 333.6L387.9 332.8L388.9 332.4L389.4 332.6L389.9 333.3L390.9 332.2L391.9 332.6L392.4 330.7L392.9 330.4L393.9 334.1L401.9 334.1L409.9 334L415.4 334L415.9 331.4L416.4 328L416.9 327.5L417.9 334.1L425.9 334.1L430.9 334.1L431.4 333.5L431.9 331.4L432.4 329.8L432.9 331.5L433.4 333.7L441.4 334L445.9 334.1L446.4 333.5L446.9 331.4L447.4 329.8L447.9 331.5L448.4 333.7L456.4 334.1V334.3Z" fill="#7c1a7f"/><rect x="270.40" y="333.85" width="186.30" height="0.75" fill="#7c1a7f" opacity="0.85"/><path d="M270.4 344.2L270.4 344L278.4 344L281.9 343.9L282.9 341.3L283.4 341.5L283.9 343L284.4 344L292.4 344L300.4 344L308.4 344L316.4 344.1L324.4 344.1L324.9 344L325.9 341.2L326.4 341.7L326.9 343.2L327.4 344L335.4 344L343.4 343.8L351.4 344L359.4 344L367.4 343.9L375.4 344L383.4 344.1L391.4 343.9L392.4 342.3L392.9 342.5L393.4 343.5L393.9 343.9L401.9 344L409.9 344L415.4 344L415.9 340.7L416.4 338L416.9 339.3L417.4 342.3L417.9 344L425.9 343.9L433.9 344.1L441.9 343.9L445.4 344L447.4 340.9L448.9 342.9L449.4 343.8L456.4 344V344.2Z" fill="#b48cc6"/><rect x="270.40" y="343.80" width="186.30" height="0.75" fill="#b48cc6" opacity="0.45"/><path d="M270.4 354.2L270.4 353.9L278.4 353.9L281.9 353.9L282.4 351.9L283.4 347.4L283.9 349.4L284.9 353.9L292.9 353.9L298.9 353.9L299.9 353.7L300.4 352.1L300.9 351.3L301.4 351.2L301.9 351.7L302.4 352.6L302.9 352.8L303.4 352.1L304.4 351.6L305.4 352.2L305.9 353.3L313.9 353.9L321.9 353.9L324.9 353.9L325.9 352L326.9 353.8L334.9 353.9L342.9 354L350.9 353.9L356.4 353.9L357.4 352L357.9 352.6L358.4 353.7L366.4 353.9L374.4 353.8L382.4 353.9L390.4 353.9L391.4 353.9L392.4 349.5L392.9 349.5L393.9 353.9L401.9 353.9L409.9 353.9L415.4 354L416.4 351.3L416.9 351.5L417.4 353L417.9 353.9L425.9 353.9L431.4 353.9L432.4 352.5L433.4 354L441.4 354L446.4 353.7L446.9 352.6L447.4 352L448.4 354L456.4 354V354.2Z" fill="#ea7a22"/><rect x="270.40" y="353.75" width="186.30" height="0.75" fill="#ea7a22" opacity="0.7"/><path d="M270.4 364.1L270.4 363.8L278.4 363.8L281.9 363.8L282.4 360.5L282.9 357.8L283.4 356.9L283.9 359.4L284.4 362.5L284.9 363.8L292.9 363.8L298.9 363.8L299.4 363.4L299.9 363.4L300.4 361.9L300.9 361.1L301.4 361.4L301.9 363L302.4 361.7L302.9 360.8L303.4 361.2L303.9 363.2L304.4 361.4L304.9 361.1L305.4 361.6L305.9 362.9L306.9 363.9L314.9 363.8L322.9 363.8L324.9 363.9L325.9 362L326.4 362.6L326.9 363.6L334.9 364L342.9 363.9L350.9 363.9L356.4 364L357.4 361L357.9 361.7L358.4 363.2L358.9 363.9L364.4 364L365.4 361.9L366.4 363.7L374.4 363.9L382.4 363.9L390.4 363.9L391.4 364L391.9 361L392.4 358.8L392.9 360.2L393.4 362.8L393.9 363.8L401.9 363.9L409.9 363.9L414.9 364L415.4 363.4L415.9 360.7L416.4 358.4L416.9 360.6L417.4 363.2L417.9 363.8L425.9 363.8L433.9 363.9L441.9 363.9L445.4 363.8L446.4 361L446.9 361.7L447.4 363.2L447.9 363.8L451.4 363.9L452.4 362.1L452.9 362.5L453.4 363.5L453.9 363.9L456.4 363.8V364.1Z" fill="#eb9a2a"/><rect x="270.40" y="363.70" width="186.30" height="0.75" fill="#eb9a2a" opacity="0.45"/><rect x="270.40" y="373.65" width="186.30" height="0.6" fill="#e2e2ea" opacity="1"/><rect x="32.60" y="408.05" width="219.30" height="8.95" fill="#f7f7f8"/><text x="32.90" y="412.40" font-size="3.5" fill="#555">[0 - 170]</text><rect x="32.60" y="418.20" width="219.30" height="8.95" fill="#f7f7f8"/><text x="32.90" y="422.55" font-size="3.5" fill="#555">[0 - 170]</text><rect x="32.60" y="428.35" width="219.30" height="8.95" fill="#f7f7f8"/><text x="32.90" y="432.70" font-size="3.5" fill="#555">[0 - 170]</text><rect x="32.60" y="438.50" width="219.30" height="8.95" fill="#f7f7f8"/><text x="32.90" y="442.85" font-size="3.5" fill="#555">[0 - 170]</text><rect x="32.60" y="448.65" width="219.30" height="8.95" fill="#f7f7f8"/><text x="32.90" y="453.00" font-size="3.5" fill="#555">[0 - 170]</text><rect x="32.60" y="458.80" width="219.30" height="8.95" fill="#f7f7f8"/><text x="32.90" y="463.15" font-size="3.5" fill="#555">[0 - 170]</text><rect x="32.60" y="468.95" width="219.30" height="8.95" fill="#f7f7f8"/><text x="32.90" y="473.30" font-size="3.5" fill="#555">[0 - 170]</text><rect x="32.60" y="479.10" width="219.30" height="8.95" fill="#f7f7f8"/><text x="32.90" y="483.45" font-size="3.5" fill="#555">[0 - 170]</text><rect x="32.60" y="489.25" width="219.30" height="8.95" fill="#f7f7f8"/><text x="32.90" y="493.60" font-size="3.5" fill="#555">[0 - 170]</text><rect x="32.60" y="499.40" width="219.30" height="8.95" fill="#f7f7f8"/><text x="32.90" y="503.75" font-size="3.5" fill="#555">[0 - 170]</text><rect x="32.60" y="509.55" width="219.30" height="8.95" fill="#f7f7f8"/><text x="32.90" y="513.90" font-size="3.5" fill="#555">[0 - 170]</text><rect x="32.60" y="519.70" width="219.30" height="8.95" fill="#f7f7f8"/><text x="32.90" y="524.05" font-size="3.5" fill="#555">[0 - 170]</text><rect x="32.60" y="529.85" width="219.30" height="8.95" fill="#f7f7f8"/><text x="32.90" y="534.20" font-size="3.5" fill="#555">[0 - 170]</text><path d="M32.6 417.0L32.6 416.7L37.6 416.8L38.6 415.9L39.6 416.7L47.6 416.6L55.6 416.7L63.6 416.8L69.6 416.6L70.6 415.4L71.6 416.7L79.6 416.7L84.1 416.7L84.6 416.3L86.1 414L86.6 413.8L88.6 416.6L89.6 416.7L91.6 414.7L93.6 416.7L101.6 416.7L109.6 416.8L117.6 416.8L125.6 416.7L133.6 416.7L141.6 416.6L149.6 416.7L157.6 416.7L165.6 416.7L173.6 416.7L181.6 416.7L189.6 416.7L197.6 416.8L205.6 416.8L209.6 416.6L210.6 415.4L211.6 416.7L216.6 416.7L217.6 414.7L218.6 416.6L226.6 416.6L234.6 416.8L239.1 416.7L239.6 415.5L240.1 415.4L240.6 413.6L241.1 412.9L242.1 412.8L242.6 413.3L243.6 415.5L244.1 413.8L244.6 412.9L245.1 413.2L245.6 414.2L246.1 415.7L246.6 415.7L247.1 416.7L251.6 416.7V417.0Z" fill="#cf1b3d"/><rect x="32.60" y="416.55" width="219.30" height="0.75" fill="#cf1b3d" opacity="0.85"/><path d="M32.6 427.1L32.6 426.9L40.6 426.8L48.6 426.8L56.6 426.8L64.6 426.9L72.6 427L80.6 426.9L88.6 427L96.6 426.9L104.6 426.8L112.6 426.9L120.6 426.8L128.6 426.8L136.6 426.8L144.6 426.9L152.6 426.9L160.6 426.9L168.6 426.8L176.6 426.8L184.6 426.8L192.6 426.8L200.6 426.9L208.6 426.8L216.6 426.9L224.6 426.8L232.6 426.8L240.6 426.9L243.1 424.9L245.6 426.8L251.6 426.8V427.1Z" fill="#f2b64f"/><rect x="32.60" y="426.70" width="219.30" height="0.75" fill="#f2b64f" opacity="0.4"/><path d="M32.6 437.3L32.6 436.9L40.6 437L48.6 437.1L56.6 437L64.6 437L69.6 436.9L70.1 436.4L70.6 436.3L71.6 437L77.6 437L78.6 436.2L79.6 437L84.1 436.9L84.6 434.6L85.1 433.5L85.6 429.2L86.6 429.2L87.1 430L87.6 434.6L88.1 431.9L88.6 430.3L89.1 429.2L90.6 429.2L91.1 429.5L91.6 430.7L92.1 432.7L92.6 432.6L93.1 429.2L93.6 429.7L94.1 435.1L94.6 435.1L95.1 437.1L103.1 437.1L103.6 436.6L104.6 434.5L105.1 434.1L106.6 437L114.6 437.1L122.1 437L123.6 434.3L124.1 434.3L125.6 437L133.1 437L133.6 436.6L134.6 435.3L135.1 435.3L136.1 436.6L136.6 436.9L137.6 435.1L138.1 435.8L138.6 436.8L146.6 437.1L154.6 437.1L162.6 437L170.6 436.9L178.6 436.9L186.6 437L194.6 437L202.6 436.9L210.1 436.9L211.6 436L213.6 436.5L214.1 436.9L215.6 436.1L217.6 436.7L219.1 436.1L220.1 436.9L228.1 437L236.1 436.9L238.6 436.8L239.1 436.5L239.6 435.6L240.6 434.8L241.1 434.9L242.1 436.1L242.6 436L243.1 435.3L244.6 434.7L245.6 435.7L246.1 436.8L251.6 437.2V437.3Z" fill="#1b62a2"/><rect x="32.60" y="436.85" width="219.30" height="0.75" fill="#1b62a2" opacity="0.9"/><path d="M32.6 447.4L32.6 447.1L35.1 446.6L37.1 447L40.1 446.8L41.1 447.1L43.1 446.7L44.1 447.1L52.1 447.1L60.1 446.7L62.6 447L65.6 446.9L70.1 446.8L71.6 446.4L73.1 446.7L74.6 446.4L77.6 446.3L78.1 446.7L78.6 446.7L79.1 446.3L81.1 447.1L82.6 446.5L84.1 447.1L85.1 446.6L85.6 445.7L87.1 445.2L88.1 446.6L89.1 445.1L90.1 444.7L91.1 445L92.1 446.6L95.1 447.1L98.1 446.8L99.1 447.1L103.6 447L105.1 446.7L106.1 447.1L107.6 446.5L109.1 447.1L111.1 446.6L112.1 447.1L113.6 446.6L115.1 447.1L116.6 446.5L118.1 447.1L120.1 446.7L121.1 447.1L125.6 447L128.1 446.7L129.1 447L132.6 446.8L133.6 447.1L137.1 446.8L138.1 447L146.1 447L149.6 446.9L150.6 447L152.6 446.7L153.6 447.1L158.6 446.9L159.6 446.5L161.6 447.1L164.1 446.7L165.1 447L169.6 447L173.1 447.1L174.1 446.5L176.1 447.1L178.1 446.7L179.1 447.1L187.1 446.8L192.1 446.9L193.1 447L194.6 446.7L195.6 447.1L197.1 446.7L198.1 447.1L201.6 446.9L202.6 447.1L206.1 446.9L211.6 447.1L213.1 446.6L214.6 447.1L221.6 446.8L222.1 447L223.6 446.5L225.1 447.1L228.1 446.8L229.1 447.1L231.6 446.8L232.6 447.1L235.6 446.9L238.6 446.8L239.1 447.1L241.1 446.6L242.6 447.1L247.1 446.9L251.6 447.3V447.4Z" fill="#4a7cbd"/><rect x="32.60" y="447.00" width="219.30" height="0.75" fill="#4a7cbd" opacity="0.9"/><path d="M32.6 457.6L32.6 457.4L40.6 457.4L48.6 457.3L56.6 457.4L62.1 457.4L63.1 456.6L63.6 456.7L64.6 457.5L69.1 457.4L69.6 457L70.1 457L70.6 456.2L71.6 455.9L72.6 456.3L73.1 457L73.6 456L74.1 455.7L74.6 456.1L75.1 457L75.6 457L83.6 457.3L84.1 457.3L84.6 456.7L85.1 456.5L85.6 455.1L86.1 454.7L87.1 455L87.6 455.6L88.1 456.7L88.6 455.5L90.1 454.9L91.1 455.4L92.1 456.8L92.6 456.8L93.1 457.3L101.1 457.4L108.1 457.3L109.6 454.5L110.1 454.7L111.1 456.7L111.6 457.3L119.6 457.4L125.6 457.1L126.6 455.7L127.1 455.5L128.6 457.3L133.6 457.3L135.1 454.8L136.6 456.7L137.1 455.7L137.6 455.8L138.6 457.3L146.6 457.3L154.6 457.3L162.6 457.4L170.6 457.4L178.6 457.4L186.6 457.4L194.6 457.2L202.6 457.3L209.6 457.3L210.6 455.4L211.6 457.1L219.6 457.3L227.6 457.4L229.6 457.3L230.6 456.5L231.6 457.3L239.1 457.3L239.6 455.4L240.1 455.2L240.6 451.8L241.1 450L241.6 449.5L244.1 449.5L244.6 450.2L245.1 451.4L245.6 453.2L246.1 455.4L246.6 455.4L247.1 457.3L251.6 457.4V457.6Z" fill="#17a04b"/><rect x="32.60" y="457.15" width="219.30" height="0.75" fill="#17a04b" opacity="0.55"/><path d="M32.6 467.8L32.6 467.5L40.6 467.5L48.6 467.5L56.6 467.4L64.6 467.4L72.6 467.5L74.1 467.4L74.6 466.9L75.1 465.9L75.6 465.9L76.6 467.4L84.6 467.5L86.6 467.4L87.6 466.7L88.6 467.5L96.6 467.4L104.6 467.5L112.6 467.5L120.6 467.5L125.6 467.4L127.1 465.5L128.6 467.5L136.6 467.5L144.6 467.5L152.6 467.5L160.6 467.4L168.6 467.4L176.6 467.5L184.6 467.5L192.6 467.4L200.6 467.5L208.6 467.5L216.6 467.4L224.6 467.4L232.6 467.4L240.6 467.5L241.6 467.3L242.6 465.9L243.1 465.6L244.6 467.4L251.6 467.5V467.8Z" fill="#8cc88c"/><rect x="32.60" y="467.30" width="219.30" height="0.75" fill="#8cc88c" opacity="0.4"/><path d="M32.6 477.9L32.6 477.6L37.6 477.7L38.6 475.7L39.6 477.4L47.6 477.6L55.6 477.6L62.1 477.6L62.6 477.2L63.1 476.2L63.6 475.9L64.6 477.6L67.1 477.7L67.6 477L68.1 477L68.6 476L70.1 474.6L70.6 474.6L72.1 476.4L72.6 476.2L73.1 475L73.6 474.8L74.1 475L74.6 475.7L75.1 476.9L75.6 476.9L76.1 477.5L84.1 477.7L84.6 474.1L85.1 473.9L85.6 470.5L86.1 469.8L87.6 469.8L88.1 470.2L88.6 472.6L89.1 473.9L89.6 470.7L90.1 469.8L92.1 469.8L92.6 472.1L93.1 473.9L93.6 473.9L94.1 477.6L102.1 477.6L103.1 477.6L103.6 477.2L104.6 473.6L105.1 472.2L106.1 475.3L106.6 477.4L108.6 477.6L110.1 474.5L111.1 476.3L111.6 477.4L118.1 477.6L119.6 475.9L120.1 475.9L121.1 477.3L125.6 477.6L127.1 474.6L128.1 476.2L128.6 477.3L129.1 477.6L133.1 477.6L133.6 476.8L134.1 476.4L134.6 474.6L135.1 473.7L136.1 473.1L136.6 473.4L137.1 474.4L137.6 476.5L138.1 474.3L138.6 473L139.1 472.8L139.6 473.9L140.1 476.6L142.1 475L144.1 475.6L145.1 476.9L145.6 477L146.1 477.5L150.1 477.6L151.6 476.9L153.1 477.5L154.1 476.9L155.1 477.6L163.1 477.7L171.1 477.6L179.1 477.6L187.1 477.6L195.1 477.6L203.1 477.6L209.1 477.6L210.1 477.1L210.6 476.1L213.1 474.9L214.1 476.1L214.6 477.1L215.1 475.6L216.1 473.8L216.6 471.9L217.1 471.8L218.1 475.7L218.6 475.1L219.1 475.3L219.6 476L220.1 477.2L220.6 477.2L221.1 477.6L229.1 477.6L234.1 477.6L234.6 475.8L235.1 475.8L236.1 473L236.6 472.5L237.6 473L238.1 473.6L239.1 475.8L240.1 473.1L241.1 472.8L241.6 473.2L242.1 473.9L242.6 475.5L243.1 474.8L243.6 473.4L244.6 473L245.1 473.5L246.1 475.8L246.6 475.8L247.1 477.7L251.6 477.7V477.9Z" fill="#5b5a12"/><rect x="32.60" y="477.45" width="219.30" height="0.75" fill="#5b5a12" opacity="0.85"/><path d="M32.6 488.1L32.6 487.8L40.6 487.8L48.6 487.8L50.1 487.4L51.1 486.6L51.6 486.4L52.6 486.8L53.6 485.1L54.1 485.1L55.1 486.1L56.1 484.1L57.1 483.9L57.6 484.3L58.1 485.2L58.6 485.7L60.1 484.2L61.1 484.5L62.1 485.8L62.6 485.7L63.1 484.4L63.6 483.9L65.1 485.1L66.1 486.5L68.1 486.1L69.1 486.9L70.1 486.1L70.6 483.8L71.1 482.9L71.6 482.8L72.1 483.5L72.6 485.2L73.1 485.7L74.1 483L76.1 483L77.1 484.2L78.1 486.4L78.6 486.4L79.1 487.8L83.1 487.7L83.6 485.9L84.1 485.9L84.6 484L85.1 482.8L86.1 481.8L87.6 482.2L88.1 483.4L88.6 485.8L89.1 483.5L89.6 482.4L90.1 482.4L90.6 483.3L91.1 485.8L92.1 483.6L93.1 482.4L93.6 482.8L94.1 483.6L95.1 486.2L96.1 486.5L97.1 486L98.1 486.6L98.6 486.4L99.6 485.1L100.6 484.8L101.1 485.1L101.6 485.8L102.6 484.1L103.1 484.1L103.6 484.7L104.1 486.1L104.6 485.9L105.1 485.3L106.1 485.2L107.1 486.8L108.1 486.3L110.1 487.3L111.1 486.3L111.6 486.1L112.1 486.7L112.6 486.3L113.6 484.4L114.1 484.2L114.6 484.6L115.1 485.4L115.6 485.3L116.1 483.4L116.6 482.6L117.6 485L118.6 483.7L119.6 483.4L120.1 483.7L121.1 485.4L121.6 485.8L122.6 485.7L124.6 487.2L125.1 487.3L126.6 486.1L128.1 486.4L129.6 484.2L130.6 483.9L131.1 484.2L131.6 485.3L132.1 485.3L133.1 483.5L133.6 483.2L134.1 483.9L134.6 485.1L135.1 484.7L135.6 483.6L136.1 483.2L136.6 483.2L137.6 484.3L138.1 485.4L138.6 485.2L139.1 484.2L139.6 484.1L140.1 485.6L140.6 486.2L141.6 485.4L143.6 486L144.6 487L148.6 487.3L151.1 486.9L152.6 487L154.1 486.7L156.1 486.8L158.6 486.8L159.1 486.2L159.6 486L160.6 486.7L161.6 486.3L162.6 485.6L164.1 486.5L165.1 486.4L166.1 485.3L166.6 485.2L167.6 486.1L168.6 486.3L169.1 485.7L169.6 485.6L170.6 486.4L171.1 486.4L172.1 485.6L173.1 486.2L174.1 485.4L175.1 486.2L175.6 486.1L176.1 485.5L177.1 485.5L177.6 485.9L178.6 486.1L179.6 485.5L181.1 486.3L182.1 485.9L182.6 485.3L183.1 485.1L184.1 486.2L184.6 486.2L186.1 485.4L188.1 486.2L189.1 486L189.6 486.4L190.6 486.4L191.6 485.6L192.1 485.6L193.1 486.5L193.6 486.6L194.1 486.1L194.6 486.1L195.6 486.8L198.1 486.6L199.1 486.9L200.6 486.6L202.6 487.1L203.6 486.7L206.1 487.3L207.1 487.1L210.1 487.1L211.1 486.3L213.6 486.5L215.1 484.7L215.6 484.6L216.6 485.8L217.1 485.9L218.1 484.4L218.6 484.3L219.6 485.4L220.6 483.1L221.1 483.3L221.6 485.1L222.1 485.1L223.1 482.9L223.6 482.8L224.6 483.7L225.1 484.8L225.6 484.7L226.1 482.9L226.6 481.6L227.1 482L227.6 484.1L228.1 484.7L228.6 483.5L229.1 483.2L229.6 483.3L230.1 483.8L230.6 485.1L231.1 485.3L231.6 484.1L232.1 483.7L232.6 484.1L233.1 485.3L234.1 483.5L234.6 483.7L235.1 485.4L235.6 485.5L236.1 484.3L236.6 483.6L237.1 483.8L238.1 484.9L238.6 485.7L239.1 486L240.6 485.2L241.6 485.8L242.1 486.6L242.6 486.7L244.1 486.1L246.6 487.1L247.1 487.8L251.6 487.8V488.1Z" fill="#bccf2c"/><rect x="32.60" y="487.60" width="219.30" height="0.75" fill="#bccf2c" opacity="0.55"/><path d="M32.6 498.2L32.6 497.9L39.1 498.1L40.1 497.2L40.6 497.3L41.6 497.9L49.6 497.9L54.6 497.9L55.6 496.5L56.6 497.8L62.6 497.9L63.6 497.1L64.6 497.8L72.1 497.7L72.6 497.1L73.6 496.9L75.1 497.8L76.6 497L78.1 497.8L84.1 498L84.6 497.2L85.1 497.1L85.6 496L86.6 495.3L87.6 495.5L88.1 496L88.6 496.9L89.1 496.8L90.1 495.7L91.1 495.3L92.1 496L93.1 497.3L93.6 497.3L94.1 497.9L102.1 498L103.1 498L103.6 497.5L104.1 496.5L104.6 496.1L105.6 497.9L113.6 497.8L114.6 497.9L115.6 496.5L116.6 497.9L124.6 497.9L132.6 497.9L133.6 497.6L134.6 495.5L135.1 494.9L136.6 497.9L144.6 498L152.6 498L160.6 497.9L168.6 497.8L176.6 497.9L184.6 497.9L192.6 498.1L200.6 497.8L208.6 498L209.6 497.7L210.1 496.7L210.6 496L211.6 497.9L216.6 497.9L217.6 496L218.6 497.8L226.6 497.9L234.6 497.9L239.1 497.9L239.6 497.3L240.1 497.2L241.1 495.5L243.1 496L244.1 497.3L244.6 496.2L245.1 495.9L245.6 496.4L246.1 497.4L246.6 497.4L247.1 497.9L251.6 498V498.2Z" fill="#7c1a7f"/><rect x="32.60" y="497.75" width="219.30" height="0.75" fill="#7c1a7f" opacity="0.85"/><path d="M32.6 508.4L32.6 508.2L40.6 508.1L48.6 508.1L56.6 508.1L64.6 508.1L72.6 508.2L80.6 508.1L85.1 508L88.6 507.4L96.6 508L104.6 508.1L112.6 508L120.6 508.1L128.6 508L136.6 508.1L144.6 508L152.6 508.1L160.6 508.1L168.6 508L176.6 507.9L184.6 508L192.6 508L200.6 508.1L208.6 508L209.6 507.9L210.6 506.1L211.6 508.1L219.6 508.1L227.6 508.1L235.6 508.1L241.1 508L241.6 507.7L242.1 506.7L242.6 506.3L243.6 508.1L251.6 508V508.4Z" fill="#b48cc6"/><rect x="32.60" y="507.90" width="219.30" height="0.75" fill="#b48cc6" opacity="0.45"/><path d="M32.6 518.5L32.6 518.2L40.6 518.3L48.6 518.1L56.6 518.2L64.6 518.2L68.1 518.2L68.6 517.7L69.1 516.2L69.6 515.2L70.1 516.6L70.6 518.3L78.6 518.2L84.1 518.2L84.6 517.5L86.1 514.4L86.6 514.2L88.6 518.3L90.6 518.2L91.1 516.2L92.1 513L92.6 514L93.6 517.5L94.1 518.2L102.1 518.3L110.1 518.2L118.1 518.2L126.1 518.3L128.1 516.5L128.6 516.4L130.1 517.9L138.1 518.3L146.1 518.3L154.1 518.3L162.1 518.3L170.1 518.2L178.1 518.2L186.1 518.2L194.1 518.2L202.1 518.2L210.1 518.3L218.1 518.2L226.1 518.3L234.1 518.1L242.1 518.2L242.6 517.6L243.6 514L244.1 512.9L245.1 516.1L245.6 518.2L251.6 518.1V518.5Z" fill="#ea7a22"/><rect x="32.60" y="518.05" width="219.30" height="0.75" fill="#ea7a22" opacity="0.7"/><path d="M32.6 528.6L32.6 528.3L40.6 528.3L48.6 528.4L56.6 528.2L62.6 528.4L63.6 527.6L64.6 528.3L68.1 528.4L68.6 527.4L69.1 525.4L69.6 524.4L70.1 526.2L70.6 528.4L78.6 528.5L84.1 528.4L84.6 527.8L86.1 524.6L86.6 524.3L88.6 528.3L90.1 528.4L91.6 523.7L92.1 523.6L93.6 528.4L101.6 528.4L109.6 528.3L117.6 528.3L124.1 528.4L125.1 527.8L125.6 526.8L126.6 526.4L128.1 527.4L128.6 526.4L129.1 526.1L129.6 526.5L130.1 528L138.1 528.3L146.1 528.3L154.1 528.5L162.1 528.4L170.1 528.3L178.1 528.3L186.1 528.4L194.1 528.3L202.1 528.4L210.1 528.3L216.1 528.5L216.6 527.8L217.1 526.3L217.6 525.4L218.6 528.4L226.6 528.3L234.6 528.4L242.6 528.4L243.1 526.3L244.1 523.2L244.6 524.1L245.6 527.6L246.1 528.4L251.6 528.5V528.6Z" fill="#eb9a2a"/><rect x="32.60" y="528.20" width="219.30" height="0.75" fill="#eb9a2a" opacity="0.45"/><rect x="32.60" y="538.35" width="219.30" height="0.6" fill="#4a4a88" opacity="1"/><rect x="271.00" y="407.75" width="189.20" height="8.95" fill="#f7f7f8"/><text x="271.30" y="412.10" font-size="3.5" fill="#555">[0 - 170]</text><rect x="271.00" y="417.90" width="189.20" height="8.95" fill="#f7f7f8"/><text x="271.30" y="422.25" font-size="3.5" fill="#555">[0 - 170]</text><rect x="271.00" y="428.05" width="189.20" height="8.95" fill="#f7f7f8"/><text x="271.30" y="432.40" font-size="3.5" fill="#555">[0 - 170]</text><rect x="271.00" y="438.20" width="189.20" height="8.95" fill="#f7f7f8"/><text x="271.30" y="442.55" font-size="3.5" fill="#555">[0 - 170]</text><rect x="271.00" y="448.35" width="189.20" height="8.95" fill="#f7f7f8"/><text x="271.30" y="452.70" font-size="3.5" fill="#555">[0 - 170]</text><rect x="271.00" y="458.50" width="189.20" height="8.95" fill="#f7f7f8"/><text x="271.30" y="462.85" font-size="3.5" fill="#555">[0 - 170]</text><rect x="271.00" y="468.65" width="189.20" height="8.95" fill="#f7f7f8"/><text x="271.30" y="473.00" font-size="3.5" fill="#555">[0 - 170]</text><rect x="271.00" y="478.80" width="189.20" height="8.95" fill="#f7f7f8"/><text x="271.30" y="483.15" font-size="3.5" fill="#555">[0 - 170]</text><rect x="271.00" y="488.95" width="189.20" height="8.95" fill="#f7f7f8"/><text x="271.30" y="493.30" font-size="3.5" fill="#555">[0 - 170]</text><rect x="271.00" y="499.10" width="189.20" height="8.95" fill="#f7f7f8"/><text x="271.30" y="503.45" font-size="3.5" fill="#555">[0 - 170]</text><rect x="271.00" y="509.25" width="189.20" height="8.95" fill="#f7f7f8"/><text x="271.30" y="513.60" font-size="3.5" fill="#555">[0 - 170]</text><rect x="271.00" y="519.40" width="189.20" height="8.95" fill="#f7f7f8"/><text x="271.30" y="523.75" font-size="3.5" fill="#555">[0 - 170]</text><rect x="271.00" y="529.55" width="189.20" height="8.95" fill="#f7f7f8"/><text x="271.30" y="533.90" font-size="3.5" fill="#555">[0 - 170]</text><path d="M271.0 416.7L271 416.5L279 416.5L285 416.2L285.5 414.6L286 414L286.5 411.6L287 408.7L287.5 409.1L288 412.1L288.5 414L289 414.5L289.5 415.3L290 414.1L290.5 414.1L291 416.2L299 416.5L304.5 416.5L305.5 415.6L306.5 416.4L314.5 416.5L322.5 416.5L330.5 416.5L338.5 416.5L339.5 416.3L340 415.8L340.5 415.7L346.5 416.4L347.5 415.6L355.5 416.5L363.5 416.5L371.5 416.4L379.5 416.5L387.5 416.5L389.5 416.4L390.5 415.7L391.5 416.4L399.5 416.5L407.5 416.4L415.5 416.4L423.5 416.4L431.5 416.4L439.5 416.4L447.5 416.4L448 414.7L448.5 412.2L449 411.8L450 416.3L454 416.4L455 412.6L455.5 413.3L456 415.3L456.5 416.3L460 416.5V416.7Z" fill="#cf1b3d"/><rect x="271.00" y="416.25" width="189.20" height="0.75" fill="#cf1b3d" opacity="0.85"/><path d="M271.0 426.8L271 426.6L279 426.6L285.5 426.6L287 424.6L288.5 426.5L296.5 426.6L304.5 426.7L312.5 426.6L320.5 426.6L328.5 426.5L336.5 426.5L344.5 426.5L352.5 426.5L360.5 426.5L368.5 426.6L376.5 426.6L384.5 426.6L392.5 426.5L400.5 426.7L408.5 426.5L416.5 426.6L424.5 426.6L432.5 426.5L440.5 426.5L448.5 426.6L449.5 425.8L450.5 426.6L454.5 426.5L455.5 425.8L456.5 426.6L460 426.5V426.8Z" fill="#f2b64f"/><rect x="271.00" y="426.40" width="189.20" height="0.75" fill="#f2b64f" opacity="0.4"/><path d="M271.0 437.0L271 436.7L279 436.7L285 436.7L285.5 436.2L286 436.2L286.5 434.3L287 433.5L287.5 433.6L288 434.4L288.5 436.1L289 434.3L289.5 433.6L290 433.6L290.5 434L291 436.1L291.5 436.1L292 436.9L300 436.7L308 436.7L308.5 435.9L309.5 435.6L310.5 436.3L311 435.6L311.5 435.4L312 435.5L312.5 436.2L314 435.6L315 436.3L316 435.5L316.5 435.4L317 435.9L317.5 436L318 435.5L318.5 435.6L319 436.5L320.5 435.5L321.5 435.8L322 436.7L330 436.8L338 436.7L344.5 436.7L346 434.8L347.5 436.7L355.5 436.7L363.5 436.8L371.5 436.7L379.5 436.7L382.5 436.7L383.5 435.9L384.5 436.8L392.5 436.7L400.5 436.8L408.5 436.6L416.5 436.7L424.5 436.7L432.5 436.9L440.5 436.8L445 436.7L445.5 435.3L446.5 435.3L447 436.1L448 435.1L449 435.3L450 436.1L450.5 435.5L451 435.2L452 435.7L452.5 436.6L453 435.7L454 435.5L454.5 435.8L455 436.7L460 436.7V437.0Z" fill="#1b62a2"/><rect x="271.00" y="436.55" width="189.20" height="0.75" fill="#1b62a2" opacity="0.9"/><path d="M271.0 447.1L271 447L279 446.8L285 446.6L285.5 445.2L286 445.3L286.5 446L287 446L288 445.3L289 446.2L289.5 445.9L290 445.3L290.5 445.2L291 445.9L291.5 446.1L292 445.5L292.5 445.5L293 446.2L294 445.5L294.5 445.7L295 446.7L303 446.8L310 446.9L311 446.2L312 446.1L313 446.8L314 446.3L314.5 446.3L315 446.9L315.5 446.3L316.5 446.3L317.5 446.5L318 446.1L318.5 446.1L319.5 446.6L321 446.3L322 446.7L324 446.2L325 446.9L325.5 446.3L327 446.2L327.5 446.6L329 445.9L330 446.5L330.5 446.1L331.5 446.2L332 446.9L332.5 446.2L333 446L334 446.8L335 446.1L336.5 446.6L337.5 446L338.5 446.6L339 446L339.5 446.1L340 446.9L340.5 446.2L341 446.2L341.5 446.6L343.5 446.3L344.5 446.8L345.5 446L347.5 446.5L348 446.1L349 446.3L349.5 446.8L350.5 446L351 446L351.5 446.5L352.5 446L353.5 446.6L354 446L354.5 446L355 446.8L356.5 446.1L357.5 446.6L358.5 446L359.5 446.5L360.5 445.9L361.5 446.7L363 446.2L364 446.7L365 446L366 446.2L366.5 446.6L368 446.1L369 446.7L369.5 446.2L370 446.2L370.5 446.6L372.5 446.1L373.5 446.6L374 446.2L375 446.4L375.5 446.9L376.5 446.2L377.5 446.4L378 446.9L379 446.1L380.5 446.8L381 446.1L381.5 446.1L382 446.9L382.5 446.2L383.5 446L384 446.7L384.5 446.2L385 446.1L385.5 446.7L387 446.1L388 446.8L389 446.1L389.5 446L390.5 446.9L391 446.2L391.5 446.2L392 446.6L393.5 446.2L394 446.7L395 446L396 446.2L396.5 446.7L398 446.2L399 446.7L400.5 446.2L401.5 446.7L402.5 445.9L403.5 446.7L405 446.2L406 446.6L407.5 446.1L408.5 446.5L409.5 446.1L410.5 446.7L411.5 446.1L412 446.2L412.5 446.7L413 446.1L413.5 446L414 446.5L416 446.2L417 446.9L418 446.2L419 446.3L419.5 446.8L420 446.1L421 445.9L422 446.5L423 445.9L424.5 446.7L425.5 446.2L427 446.8L428 446.1L429 446.1L429.5 446.4L430.5 445.9L431.5 446.6L432 446L432.5 446.1L433 446.8L433.5 446.2L434.5 446.2L435 446.6L436 446L437.5 446.7L439 446.1L440 446.6L441.5 446.2L442 446.5L444 446.1L444.5 446.3L445 446.9L445.5 446.3L447.5 446.4L448 446.9L448.5 446.2L449 446L450 446.6L451.5 446.3L452 446.8L453 446.1L455 446.8L455.5 446.2L456.5 446.1L457.5 446.6L459 446.1L460 446.9V447.1Z" fill="#4a7cbd"/><rect x="271.00" y="446.70" width="189.20" height="0.75" fill="#4a7cbd" opacity="0.9"/><path d="M271.0 457.3L271 457.1L279 457.1L284 457.2L284.5 455.7L285 455.6L285.5 449.3L286.5 449.2L287 449.5L287.5 452.4L288 452.4L288.5 449.9L289 449.2L289.5 449.2L290.5 452.8L291 449.2L291.5 450.2L292 452.6L292.5 449.2L293 455.8L293.5 455.8L294 457.1L302 457L310 457.1L318 457L321.5 457L322.5 456.3L324 457L332 457.1L340 457.1L348 457L356 457L364 456.9L372 457L380 457L388 457L396 457L404 457L412 457L420 457L428 457L436 457L444 456.9L445.5 456.2L446.5 457.1L448 457L449 452.1L449.5 450.8L450.5 455.5L451 457L454 456.9L455 454.4L455.5 454.3L456.5 456.8L460 457.1V457.3Z" fill="#17a04b"/><rect x="271.00" y="456.85" width="189.20" height="0.75" fill="#17a04b" opacity="0.55"/><path d="M271.0 467.4L271 467.2L279 467.2L285 467L285.5 465.9L286 465.6L286.5 465.9L287 467L287.5 466.1L288 465.7L288.5 465.7L289 466.1L289.5 466.9L290.5 466L292 465.9L292.5 466.3L293 467.1L301 467.3L309 467.1L317 467.1L325 467.2L333 467.1L341 467.2L349 467.1L357 467.1L365 467.2L373 467.1L381 467.1L389 467.2L397 467.1L405 467.1L413 467.2L421 467.2L429 467.1L437 467.2L445 467.1L448.5 467L449.5 465.2L450.5 467.1L454 467.2L454.5 466.9L455 465.9L455.5 465.3L456.5 467.2L460 467.2V467.4Z" fill="#8cc88c"/><rect x="271.00" y="467.00" width="189.20" height="0.75" fill="#8cc88c" opacity="0.4"/><path d="M271.0 477.6L271 477.4L279 477.3L283 477.4L284 477.2L284.5 475.2L285.5 473L286 472.6L287 474.3L287.5 470.9L288 469.6L288.5 469.7L289 470.8L289.5 474.8L290 471.5L290.5 469.5L291 469.5L291.5 469.9L292 472L292.5 476L293 471.2L293.5 470.9L294.5 473.7L295 476.3L295.5 474L296 477.1L304 477.4L305 477.3L306 476.2L306.5 476.2L307 477.2L307.5 476L308.5 475.5L309 475.8L309.5 477.1L310 474.8L310.5 474.3L311 475.3L311.5 475.3L312 474L312.5 474L313 474.7L313.5 476.9L314 474.5L314.5 474L315 474.1L315.5 476.3L316 474.7L316.5 473.9L317 474L317.5 474.4L318 475.3L318.5 475.5L319 473.6L319.5 474.3L320 476L320.5 474.2L321 474.3L321.5 476.2L322 475.3L322.5 475.1L323 475.8L323.5 476.9L324 476.2L325 476.1L326 477.3L334 477.4L341 477.3L342 476.9L343.5 471.7L344 471.9L344.5 474L345.5 469.5L346 469.5L346.5 474.2L347 470.4L347.5 469.5L348 469.5L348.5 471.7L349 472.2L349.5 469.6L350 471.6L350.5 474.8L351 473.8L351.5 474.8L352 477L360 477.3L365 477.3L365.5 476.4L366 476.1L366.5 476.1L367.5 476.9L368.5 476.2L369.5 476.6L370 477.2L371 476.4L372.5 477.1L374 476.4L375 477L376 476.4L377 476.6L377.5 477.3L378 476.6L379 476.7L379.5 476.9L380 476.2L380.5 476L381.5 476.8L382 476.3L383.5 476.8L384 476L384.5 476.2L385 477.2L385.5 476.5L386.5 476.4L387.5 477.2L388.5 476.3L389.5 476.6L390 477.2L398 477.3L406 477.3L414 477.4L422 477.3L430 477.4L438 477.2L438.5 476.4L439 475.9L440 476.3L440.5 475.1L441 475.4L441.5 476.2L442 473.9L442.5 473.2L443 473.8L443.5 475.3L444 475L444.5 473.6L445 472.6L445.5 472.4L446 473.6L446.5 476.4L447 473.4L447.5 472.7L448 472.8L448.5 473.5L449 474.9L449.5 475.6L450 474.1L450.5 473.5L451 473.6L451.5 474.5L452 475.9L452.5 475.5L453 474.6L454 475.4L454.5 476.5L455 475.9L455.5 476.1L456 477.3L460 477.4V477.6Z" fill="#5b5a12"/><rect x="271.00" y="477.15" width="189.20" height="0.75" fill="#5b5a12" opacity="0.85"/><path d="M271.0 487.8L271 487.5L279 487.6L282 487.4L282.5 486.3L283 486.3L284.5 483.9L285 484.4L285.5 484.3L286 483.3L286.5 481.7L287.5 479.6L288 479.7L289 482.2L289.5 482.1L290 481.5L290.5 480.2L291.5 479.8L292 480.3L292.5 482.8L293 483.6L293.5 483.9L294 483.2L294.5 483.2L295.5 484.1L296 484.9L296.5 484.8L297 485.3L297.5 486.1L298 485.7L298.5 484.5L299 485L299.5 486.8L300 485.3L300.5 484.5L301 484.8L301.5 487.2L302 485.2L302.5 484.7L303 485L304 486.4L304.5 485.1L305 485.9L307 485.6L308 484.5L308.5 484.3L309.5 485.1L310 484.9L310.5 484L311 483.5L311.5 483.8L312 484.9L312.5 484.7L313.5 483.2L314 483.3L315 484.3L315.5 484L316 482.8L316.5 482.4L317 482.9L317.5 484.1L318 484.5L318.5 484.4L319 483.6L319.5 483.4L320.5 484.4L321 484.4L321.5 483.8L322 482.7L322.5 482.7L323.5 484.8L324.5 485L325 484.3L325.5 484.4L326.5 485.5L327 485.6L327.5 485.1L328.5 485.2L329 486L329.5 486.2L330.5 485.8L332.5 486.6L333 487.6L337 487.5L337.5 485.8L338 485.8L339 484.2L339.5 484.3L340 484.8L341 484.2L342.5 481.3L343 481.5L343.5 482.9L344 482.5L345 479.8L345.5 480L346 481.7L346.5 481.6L347 479.6L347.5 479.6L348 480.2L348.5 481.4L349.5 479.6L350 479.6L351.5 481.9L352 480.3L352.5 479.8L353.5 483.7L354 483.9L354.5 482.9L355.5 485.2L356.5 484.9L357 486.1L358.5 485.8L359 486.2L359.5 487.4L360 486L360.5 485.7L361 486.3L361.5 486.3L362 485.4L362.5 485.2L363 485.7L363.5 486.8L364.5 485.6L365 485.7L366 487L366.5 486L367 485.8L368 486.1L368.5 486.7L369.5 485.4L370 485.8L370.5 487.4L371 486.2L372 485.6L372.5 485.7L373 486.4L373.5 486.3L374 485.5L374.5 485.6L375 486.5L376 485.4L376.5 485.5L377 486.7L377.5 485.5L378 485.1L378.5 486.1L379 486.3L379.5 485.6L380 485.6L380.5 486.1L381 487.1L381.5 485.9L382 485.6L382.5 486.3L383 486.6L383.5 485.9L384.5 485.6L385.5 486.8L386 485.7L386.5 485.4L387 485.6L387.5 486.1L388 487L388.5 485.9L389 485.5L390 486L390.5 486.9L391 486L391.5 485.9L392.5 486.6L393 485.7L394 485.5L394.5 486L395 487.4L403 487.4L411 487.5L413.5 487.1L415.5 485.8L416.5 486.3L417 486.2L418 484.6L418.5 484.5L419 484.7L420 485.9L420.5 485L421 484.6L421.5 484.9L422 485.8L422.5 486.3L423 485.6L424 485.4L425 486.7L426 486.2L427 487.2L428 486.9L429 485.9L429.5 485.9L430.5 486.6L431.5 485.1L432 484.7L432.5 484.7L433 485.7L433.5 485.3L434 484L434.5 484L435.5 485.6L436 484.6L436.5 484L437 484.1L437.5 485.3L438 484.7L438.5 483.4L439 482.7L439.5 483L440 484.7L440.5 484.7L441 482.8L441.5 482.5L442 483.3L442.5 484.9L443 484.7L443.5 482.7L444 482L444.5 482.3L445 483.5L445.5 485.1L446 484.6L446.5 483.1L447 482.7L447.5 483.7L448 485.5L448.5 485.5L449 484.6L450 484.3L450.5 484.4L452 486.3L453.5 485.7L456 487L456.5 487L457 487.5L460 487.4V487.8Z" fill="#bccf2c"/><rect x="271.00" y="487.30" width="189.20" height="0.75" fill="#bccf2c" opacity="0.55"/><path d="M271.0 497.9L271 497.6L279 497.6L286 497.7L286.5 493.9L287 490.7L287.5 492.1L288 495.6L288.5 495.8L289 495.2L289.5 495.3L290 496.3L290.5 496.3L291 495.7L291.5 495.8L292 497L293 495.7L294 495.4L294.5 496L295 497.3L295.5 497.3L296 497.7L304 497.8L305.5 496.8L306.5 497.5L309 497.7L310.5 496.9L311.5 497.7L319.5 497.6L327.5 497.6L335.5 497.6L343.5 497.7L345.5 497.6L346.5 495.6L347.5 497.5L355.5 497.7L363.5 497.7L371.5 497.6L379.5 497.6L387.5 497.7L389 497.7L389.5 497.3L390 496.3L390.5 495.7L391.5 497.6L399.5 497.6L406.5 497.7L407.5 496.8L408.5 497.5L416.5 497.6L424.5 497.7L432.5 497.7L440.5 497.6L448.5 497.6L449.5 494.8L450 495.4L450.5 496.9L451 497.5L454.5 497.6L455.5 495.7L456.5 497.5L460 497.5V497.9Z" fill="#7c1a7f"/><rect x="271.00" y="497.45" width="189.20" height="0.75" fill="#7c1a7f" opacity="0.85"/><path d="M271.0 508.1L271 507.7L279 507.8L285.5 507.8L286 507.4L286.5 506.4L287 506L288 507.8L296 507.8L304 507.8L312 507.8L320 507.8L328 507.7L336 507.8L344 507.8L352 507.9L360 507.8L368 507.8L376 507.9L384 507.9L389.5 507.7L390.5 507L391.5 507.7L399.5 507.7L407.5 507.7L415.5 507.7L423.5 507.8L431.5 507.7L439.5 507.9L447.5 507.7L448.5 507.8L449.5 507L451 507.8L454.5 507.8L455.5 507L456.5 507.7L460 507.7V508.1Z" fill="#b48cc6"/><rect x="271.00" y="507.60" width="189.20" height="0.75" fill="#b48cc6" opacity="0.45"/><path d="M271.0 518.2L271 518L279 517.9L285 517.9L285.5 517L286.5 513.6L287 512.8L288 516L288.5 518L289 518L289.5 517.5L290 516.5L290.5 516.1L291.5 517.9L292.5 517.6L293 516.6L293.5 516.1L294.5 518L302.5 517.8L308.5 518L309 517.6L309.5 515.4L310 513.7L310.5 515.3L311 517.4L311.5 517.9L319.5 517.9L320.5 517.1L321.5 517.8L329.5 517.9L337.5 517.9L345.5 518L353.5 517.9L361.5 517.9L369.5 518L374 518L375 515.2L375.5 515.6L376 517L376.5 518L384.5 517.9L392.5 518L400.5 517.9L408.5 518L416.5 517.9L424.5 518L432.5 518L440.5 517.9L448 517.9L448.5 517.5L449 516.5L449.5 516.2L450.5 517.9L454.5 517.7L455 517L455.5 516.6L456.5 517.9L460 518V518.2Z" fill="#ea7a22"/><rect x="271.00" y="517.75" width="189.20" height="0.75" fill="#ea7a22" opacity="0.7"/><path d="M271.0 528.4L271 528.2L279 528L285.5 528.1L288 521.9L288.5 522.1L290 525.7L290.5 527.2L291 528L292 528.1L292.5 527.7L293 526.2L293.5 525L294.5 527.9L302.5 528.1L308.5 528.1L309 527.1L309.5 524.5L310 522.9L310.5 525.1L311 528L315 528.1L315.5 527.6L316.5 527.5L317 527.8L318 527.5L319 527.8L319.5 527.4L320 528L328 528.1L336 528L344 528.2L352 528.1L354 528L354.5 527.2L355 525.7L355.5 525.3L356.5 528L364.5 528L372.5 528.1L374 528.1L375 523.3L375.5 524.1L376 526.6L376.5 528.1L382 528L382.5 527.5L383 526.6L383.5 526.4L384.5 528.1L392.5 528.1L400.5 528L408.5 528.1L416.5 528.1L424.5 528.1L425.5 527.3L426.5 528L434.5 528.1L442.5 528.1L448 528.2L448.5 527.6L449 526.6L449.5 526.4L450.5 528L454 528.1L454.5 527.6L455 526.6L455.5 526.3L456.5 528.1L460 528V528.4Z" fill="#eb9a2a"/><rect x="271.00" y="527.90" width="189.20" height="0.75" fill="#eb9a2a" opacity="0.45"/><rect x="271.00" y="538.05" width="189.20" height="0.6" fill="#4a4a88" opacity="1"/><rect x="32.70" y="573.10" width="202.30" height="8.90" fill="#f7f7f8"/><text x="33.00" y="577.40" font-size="3.5" fill="#555">[0 - 170]</text><rect x="32.70" y="583.20" width="202.30" height="8.90" fill="#f7f7f8"/><text x="33.00" y="587.50" font-size="3.5" fill="#555">[0 - 170]</text><rect x="32.70" y="593.30" width="202.30" height="8.90" fill="#f7f7f8"/><text x="33.00" y="597.60" font-size="3.5" fill="#555">[0 - 170]</text><rect x="32.70" y="603.40" width="202.30" height="8.90" fill="#f7f7f8"/><text x="33.00" y="607.70" font-size="3.5" fill="#555">[0 - 170]</text><rect x="32.70" y="613.50" width="202.30" height="8.90" fill="#f7f7f8"/><text x="33.00" y="617.80" font-size="3.5" fill="#555">[0 - 170]</text><rect x="32.70" y="623.60" width="202.30" height="8.90" fill="#f7f7f8"/><text x="33.00" y="627.90" font-size="3.5" fill="#555">[0 - 170]</text><rect x="32.70" y="633.70" width="202.30" height="8.90" fill="#f7f7f8"/><text x="33.00" y="638.00" font-size="3.5" fill="#555">[0 - 170]</text><rect x="32.70" y="643.80" width="202.30" height="8.90" fill="#f7f7f8"/><text x="33.00" y="648.10" font-size="3.5" fill="#555">[0 - 170]</text><rect x="32.70" y="653.90" width="202.30" height="8.90" fill="#f7f7f8"/><text x="33.00" y="658.20" font-size="3.5" fill="#555">[0 - 170]</text><rect x="32.70" y="664.00" width="202.30" height="8.90" fill="#f7f7f8"/><text x="33.00" y="668.30" font-size="3.5" fill="#555">[0 - 170]</text><rect x="32.70" y="674.10" width="202.30" height="8.90" fill="#f7f7f8"/><text x="33.00" y="678.40" font-size="3.5" fill="#555">[0 - 170]</text><rect x="32.70" y="684.20" width="202.30" height="8.90" fill="#f7f7f8"/><text x="33.00" y="688.50" font-size="3.5" fill="#555">[0 - 170]</text><rect x="32.70" y="694.30" width="202.30" height="8.90" fill="#f7f7f8"/><text x="33.00" y="698.60" font-size="3.5" fill="#555">[0 - 170]</text><path d="M32.7 582.0L32.7 581.6L40.7 581.8L48.7 581.6L54.2 581.7L55.2 581.1L56.2 580L58.2 579.9L59.2 580.4L60.7 581.7L65.2 581.9L65.7 580L66.7 579.8L68.2 578.7L69.7 578.4L71.7 580L72.2 580L72.7 581.8L76.2 581.7L76.7 580.7L77.7 577.3L78.2 576.7L79.7 581.7L87.7 581.7L95.7 581.8L103.7 581.7L106.2 581.7L106.7 577.2L107.2 577L107.7 575.4L108.2 574.2L110.7 573.9L111.2 574.1L111.7 574.9L112.2 576.2L112.7 577.9L113.2 577.9L113.7 581.3L114.7 578.4L115.2 577.5L116.2 580.1L116.7 581.8L117.2 581.7L117.7 577.6L118.2 577.6L118.7 574.9L119.2 573.9L121.2 573.9L122.2 577.6L122.7 575.2L123.2 573.9L123.7 573.9L124.2 574.7L124.7 577L125.2 578.3L125.7 581.8L133.7 581.7L141.7 581.7L149.7 581.9L157.7 581.7L165.7 581.7L173.7 581.6L176.2 581.8L177.2 577L177.7 575.4L178.2 577.7L178.7 580.3L179.2 581.7L187.2 581.7L195.2 581.7L203.2 581.8L211.2 581.6L219.2 581.8L227.2 581.7L228.2 581.7L229.2 576.2L229.7 574.2L230.2 576.8L230.7 579.9L231.2 581.7L234.7 581.6V582.0Z" fill="#cf1b3d"/><rect x="32.70" y="581.55" width="202.30" height="0.75" fill="#cf1b3d" opacity="0.85"/><path d="M32.7 592.1L32.7 591.8L40.7 591.8L48.7 591.7L56.7 591.8L57.7 591.6L58.2 591.1L58.7 591.2L59.2 591.7L67.2 591.8L68.2 591.1L68.7 591.2L69.2 591.7L77.2 591.9L77.7 591.8L78.7 591.1L86.7 591.8L94.7 591.8L102.7 591.8L107.2 591.8L109.7 587.8L110.2 587.9L112.2 591.3L112.7 591.8L117.2 591.8L117.7 591.1L120.2 590.5L121.2 591.1L123.7 590.5L125.2 591.2L125.7 591.8L133.7 591.8L141.7 591.8L149.7 591.9L157.7 591.8L165.7 591.8L173.7 591.9L176.2 591.8L177.2 589.2L177.7 589.2L178.7 591.8L186.7 591.8L194.7 591.8L202.7 591.9L210.7 591.8L218.7 591.8L226.7 591.8L228.2 591.8L229.2 589.2L229.7 589.2L230.7 591.8L234.7 592V592.1Z" fill="#f2b64f"/><rect x="32.70" y="591.65" width="202.30" height="0.75" fill="#f2b64f" opacity="0.4"/><path d="M32.7 602.2L32.7 602L40.7 602L48.7 601.9L56.7 602.1L64.7 601.9L66.2 601.9L66.7 601.3L67.2 601.3L68.2 600.1L71.2 600.2L72.7 601.9L77.2 601.8L77.7 601.4L81.2 600.3L83.2 601.4L83.7 602.1L91.7 601.9L99.7 601.9L107.7 601.9L115.2 601.9L115.7 600.8L116.2 600.7L116.7 599.7L117.7 598.8L119.2 598.8L119.7 599.3L120.2 600.5L120.7 600.6L121.2 599.7L122.2 598.9L123.7 598.6L124.2 599.2L124.7 600.4L125.2 600.8L125.7 601.9L133.7 602L141.7 601.8L149.7 601.9L157.7 601.9L165.7 601.9L173.7 601.9L176.7 601.8L177.7 601.1L178.7 601.9L186.7 602L194.7 601.9L202.7 602L210.7 602L218.7 601.9L226.7 602L228.7 601.7L229.7 601.1L230.7 601.9L234.7 602V602.2Z" fill="#1b62a2"/><rect x="32.70" y="601.75" width="202.30" height="0.75" fill="#1b62a2" opacity="0.9"/><path d="M32.7 612.3L32.7 611.9L40.7 611.8L48.7 611.6L56.7 611.7L64.7 611.9L72.7 611.6L80.7 611.8L88.7 611.8L96.7 611.6L104.2 611.8L112.2 611.9L120.2 611.7L128.2 611.6L136.2 611.9L144.2 611.7L152.2 611.9L160.2 611.7L168.2 611.8L176.2 611.9L184.2 611.7L192.2 611.6L200.2 611.8L208.2 611.9L216.2 611.5L224.2 611.7L232.2 611.8L234.2 611.7L234.7 611.9V612.3Z" fill="#4a7cbd"/><rect x="32.70" y="611.85" width="202.30" height="0.75" fill="#4a7cbd" opacity="0.9"/><path d="M32.7 622.4L32.7 622.1L34.7 622.1L35.7 621.3L36.7 622L44.7 622.2L49.2 622.2L50.2 621.5L50.7 621.4L51.7 622.1L56.2 622L56.7 621.3L58.2 616.5L58.7 615.8L60.2 620.3L60.7 622.2L66.2 622.1L66.7 621.4L67.2 621.2L67.7 620.3L70.7 620L71.2 620.3L72.7 622.1L76.2 622.1L77.7 615.2L78.2 615.5L79.2 620.2L79.7 622.2L87.7 622.1L95.7 622.2L103.7 622L104.2 622.1L104.7 618.1L105.2 617.9L105.7 616.6L106.2 615L106.7 614.3L109.7 614.4L110.7 615.9L111.7 618.1L112.2 618.1L112.7 621.2L113.2 620.3L113.7 620.7L114.2 621.7L114.7 621.3L116.2 618.3L116.7 618.2L117.2 619.2L117.7 619.4L118.2 619.4L118.7 616.7L119.2 615L119.7 614.4L122.7 614.3L123.7 615.7L124.2 616.9L124.7 618.9L125.2 619.4L125.7 622.1L133.7 622L141.7 622.1L149.7 622.2L157.7 622.2L165.7 622.1L173.7 622.1L176.2 622.1L176.7 619.3L177.2 616.9L177.7 616.2L178.2 618.5L178.7 621.3L179.2 622.2L187.2 622.2L195.2 622.2L203.2 622.2L211.2 622.2L219.2 622.1L227.2 622.1L228.2 622L228.7 620.1L229.2 617.5L229.7 615.7L230.7 620.5L231.2 622.1L234.7 622.1V622.4Z" fill="#17a04b"/><rect x="32.70" y="621.95" width="202.30" height="0.75" fill="#17a04b" opacity="0.55"/><path d="M32.7 632.5L32.7 632.3L40.7 632.1L48.7 632.3L56.2 632.2L57.2 630.4L57.7 630.8L58.2 631.8L58.7 632.2L66.2 632.2L66.7 631.5L70.7 631L72.2 631.5L72.7 632.3L76.2 632.3L76.7 631.3L77.7 627.9L78.2 627.1L79.7 632.1L87.7 632.3L95.7 632.1L103.7 632.2L104.2 632.2L104.7 631.6L105.2 631.5L106.2 630.3L107.7 630.1L109.2 631.5L109.7 630.4L110.2 629.7L110.7 629.4L111.2 629.7L112.7 632.2L114.2 632.3L114.7 631.1L115.7 630.8L116.7 630L119.7 630.5L121.2 630.9L123.2 629.3L123.7 629.4L124.7 630.9L125.2 630.9L125.7 632.3L133.7 632.2L141.7 632.2L149.7 632.2L157.7 632.2L165.7 632.3L173.7 632.2L176.2 632.2L177.2 628.7L177.7 628.5L178.7 632L179.2 632.3L187.2 632.2L195.2 632.3L203.2 632.2L211.2 632.3L219.2 632.3L227.2 632.2L228.2 632.1L229.2 629L229.7 628.3L230.7 631.6L231.2 632.3L234.7 632.2V632.5Z" fill="#8cc88c"/><rect x="32.70" y="632.05" width="202.30" height="0.75" fill="#8cc88c" opacity="0.4"/><path d="M32.7 642.6L32.7 642.3L40.7 642.3L48.7 642.3L56.7 642.3L59.2 642.3L59.7 640.9L60.2 640.9L63.2 639.7L64.7 640.8L66.2 640.7L66.7 639.6L68.2 637.5L70.7 639L71.7 640L72.2 639.7L73.2 638.4L74.2 637.9L75.2 638.7L75.7 639.7L76.2 640L76.7 639.8L78.2 637.7L79.7 640.2L80.2 640.2L80.7 641.4L83.2 640.9L84.7 641.8L85.2 641.8L85.7 642.3L93.7 642.3L101.7 642.4L108.2 642.1L110.2 641.5L116.2 642.3L116.7 638.7L117.2 637.9L117.7 634.5L119.2 634.5L119.7 634.7L120.7 638.9L121.2 636.7L121.7 635L122.2 634.5L124.2 634.5L124.7 637.7L125.2 638.9L125.7 642.2L133.7 642.4L141.7 642.4L149.7 642.4L157.7 642.3L165.7 642.3L173.7 642.3L176.2 642.3L177.2 637.7L177.7 635.9L178.7 640.8L179.2 642.5L187.2 642.3L195.2 642.4L203.2 642.3L211.2 642.4L219.2 642.4L227.2 642.4L228.2 642.5L229.2 637.5L229.7 636.1L230.2 638.3L230.7 641L231.2 642.3L234.7 642.3V642.6Z" fill="#5b5a12"/><rect x="32.70" y="642.15" width="202.30" height="0.75" fill="#5b5a12" opacity="0.85"/><path d="M32.7 652.7L32.7 652.4L40.7 652.4L48.7 652.4L54.2 652.4L54.7 650.5L55.2 650.5L56.2 649.1L57.7 648.3L58.2 648.3L59.2 650.4L59.7 650.4L62.2 647.6L63.2 648.3L64.2 648.5L64.7 649.1L65.2 650.1L66.2 649.9L67.2 648.5L68.7 647.6L69.7 648.3L70.2 649.4L70.7 650.1L71.2 650.2L73.7 647.9L74.7 648.3L76.2 650.1L76.7 650.5L77.2 650.3L78.2 649.1L80.7 649.3L81.7 650.5L82.2 650.5L83.7 649L84.7 648.8L86.7 650L87.2 649.7L87.7 648.5L88.2 648.3L88.7 648.5L89.2 649.1L89.7 650.3L90.2 650.5L90.7 652.4L98.7 652.4L104.2 652.4L104.7 650.9L105.2 650.8L106.2 648.9L106.7 648.7L108.2 649.3L109.7 650.9L110.7 649.7L113.7 649L114.2 649.2L115.2 650.7L115.7 650.7L117.7 648.8L119.7 648.2L120.2 648.4L121.7 650.6L122.2 650.7L123.7 649.1L126.2 648.9L127.2 649.7L127.7 650.4L128.2 650.5L128.7 652.5L136.7 652.4L144.7 652.5L152.7 652.4L160.7 652.5L168.7 652.4L176.2 652.4L177.2 649L177.7 648.6L178.7 652L179.2 652.5L187.2 652.4L195.2 652.4L203.2 652.5L211.2 652.4L219.2 652.4L227.2 652.4L228.2 652.4L229.2 649.1L229.7 648.6L230.7 652L231.2 652.4L234.7 652.3V652.7Z" fill="#bccf2c"/><rect x="32.70" y="652.25" width="202.30" height="0.75" fill="#bccf2c" opacity="0.55"/><path d="M32.7 662.8L32.7 662.5L40.7 662.4L48.7 662.6L56.7 662.6L64.7 662.6L66.2 662.5L66.7 661.5L67.7 661.2L68.7 660.5L70.7 660.9L71.7 661.5L72.2 661.5L72.7 662.5L77.2 662.5L77.7 662.1L78.2 661.1L78.7 660.8L79.7 662.5L87.7 662.5L95.7 662.6L103.7 662.5L104.2 662.5L104.7 662L109.7 661L112.2 662L113.2 661.7L114.2 660.5L116.2 659.9L117.2 660.5L117.7 661.4L118.7 662.5L119.2 662.5L119.7 661.6L120.2 661.3L120.7 660.2L122.2 658.5L122.7 658.5L124.2 660L124.7 661L125.7 662.5L133.7 662.5L141.7 662.6L149.7 662.5L157.7 662.5L165.7 662.6L173.7 662.6L176.2 662.5L176.7 660L177.2 657.1L177.7 655L178.2 657.6L178.7 660.6L179.2 662.5L187.2 662.5L195.2 662.5L203.2 662.5L211.2 662.6L219.2 662.6L227.2 662.5L228.2 662.5L228.7 659L229.2 656.2L229.7 655.8L230.2 658.5L230.7 661.8L231.2 662.5L234.7 662.5V662.8Z" fill="#7c1a7f"/><rect x="32.70" y="662.35" width="202.30" height="0.75" fill="#7c1a7f" opacity="0.85"/><path d="M32.7 672.9L32.7 672.5L40.7 672.7L48.7 672.7L56.7 672.6L64.7 672.6L66.2 672.6L66.7 672.3L67.2 671.3L67.7 670.8L68.7 672.6L71.2 672.7L72.7 671.9L73.7 672.6L77.7 672.5L78.2 672L78.7 671.9L79.7 672.5L87.7 672.6L95.7 672.7L103.7 672.7L106.2 672.6L106.7 672.2L110.2 671.3L111.7 672.2L112.2 672.2L112.7 672.6L117.2 672.6L117.7 672.3L122.7 671.3L124.7 672.3L125.2 672.3L125.7 672.6L133.7 672.6L141.7 672.6L149.7 672.7L157.7 672.7L165.7 672.5L173.7 672.6L176.2 672.6L176.7 670.2L177.2 668.2L177.7 667.9L178.2 669.8L178.7 672.2L179.2 672.7L187.2 672.6L195.2 672.6L203.2 672.6L211.2 672.7L219.2 672.7L227.2 672.6L228.2 672.6L229.2 668.5L229.7 667.7L230.2 669.6L230.7 671.8L231.2 672.5L234.7 672.7V672.9Z" fill="#b48cc6"/><rect x="32.70" y="672.45" width="202.30" height="0.75" fill="#b48cc6" opacity="0.45"/><path d="M32.7 683.0L32.7 682.7L40.7 682.7L48.7 682.7L56.7 682.7L64.7 682.7L72.7 682.8L80.7 682.8L88.7 682.8L96.7 682.7L104.7 682.8L109.2 682.6L109.7 682.1L110.2 681.1L110.7 681.1L111.7 682.7L119.7 682.5L123.7 682.1L126.2 682.8L134.2 682.7L142.2 682.8L150.2 682.6L158.2 682.7L166.2 682.7L174.2 682.7L176.2 682.5L176.7 679.5L177.2 677.2L177.7 677.2L178.2 679.5L178.7 682.5L186.7 682.8L194.7 682.8L202.7 682.7L210.7 682.8L218.7 682.7L226.7 682.7L228.2 682.7L229.2 677.8L229.7 676.6L230.2 678.9L230.7 681.6L231.2 682.8L234.7 682.6V683.0Z" fill="#ea7a22"/><rect x="32.70" y="682.55" width="202.30" height="0.75" fill="#ea7a22" opacity="0.7"/><path d="M32.7 693.1L32.7 693L40.7 692.9L48.7 692.7L56.7 692.8L64.7 692.7L72.7 692.9L80.7 692.9L88.7 692.7L96.7 692.9L104.7 692.8L109.2 692.8L109.7 691.4L110.2 689.5L110.7 689.2L111.7 692.8L117.2 692.8L117.7 692.3L123.2 691.3L124.7 692.2L125.2 692.2L125.7 692.9L133.7 692.9L141.7 692.9L149.7 692.7L157.7 692.8L165.7 692.8L173.7 692.8L176.2 692.6L176.7 689.1L177.2 686.4L177.7 686.2L178.2 689L178.7 692.4L179.2 692.9L187.2 692.9L195.2 692.8L203.2 692.8L211.2 692.7L219.2 692.8L227.2 692.9L228.2 692.9L228.7 690.3L229.2 687.4L229.7 685.3L230.2 687.9L230.7 690.9L231.2 692.9L234.7 692.9V693.1Z" fill="#eb9a2a"/><rect x="32.70" y="692.65" width="202.30" height="0.75" fill="#eb9a2a" opacity="0.45"/><rect x="32.70" y="702.75" width="202.30" height="0.6" fill="#4a4a88" opacity="1"/><rect x="262.00" y="573.43" width="196.60" height="9.07" fill="#f7f7f8"/><text x="262.30" y="577.90" font-size="3.5" fill="#555">[0 - 170]</text><rect x="262.00" y="583.70" width="196.60" height="9.07" fill="#f7f7f8"/><text x="262.30" y="588.17" font-size="3.5" fill="#555">[0 - 170]</text><rect x="262.00" y="593.97" width="196.60" height="9.07" fill="#f7f7f8"/><text x="262.30" y="598.44" font-size="3.5" fill="#555">[0 - 170]</text><rect x="262.00" y="604.24" width="196.60" height="9.07" fill="#f7f7f8"/><text x="262.30" y="608.71" font-size="3.5" fill="#555">[0 - 170]</text><rect x="262.00" y="614.51" width="196.60" height="9.07" fill="#f7f7f8"/><text x="262.30" y="618.98" font-size="3.5" fill="#555">[0 - 170]</text><rect x="262.00" y="624.78" width="196.60" height="9.07" fill="#f7f7f8"/><text x="262.30" y="629.25" font-size="3.5" fill="#555">[0 - 170]</text><rect x="262.00" y="635.05" width="196.60" height="9.07" fill="#f7f7f8"/><text x="262.30" y="639.52" font-size="3.5" fill="#555">[0 - 170]</text><rect x="262.00" y="645.32" width="196.60" height="9.07" fill="#f7f7f8"/><text x="262.30" y="649.79" font-size="3.5" fill="#555">[0 - 170]</text><rect x="262.00" y="655.59" width="196.60" height="9.07" fill="#f7f7f8"/><text x="262.30" y="660.06" font-size="3.5" fill="#555">[0 - 170]</text><rect x="262.00" y="665.86" width="196.60" height="9.07" fill="#f7f7f8"/><text x="262.30" y="670.33" font-size="3.5" fill="#555">[0 - 170]</text><rect x="262.00" y="676.13" width="196.60" height="9.07" fill="#f7f7f8"/><text x="262.30" y="680.60" font-size="3.5" fill="#555">[0 - 170]</text><rect x="262.00" y="686.40" width="196.60" height="9.07" fill="#f7f7f8"/><text x="262.30" y="690.87" font-size="3.5" fill="#555">[0 - 170]</text><rect x="262.00" y="696.67" width="196.60" height="9.07" fill="#f7f7f8"/><text x="262.30" y="701.14" font-size="3.5" fill="#555">[0 - 170]</text><path d="M262.0 582.5L262 582.1L270 582.4L278 582.2L281.5 582.2L282.5 581.4L283.5 582.2L287.5 582.2L289 580.9L290.5 582.3L298.5 582.1L303.5 582.2L304 581.4L304.5 579.4L305 578.2L305.5 580L306 582.2L307 582.2L310.5 580.7L313.5 580.9L315 581.9L323 582.1L331 582.3L334 582.3L334.5 581.4L335 581.4L336.5 579.3L339 579.7L339.5 580.2L340 581.2L340.5 581.3L341 582.2L349 582.2L350 581.9L350.5 581.5L351.5 582.2L354.5 582.2L355.5 581.4L356.5 582.3L364.5 582.2L372.5 582.1L380.5 582.1L387 582.1L390 581.8L398 582.2L406 582.3L412 582.2L412.5 581.4L413 581.4L414.5 580.2L415.5 580.4L416.5 581.4L417 581.2L417.5 580.6L419 580.8L420 581.6L420.5 581.6L421 582.3L424.5 582.1L425.5 580.9L426.5 582.1L431 582.1L431.5 581L432.5 581L435 579.5L437.5 579.5L439.5 581L440.5 581L441 582.4L444.5 582.1L445.5 581.5L446.5 582.3L447.5 582.3L450 578.1L452 580.9L452.5 581.9L453 582.3L458.5 582.3V582.5Z" fill="#cf1b3d"/><rect x="262.00" y="582.05" width="196.60" height="0.75" fill="#cf1b3d" opacity="0.85"/><path d="M262.0 592.8L262 592.6L270 592.5L278 592.5L286 592.5L294 592.6L302 592.5L304.5 592.5L305.5 591.6L306.5 592.5L314.5 592.5L322.5 592.4L330.5 592.5L336.5 592.5L337.5 591.8L338 591.9L338.5 592.4L346.5 592.6L354.5 592.4L362.5 592.5L370.5 592.5L378.5 592.5L386.5 592.6L394.5 592.4L402.5 592.5L410.5 592.5L418.5 592.5L426.5 592.5L434.5 592.4L439.5 592.4L440.5 591.8L441.5 592.5L448.5 592.5L450 589.5L450.5 590L451.5 592.1L452 592.5L458.5 592.5V592.8Z" fill="#f2b64f"/><rect x="262.00" y="592.32" width="196.60" height="0.75" fill="#f2b64f" opacity="0.4"/><path d="M262.0 603.0L262 602.8L270 602.9L278 602.7L279 602.7L282 601.3L284 601.8L285 601.7L287 599.7L289.5 599.5L291 600.1L292 601.5L292.5 601.6L293 602.7L299 602.7L299.5 601.7L300 601.7L301.5 599.9L304.5 599.3L306.5 601.6L307.5 599.6L308 599.1L309.5 598.5L311 599.9L312 601.6L312.5 601.6L313 602.7L317.5 602.6L318.5 600.8L319.5 602.8L327.5 602.8L334 602.7L334.5 602.1L335 602.1L337.5 600.4L339.5 601.5L340 602.1L340.5 602.1L341 602.8L349 602.7L354.5 602.7L355.5 602L356.5 602.7L364.5 602.8L371.5 602.7L372.5 602L373.5 602.9L381.5 602.8L382 602.8L382.5 602.1L383.5 601.9L385.5 600.5L389 601.4L390.5 602.1L391 602.8L394 602.8L394.5 602.2L395.5 601.9L396.5 601.2L399 601.7L400.5 602.2L401 602.8L409 602.7L409.5 601.8L410.5 601.7L413 600.5L416.5 601.5L417 601.1L417.5 600.3L418.5 599.9L419.5 600.6L420 601.4L420.5 601.5L421 602.7L424.5 602.9L425.5 600.9L426 601.5L426.5 602.5L434.5 602.7L436.5 602.8L437.5 602L439.5 602.8L447.5 602.8L455.5 602.7L458.5 602.8V603.0Z" fill="#1b62a2"/><rect x="262.00" y="602.59" width="196.60" height="0.75" fill="#1b62a2" opacity="0.9"/><path d="M262.0 613.3L262 613.1L270 613L278 613.1L286 612.7L287 612.9L290.5 612.5L291.5 613L296 612.7L297 612.9L299.5 612.3L300.5 611.2L301 612.1L303.5 613L306 612.1L310 613L314 612.8L314.5 613L320 612.8L321 612.9L325 612.4L326.5 613L330 612.4L331 612.9L333.5 612.3L335 612.9L339 612.4L340 612.9L345 612.6L346 613L349.5 612.2L351.5 612.9L353.5 612.3L357 613L360 612.2L363.5 613L366 612.3L368 612.9L372.5 612.8L373 613L377 612.4L378.5 613L382 612.4L383.5 613L387 612.6L388 613L390 612.3L392 613L395.5 612.6L396.5 612.9L400.5 612.4L401.5 613L407.5 612.7L408.5 612.9L412 612.3L414.5 613L421 613L423.5 612.4L424.5 613L426.5 612.1L429 613L435 612.7L436 613L440.5 612.6L441.5 613L445.5 612.7L446.5 612.8L449 612.6L450 613L455.5 612.2L458.5 613V613.3Z" fill="#4a7cbd"/><rect x="262.00" y="612.86" width="196.60" height="0.75" fill="#4a7cbd" opacity="0.9"/><path d="M262.0 623.6L262 623.4L270 623.2L278 623.4L284.5 623.3L285.5 622.5L286.5 623.3L294.5 623.3L302.5 623.3L307 623.4L307.5 621.3L308.5 621.1L309.5 619.7L310.5 619.4L311.5 618.8L314.5 621.4L315 621.4L316.5 619.3L317 619.3L318 621.3L318.5 621.4L319 623.3L324 623.3L328 621.8L330 622.1L331 623L333 622.1L335 623L337 621.7L338.5 621.7L340 623L348 623.4L349 623.5L349.5 622.8L354 622L356.5 622.6L357 622.5L357.5 621.8L358 621.4L359 621.8L360 622.7L360.5 622.7L361 623.3L369 623.3L374 623.4L375.5 622.6L383.5 623.4L391.5 623.3L394.5 623.3L395.5 622.4L396.5 623.4L404.5 623.3L411 623.4L411.5 621.8L412.5 621.6L413.5 620.5L415 620.5L416.5 621.8L417 621.8L418.5 620.6L420 622.1L420.5 622.1L421 623.4L424 623.3L428.5 621.8L430.5 622.9L432 621.7L434 621.5L436 622.9L438 621.5L439 621.8L440 622.9L446 623.2L446.5 621.6L447 621.5L448 619.5L450.5 619L451 619.5L452 621.6L452.5 621.7L453 623.3L458.5 623.4V623.6Z" fill="#17a04b"/><rect x="262.00" y="623.13" width="196.60" height="0.75" fill="#17a04b" opacity="0.55"/><path d="M262.0 633.9L262 633.6L270 633.6L278 633.5L286 633.5L294 633.5L302 633.7L307 633.6L307.5 633.2L308 633.2L309.5 632L311 632.5L311.5 633L312 633.1L314 631.9L318.5 633.2L319 633.6L324 633.6L324.5 633.1L327 632L330 633.1L332.5 632L335.5 633L337 632.2L340.5 633.2L341 633.6L349 633.6L349.5 633L350.5 633L352.5 632.2L356 632.9L357.5 631.8L360.5 632.9L361 633.5L369 633.7L377 633.6L385 633.6L393 633.6L401 633.5L409 633.5L414 633.6L414.5 632.9L419 632.2L421 632.9L424.5 632.2L427 632.9L428.5 632.2L432 632.9L434 632.2L436 632.8L437.5 632L440 632.9L443 632.3L445.5 633L446 633.6L448.5 633.5L450 630.6L450.5 631.1L451.5 633.2L452 633.6L458.5 633.7V633.9Z" fill="#8cc88c"/><rect x="262.00" y="633.40" width="196.60" height="0.75" fill="#8cc88c" opacity="0.4"/><path d="M262.0 644.1L262 643.8L270 643.9L278 643.9L281 643.8L281.5 641.2L282 641L283 638.8L284.5 638.7L285 639.3L286 641.2L286.5 641.2L287 640L287.5 639.1L288.5 639.4L289 639.9L289.5 641L290 641.6L290.5 641.6L291 642.6L293.5 642.4L295 643.6L299 643.8L299.5 641L300 641L300.5 638.3L301 636.3L304 636L304.5 637.6L305 641L305.5 638.4L306 636.3L308 636L308.5 638.9L309 639.6L309.5 636L311.5 636L312 636.4L312.5 639.4L313 639.8L313.5 637L314 636L316.5 636L317 637.3L317.5 639.6L318 638.7L318.5 636L319.5 636L320 641.1L320.5 641.1L321 641.9L322 641.2L323.5 642.2L324 642.9L324.5 642.8L325 642L326 641.2L326.5 641.1L327 641.7L327.5 642.6L328 642.6L328.5 641.3L329 641L329.5 641.6L330 643L335.5 642.6L336 642.9L336.5 642.3L337 642.2L337.5 640.3L338 639.2L339 639.1L339.5 639.6L340 640.6L340.5 642.1L341 639.9L341.5 638.8L342 638.6L342.5 639.6L343 642.1L343.5 642.1L344 643.9L344.5 643.3L348 642.3L350.5 643.3L351 643.3L353 642.6L355 643.4L358 642.2L359.5 642.6L360.5 643.4L362 642.5L364 642.7L365 643.4L367.5 643.9L369.5 639.6L371 642.3L371.5 643.6L379.5 643.8L381 643.8L381.5 642.1L382 642.1L382.5 640.4L383 639.2L384.5 636.8L385 636.6L385.5 637.2L386.5 639.8L387 641.8L388 638.4L388.5 637.8L389 637.8L389.5 639.2L390 642.1L390.5 642.1L391 643.8L394 643.9L394.5 642.8L395 642.7L396 640.3L396.5 639.5L397 639.2L399 640.7L400 642.8L400.5 642.8L401 643.9L404 643.8L404.5 642.1L405 642.1L406 639.5L407.5 637.8L408 638.7L409 641.8L409.5 641.2L410.5 638.5L411 637.4L412 637L414 639L414.5 639.9L415 641.2L415.5 641.8L416 640L416.5 638.9L417.5 638L418.5 637.8L419 638.6L420 641.8L421 642L422.5 641.5L424 642.1L424.5 642.6L425 642.5L426 641.6L428 641.4L429 641.9L429.5 642.5L430.5 642.6L431 643.9L437.5 643.8L440 638.5L442 642.2L442.5 643.5L444 643.8L445 643.6L448.5 642.4L450 643L450.5 643.5L452 642.4L454 642.6L455 643.5L458.5 643.9V644.1Z" fill="#5b5a12"/><rect x="262.00" y="643.67" width="196.60" height="0.75" fill="#5b5a12" opacity="0.85"/><path d="M262.0 654.4L262 654L270 654L278 654.1L282 654L282.5 651.6L288 648.8L290.5 650.4L291.5 651.6L292.5 651.6L293 654.1L299 654.2L299.5 652.8L300 652.8L300.5 651.1L301 650.1L301.5 649.6L302 649.5L302.5 649.9L303 650.6L303.5 652.3L304 651.5L304.5 650L306 648.2L306.5 648L307.5 648.9L308 649.9L308.5 651.9L309 651.7L309.5 650.3L310 649.6L311 649.1L312 649.7L312.5 650.5L313 652.4L313.5 651.2L314 649.4L314.5 648.3L315 647.9L315.5 648.2L316.5 649.6L317.5 652.1L318 648.9L318.5 647.9L319 648.3L319.5 649.6L320 652.4L321.5 650.8L322.5 650.9L323.5 652.1L324.5 652L326 651.2L327 652L327.5 652.7L328 652.7L329 651.6L330 651L330.5 651.2L331 651.9L331.5 652.3L335.5 650.8L337.5 652.5L338 652.5L339.5 650.8L340 650.7L341.5 652.3L342 652.3L343 650.8L343.5 650.6L344 650.9L345 652.3L345.5 652.3L347 650.8L347.5 650.6L349.5 651.4L350 651.9L350.5 652.9L351 653L354.5 651.2L356.5 653L357 653.2L359.5 651.3L360.5 651.3L361.5 652.1L362.5 653.2L363 651.9L363.5 651.3L364 651.4L365 653.2L365.5 653.2L366 654.2L369 654.2L369.5 652.8L370.5 652.8L373 651.6L374.5 652.2L376 652.9L379 651.7L380.5 652.2L381.5 652.9L382.5 652.9L386 651.8L387 652.8L388 652.9L389.5 651.9L394.5 652.7L395 651.8L396 648L396.5 648.8L397.5 652.9L398 654.1L404 654.2L404.5 653.2L405 653.2L406.5 651.7L408 651.5L409.5 652.4L410 653L410.5 653.1L411.5 651.9L413 651.4L414.5 652.1L415 652.9L415.5 652.9L416.5 651.7L419.5 651.7L421.5 653.1L422 652.7L423 651.2L423.5 650.7L425 652.2L425.5 653.1L427 651.5L428 651.1L428.5 651.1L429 651.6L429.5 652.8L430 652.9L432.5 651.3L434.5 651.6L435.5 653L436 653.1L437 652L438.5 651.9L440 653.3L440.5 653.3L441.5 652.6L443.5 652.5L445 653.4L445.5 653.4L447 652.7L448 652.8L448.5 653.3L449.5 653.3L451 652.4L455.5 653.4L456 654.1L458.5 654.2V654.4Z" fill="#bccf2c"/><rect x="262.00" y="653.94" width="196.60" height="0.75" fill="#bccf2c" opacity="0.55"/><path d="M262.0 664.7L262 664.4L270 664.4L278 664.5L286 664.4L294 664.4L302 664.4L303.5 664.3L304 663.6L304.5 662.1L305 661.6L306 664.4L307.5 664.4L310 662.4L312.5 664.4L320.5 664.3L328.5 664.3L336.5 664.3L337.5 664L338 663L338.5 662.6L339.5 664.4L347.5 664.4L354.5 664.4L355.5 663.7L356 663.8L357 664.4L365 664.4L373 664.4L381 664.4L389 664.4L397 664.3L405 664.4L413 664.4L418 663.3L421 664.1L424.5 663.4L427.5 663.9L429.5 663L431.5 663.4L432.5 664L438.5 663.8L439.5 664L440.5 661.6L441 662.1L441.5 663.4L445 663.9L449 663.5L450.5 664L451 664.4L458.5 664.4V664.7Z" fill="#7c1a7f"/><rect x="262.00" y="664.21" width="196.60" height="0.75" fill="#7c1a7f" opacity="0.85"/><path d="M262.0 674.9L262 674.6L270 674.7L278 674.6L286 674.7L294 674.7L302 674.7L309 674.3L317 674.7L325 674.7L333 674.6L337.5 674.8L338.5 673.9L340 674.7L348 674.8L356 674.7L364 674.8L372 674.7L380 674.6L388 674.6L396 674.7L404 674.6L412 674.7L420 674.7L428 674.7L436 674.7L439 674.7L439.5 673.9L440 672.4L440.5 671.9L441.5 674.7L449.5 674.6L457.5 674.6L458.5 674.7V674.9Z" fill="#b48cc6"/><rect x="262.00" y="674.48" width="196.60" height="0.75" fill="#b48cc6" opacity="0.45"/><path d="M262.0 685.2L262 685L270 684.9L278 685L286 685L294 685L302 684.9L304.5 684.9L305.5 684.2L306.5 684.8L311.5 684.8L312 684.3L312.5 684.2L313.5 685L321.5 684.9L329.5 684.9L337.5 685L345.5 685L353.5 684.9L361.5 684.9L369.5 684.9L377.5 684.9L385.5 684.9L393.5 684.8L401.5 684.9L409.5 684.9L417.5 684.9L425.5 684.8L433.5 684.8L441.5 685L449.5 685L450.5 683.2L451 683.5L451.5 684.4L452 685L458.5 684.9V685.2Z" fill="#ea7a22"/><rect x="262.00" y="684.75" width="196.60" height="0.75" fill="#ea7a22" opacity="0.7"/><path d="M262.0 695.5L262 695.1L270 695.2L278 695.2L286 695.3L294 695.1L302 695.2L304 695.3L305.5 694.5L306.5 695.3L314.5 695.3L322.5 695.3L330.5 695.2L338 694.9L338.5 694.4L339.5 695.1L347.5 695.3L355.5 695.2L363.5 695.2L371.5 695.3L379.5 695.2L387.5 695.2L395.5 695.1L403.5 695.1L411.5 695.3L419.5 695.2L427.5 695.2L435.5 695.2L443.5 695.2L449 695.3L449.5 694.9L450.5 692L451.5 695L458.5 695.1V695.5Z" fill="#eb9a2a"/><rect x="262.00" y="695.02" width="196.60" height="0.75" fill="#eb9a2a" opacity="0.45"/><rect x="262.00" y="705.29" width="196.60" height="0.6" fill="#4a4a88" opacity="1"/><path d="M51.7 381.4H66 M68.1 379.9V382.9 M68.1 381.4H78" stroke="#2b2b86" stroke-width="0.8" fill="none"/><rect x="55" y="380" width="8.2" height="2.8" rx="1.4" fill="#2b2b86"/><rect x="76" y="380.4" width="2" height="2" fill="#2b2b86"/><path d="M80.3 378V384 M80.3 378H75.5 M76.8 377L75.3 378L76.8 379" stroke="#e0452b" stroke-width="0.6" fill="none"/><text transform="translate(89.40,383.62) scale(0.866,1)" font-size="6.20" fill="#e0452b">CXCR4</text><text transform="translate(343.00,384.93) scale(0.836,1)" font-size="6.80" fill="#e0452b">IL4R</text><path d="M360 382V378H367 M365.5 377L367 378L365.5 379" stroke="#e0452b" stroke-width="0.6" fill="none"/><path d="M362 381.5H388 M392 381.5H398" stroke="#2b2b86" stroke-width="0.6" fill="none"/><rect x="388" y="380" width="4" height="3" fill="#2b2b86"/><rect x="400" y="380" width="2" height="3" fill="#2b2b86"/><rect x="403" y="380" width="2" height="3" fill="#2b2b86"/><rect x="406" y="380" width="4" height="3" fill="#2b2b86"/><rect x="72.6" y="545" width="4.4" height="4" fill="#2b2b86"/><path d="M77 547H242" stroke="#2b2b86" stroke-width="0.7"/><path d="M83 545.6V548.4" stroke="#2b2b86" stroke-width="0.7"/><path d="M97 545.6V548.4" stroke="#2b2b86" stroke-width="0.7"/><path d="M111 545.6V548.4" stroke="#2b2b86" stroke-width="0.7"/><path d="M125 545.6V548.4" stroke="#2b2b86" stroke-width="0.7"/><path d="M139 545.6V548.4" stroke="#2b2b86" stroke-width="0.7"/><path d="M153 545.6V548.4" stroke="#2b2b86" stroke-width="0.7"/><path d="M167 545.6V548.4" stroke="#2b2b86" stroke-width="0.7"/><path d="M181 545.6V548.4" stroke="#2b2b86" stroke-width="0.7"/><path d="M195 545.6V548.4" stroke="#2b2b86" stroke-width="0.7"/><path d="M209 545.6V548.4" stroke="#2b2b86" stroke-width="0.7"/><path d="M223 545.6V548.4" stroke="#2b2b86" stroke-width="0.7"/><path d="M237 545.6V548.4" stroke="#2b2b86" stroke-width="0.7"/><rect x="241.7" y="543.2" width="1.2" height="6.8" fill="#2b2b86"/><path d="M241 543.6H236.5 M238 542.6L236.5 543.6L238 544.6" stroke="#e0452b" stroke-width="0.6" fill="none"/><text transform="translate(245.20,550.01) scale(0.891,1)" font-size="7.00" fill="#e0452b">BCL2</text><rect x="296" y="544.6" width="12.2" height="3" fill="#2b2b86"/><path d="M308 546.1H451" stroke="#2b2b86" stroke-width="0.7"/><path d="M325.5 544V548.4" stroke="#2b2b86" stroke-width="0.7"/><path d="M341.0 544V548.4" stroke="#2b2b86" stroke-width="0.7"/><path d="M345.4 544V548.4" stroke="#2b2b86" stroke-width="0.7"/><path d="M347.4 544V548.4" stroke="#2b2b86" stroke-width="0.7"/><path d="M402.5 544V548.4" stroke="#2b2b86" stroke-width="0.7"/><path d="M405.3 544V548.4" stroke="#2b2b86" stroke-width="0.7"/><path d="M456 543V549 M456 543H450.5 M452 542L450.5 543L452 544" stroke="#e0452b" stroke-width="0.6" fill="none"/><text transform="translate(459.40,551.00) scale(0.843,1)" font-size="6.70" fill="#e0452b">IKZF3</text><path d="M42.4 710H121.7" stroke="#2b2b86" stroke-width="0.55" stroke-dasharray="2.2 0.9"/><path d="M71.4 708.4V711.6" stroke="#2b2b86" stroke-width="0.7"/><path d="M77.3 708.4V711.6" stroke="#2b2b86" stroke-width="0.7"/><path d="M91.7 708.4V711.6" stroke="#2b2b86" stroke-width="0.7"/><path d="M101.0 708.4V711.6" stroke="#2b2b86" stroke-width="0.7"/><path d="M122.3 707V713 M122.3 707H115.8 M117.3 706L115.8 707L117.3 708" stroke="#e0452b" stroke-width="0.6" fill="none"/><text transform="translate(125.90,714.03) scale(0.811,1)" font-size="6.80" fill="#e0452b">PAX5</text><text transform="translate(288.20,714.33) scale(0.775,1)" font-size="7.20" fill="#e0452b">BLK</text><path d="M307 714V708.5H314 M312.5 707.5L314 708.5L312.5 709.5" stroke="#e0452b" stroke-width="0.6" fill="none"/><path d="M307 712.5H458" stroke="#2b2b86" stroke-width="0.5"/><path d="M320 711.8V713.2" stroke="#2b2b86" stroke-width="0.6"/><path d="M335 711.8V713.2" stroke="#2b2b86" stroke-width="0.6"/><path d="M350 711.8V713.2" stroke="#2b2b86" stroke-width="0.6"/><path d="M365 711.8V713.2" stroke="#2b2b86" stroke-width="0.6"/><path d="M380 711.8V713.2" stroke="#2b2b86" stroke-width="0.6"/><path d="M395 711.8V713.2" stroke="#2b2b86" stroke-width="0.6"/><rect x="407.0" y="711" width="1.0" height="3" fill="#2b2b86"/><rect x="412.0" y="711" width="1.5" height="3" fill="#2b2b86"/><rect x="416.0" y="711" width="2.0" height="3" fill="#2b2b86"/><rect x="420.0" y="711" width="1.0" height="3" fill="#2b2b86"/><rect x="425.0" y="711" width="1.0" height="3" fill="#2b2b86"/><rect x="430.0" y="711" width="1.0" height="3" fill="#2b2b86"/><rect x="436.0" y="711" width="1.5" height="3" fill="#2b2b86"/><rect x="441.0" y="711" width="2.0" height="3" fill="#2b2b86"/><rect x="446.0" y="711" width="2.5" height="3" fill="#2b2b86"/><rect x="450.0" y="711" width="1.5" height="3" fill="#2b2b86"/><text x="0.30" y="15.70" font-size="12.30" fill="#000" text-anchor="start" font-weight="bold" >A</text><text x="2.00" y="230.50" font-size="12.00" fill="#000" text-anchor="start" font-weight="bold" >B</text><text x="82.00" y="10.60" font-size="9.00" fill="#222" text-anchor="start" font-weight="normal" >n = 10</text><text transform="translate(144.12,190.6) rotate(90) scale(1.07,1)" font-size="8.4" fill="#222">s0572C</text><text transform="translate(155.78,190.6) rotate(90) scale(1.07,1)" font-size="8.4" fill="#222">s0798C</text><text transform="translate(167.43,190.6) rotate(90) scale(1.07,1)" font-size="8.4" fill="#222">s1228C</text><text transform="translate(179.08,190.6) rotate(90) scale(1.07,1)" font-size="8.4" fill="#222">s1275C</text><text transform="translate(190.73,190.6) rotate(90) scale(1.07,1)" font-size="8.4" fill="#222">s1766C</text><text transform="translate(202.38,190.6) rotate(90) scale(1.07,1)" font-size="8.4" fill="#222">s0109C</text><text transform="translate(214.03,190.6) rotate(90) scale(1.07,1)" font-size="8.4" fill="#222">s0621C</text><text transform="translate(225.68,190.6) rotate(90) scale(1.07,1)" font-size="8.4" fill="#222">s0813C</text><text transform="translate(237.33,190.6) rotate(90) scale(1.07,1)" font-size="8.4" fill="#222">s1119C</text><text transform="translate(248.98,190.6) rotate(90) scale(1.07,1)" font-size="8.4" fill="#222">s1124C</text><text transform="translate(264.12,190.6) rotate(90) scale(1.07,1)" font-size="8.4" fill="#222">s0572A</text><text transform="translate(275.78,190.6) rotate(90) scale(1.07,1)" font-size="8.4" fill="#222">s0798A</text><text transform="translate(287.43,190.6) rotate(90) scale(1.07,1)" font-size="8.4" fill="#222">s1228A</text><text transform="translate(299.07,190.6) rotate(90) scale(1.07,1)" font-size="8.4" fill="#222">s1275A</text><text transform="translate(310.73,190.6) rotate(90) scale(1.07,1)" font-size="8.4" fill="#222">s1766A</text><text transform="translate(322.38,190.6) rotate(90) scale(1.07,1)" font-size="8.4" fill="#222">s0109A</text><text transform="translate(334.03,190.6) rotate(90) scale(1.07,1)" font-size="8.4" fill="#222">s0621A</text><text transform="translate(345.68,190.6) rotate(90) scale(1.07,1)" font-size="8.4" fill="#222">s0813A</text><text transform="translate(357.32,190.6) rotate(90) scale(1.07,1)" font-size="8.4" fill="#222">s1119A</text><text transform="translate(368.98,190.6) rotate(90) scale(1.07,1)" font-size="8.4" fill="#222">s1124A</text><text x="386.80" y="19.80" font-size="6.70" fill="#222" text-anchor="start" font-weight="normal" >IKZF3</text><path d="M382.9 17.6H386.6" stroke="#222" stroke-width="0.6"/><text x="386.80" y="26.90" font-size="6.70" fill="#222" text-anchor="start" font-weight="normal" >CD27</text><path d="M380.2 19.2L383.3 22.6" stroke="#222" stroke-width="0.6"/><text x="386.80" y="35.40" font-size="6.70" fill="#222" text-anchor="start" font-weight="normal" >SYK</text><path d="M383.3 33.2H386.5" stroke="#222" stroke-width="0.6"/><text x="387.30" y="41.90" font-size="6.70" fill="#222" text-anchor="start" font-weight="normal" >BTK</text><path d="M379.5 32.5L384.8 38.4" stroke="#222" stroke-width="0.6"/><text x="385.00" y="55.40" font-size="6.70" fill="#222" text-anchor="start" font-weight="normal" >miR155</text><text x="386.50" y="64.60" font-size="6.70" fill="#222" text-anchor="start" font-weight="normal" >IKZF1</text><path d="M382.7 62.2H386.2" stroke="#222" stroke-width="0.6"/><text x="387.50" y="85.90" font-size="6.70" fill="#222" text-anchor="start" font-weight="normal" >BLK</text><path d="M382.7 83.5H387" stroke="#222" stroke-width="0.6"/><text x="388.50" y="92.20" font-size="6.70" fill="#222" text-anchor="start" font-weight="normal" >PAX5</text><path d="M381 86.8L386.5 89 M381 86.8L385.2 94" stroke="#222" stroke-width="0.6" fill="none"/><text x="387.70" y="100.10" font-size="6.70" fill="#222" text-anchor="start" font-weight="normal" >ROR1</text><text x="387.00" y="154.90" font-size="6.70" fill="#222" text-anchor="start" font-weight="normal" >HIST1H3C</text><path d="M382.7 152.5H387" stroke="#222" stroke-width="0.6"/><defs><linearGradient id="cb" x1="0" y1="0" x2="0" y2="1"><stop offset="0.000" stop-color="#de3226"/><stop offset="0.025" stop-color="#e13e2c"/><stop offset="0.050" stop-color="#e44932"/><stop offset="0.075" stop-color="#e85538"/><stop offset="0.100" stop-color="#eb603e"/><stop offset="0.125" stop-color="#ee6c44"/><stop offset="0.150" stop-color="#f0774a"/><stop offset="0.175" stop-color="#f28351"/><stop offset="0.200" stop-color="#f38e57"/><stop offset="0.225" stop-color="#f59a5e"/><stop offset="0.250" stop-color="#f7a564"/><stop offset="0.275" stop-color="#f8b16e"/><stop offset="0.300" stop-color="#f9bd77"/><stop offset="0.325" stop-color="#fbca81"/><stop offset="0.350" stop-color="#fcd68a"/><stop offset="0.375" stop-color="#fde294"/><stop offset="0.400" stop-color="#fde69c"/><stop offset="0.425" stop-color="#fdeba5"/><stop offset="0.450" stop-color="#feefad"/><stop offset="0.475" stop-color="#fef4b6"/><stop offset="0.500" stop-color="#fef8be"/><stop offset="0.525" stop-color="#f5f5c8"/><stop offset="0.550" stop-color="#ecf2d2"/><stop offset="0.575" stop-color="#e2f0dc"/><stop offset="0.600" stop-color="#d9ede6"/><stop offset="0.625" stop-color="#d0eaf0"/><stop offset="0.650" stop-color="#c4e4ee"/><stop offset="0.675" stop-color="#b9dded"/><stop offset="0.700" stop-color="#add7eb"/><stop offset="0.725" stop-color="#a2d0ea"/><stop offset="0.750" stop-color="#96cae8"/><stop offset="0.775" stop-color="#87c0e4"/><stop offset="0.800" stop-color="#78b6e0"/><stop offset="0.825" stop-color="#69acdc"/><stop offset="0.850" stop-color="#5aa2d8"/><stop offset="0.875" stop-color="#4b98d4"/><stop offset="0.900" stop-color="#4292d2"/><stop offset="0.925" stop-color="#398bcf"/><stop offset="0.950" stop-color="#3185cd"/><stop offset="0.975" stop-color="#287eca"/><stop offset="1.000" stop-color="#1f78c8"/></linearGradient></defs><rect x="426" y="2.9" width="10" height="181.1" fill="url(#cb)"/><text x="439.30" y="7.90" font-size="8.20" fill="#222" text-anchor="start" font-weight="normal" >2</text><text x="439.30" y="53.10" font-size="8.20" fill="#222" text-anchor="start" font-weight="normal" >1</text><text x="439.30" y="97.70" font-size="8.20" fill="#222" text-anchor="start" font-weight="normal" >0</text><text x="439.30" y="142.40" font-size="8.20" fill="#222" text-anchor="start" font-weight="normal" >−1</text><text x="439.30" y="187.50" font-size="8.20" fill="#222" text-anchor="start" font-weight="normal" >−2</text><rect x="131.00" y="241.95" width="103.50" height="1.1" fill="#e8553a"/><text x="182.50" y="238.30" font-size="7.80" fill="#222" text-anchor="middle" font-weight="normal" >20kb</text><rect x="290.00" y="242.15" width="63.70" height="1.1" fill="#e8553a"/><text x="321.80" y="238.20" font-size="7.80" fill="#222" text-anchor="middle" font-weight="normal" >80 kb</text><rect x="85.80" y="405.25" width="103.20" height="1.1" fill="#e8553a"/><text x="137.00" y="401.30" font-size="7.80" fill="#222" text-anchor="middle" font-weight="normal" >200 kb</text><rect x="293.00" y="404.95" width="138.70" height="1.1" fill="#e8553a"/><text x="362.50" y="400.80" font-size="7.80" fill="#222" text-anchor="middle" font-weight="normal" >100kb</text><rect x="40.80" y="571.05" width="81.90" height="1.1" fill="#e8553a"/><text x="81.80" y="566.30" font-size="7.80" fill="#222" text-anchor="middle" font-weight="normal" >50kb</text><rect x="276.00" y="570.70" width="39.75" height="1.1" fill="#e8553a"/><text x="296.00" y="567.30" font-size="7.80" fill="#222" text-anchor="middle" font-weight="normal" >20kb</text><text transform="translate(14.90,369.70) rotate(-90) scale(1.15,1)" font-size="6.72" fill="#222">Cluster I - HDAC1-BRD4-H3K9Ac-</text><text transform="translate(24.90,355.30) rotate(-90) scale(1.15,1)" font-size="6.72" fill="#222">H3K27Ac-RNA Pol II</text><text transform="translate(24.90,279.20) rotate(-90) scale(1.15,1)" font-size="6.72" fill="#222">+ve</text><text transform="translate(18.00,533.10) rotate(-90) scale(1.15,1)" font-size="6.72" fill="#222">Cluster I - HDAC1-BRD4-H3K9Ac-</text><text transform="translate(27.70,516.80) rotate(-90) scale(1.15,1)" font-size="6.72" fill="#222">H3K27Ac-RNA Pol II</text><text transform="translate(27.70,441.20) rotate(-90) scale(1.15,1)" font-size="6.72" fill="#222">+ve</text><text transform="translate(19.70,698.00) rotate(-90) scale(1.15,1)" font-size="6.72" fill="#222">Cluster I - HDAC1-BRD4-H3K9Ac-</text><text transform="translate(28.60,682.30) rotate(-90) scale(1.15,1)" font-size="6.72" fill="#222">H3K27Ac-RNA Pol II</text><text transform="translate(28.60,606.40) rotate(-90) scale(1.15,1)" font-size="6.72" fill="#222">+ve</text><text x="464.80" y="257.20" font-size="9.50" fill="#222" text-anchor="middle" font-weight="normal" >−</text><text x="464.80" y="267.20" font-size="9.50" fill="#222" text-anchor="middle" font-weight="normal" >+</text><text x="464.80" y="276.95" font-size="9.50" fill="#222" text-anchor="middle" font-weight="normal" >−</text><text x="464.80" y="286.20" font-size="9.50" fill="#222" text-anchor="middle" font-weight="normal" >+</text><text x="464.80" y="295.95" font-size="9.50" fill="#222" text-anchor="middle" font-weight="normal" >−</text><text x="464.80" y="306.90" font-size="9.50" fill="#222" text-anchor="middle" font-weight="normal" >+</text><text x="464.80" y="316.80" font-size="9.50" fill="#222" text-anchor="middle" font-weight="normal" >−</text><text x="464.80" y="326.80" font-size="9.50" fill="#222" text-anchor="middle" font-weight="normal" >+</text><text x="464.80" y="335.80" font-size="9.50" fill="#222" text-anchor="middle" font-weight="normal" >−</text><text x="464.80" y="344.70" font-size="9.50" fill="#222" text-anchor="middle" font-weight="normal" >+</text><text x="464.80" y="356.00" font-size="9.50" fill="#222" text-anchor="middle" font-weight="normal" >−</text><text x="464.80" y="365.50" font-size="9.50" fill="#222" text-anchor="middle" font-weight="normal" >+</text><text x="474.10" y="257.50" font-size="7.55" fill="#222" text-anchor="start" font-weight="normal" >HDAC1</text><text x="474.10" y="279.70" font-size="7.55" fill="#222" text-anchor="start" font-weight="normal" >BRD4</text><text x="474.10" y="297.30" font-size="7.55" fill="#222" text-anchor="start" font-weight="normal" >H3K9Ac</text><text x="474.10" y="318.80" font-size="7.55" fill="#222" text-anchor="start" font-weight="normal" >H3K27Ac</text><text x="474.10" y="338.50" font-size="7.55" fill="#222" text-anchor="start" font-weight="normal" >RNA Pol II</text><text x="474.10" y="359.20" font-size="7.55" fill="#222" text-anchor="start" font-weight="normal" >ATAC Profile</text><rect x="470.40" y="244.40" width="0.8" height="40.00" fill="#222"/><rect x="470.40" y="286.90" width="0.8" height="38.60" fill="#222"/><rect x="470.40" y="327.00" width="0.8" height="17.40" fill="#222"/><rect x="470.40" y="347.30" width="0.8" height="17.30" fill="#222"/><text x="462.30" y="374.80" font-size="7.55" fill="#222" text-anchor="start" font-weight="normal" >Input</text><text x="468.30" y="419.70" font-size="9.50" fill="#222" text-anchor="middle" font-weight="normal" >−</text><text x="468.30" y="429.90" font-size="9.50" fill="#222" text-anchor="middle" font-weight="normal" >+</text><text x="468.30" y="439.30" font-size="9.50" fill="#222" text-anchor="middle" font-weight="normal" >−</text><text x="468.30" y="449.10" font-size="9.50" fill="#222" text-anchor="middle" font-weight="normal" >+</text><text x="468.30" y="458.90" font-size="9.50" fill="#222" text-anchor="middle" font-weight="normal" >−</text><text x="468.30" y="469.00" font-size="9.50" fill="#222" text-anchor="middle" font-weight="normal" >+</text><text x="468.30" y="479.50" font-size="9.50" fill="#222" text-anchor="middle" font-weight="normal" >−</text><text x="468.30" y="489.90" font-size="9.50" fill="#222" text-anchor="middle" font-weight="normal" >+</text><text x="468.30" y="498.30" font-size="9.50" fill="#222" text-anchor="middle" font-weight="normal" >−</text><text x="468.30" y="507.60" font-size="9.50" fill="#222" text-anchor="middle" font-weight="normal" >+</text><text x="468.30" y="518.40" font-size="9.50" fill="#222" text-anchor="middle" font-weight="normal" >−</text><text x="468.30" y="527.40" font-size="9.50" fill="#222" text-anchor="middle" font-weight="normal" >+</text><text x="477.90" y="420.20" font-size="7.55" fill="#222" text-anchor="start" font-weight="normal" >HDAC1</text><text x="477.90" y="442.30" font-size="7.55" fill="#222" text-anchor="start" font-weight="normal" >BRD4</text><text x="477.90" y="459.60" font-size="7.55" fill="#222" text-anchor="start" font-weight="normal" >H3K9Ac</text><text x="477.90" y="481.90" font-size="7.55" fill="#222" text-anchor="start" font-weight="normal" >H3K27Ac</text><text x="477.90" y="501.50" font-size="7.55" fill="#222" text-anchor="start" font-weight="normal" >RNA Pol II</text><text x="477.90" y="521.70" font-size="7.55" fill="#222" text-anchor="start" font-weight="normal" >ATAC Profile</text><rect x="474.20" y="407.30" width="0.8" height="39.80" fill="#222"/><rect x="474.20" y="449.40" width="0.8" height="38.50" fill="#222"/><rect x="474.20" y="490.80" width="0.8" height="16.70" fill="#222"/><rect x="474.20" y="509.80" width="0.8" height="17.30" fill="#222"/><text x="465.80" y="537.90" font-size="7.55" fill="#222" text-anchor="start" font-weight="normal" >Input</text><text x="468.30" y="586.10" font-size="9.50" fill="#222" text-anchor="middle" font-weight="normal" >−</text><text x="468.30" y="596.30" font-size="9.50" fill="#222" text-anchor="middle" font-weight="normal" >+</text><text x="468.30" y="606.10" font-size="9.50" fill="#222" text-anchor="middle" font-weight="normal" >−</text><text x="468.30" y="615.90" font-size="9.50" fill="#222" text-anchor="middle" font-weight="normal" >+</text><text x="468.30" y="625.30" font-size="9.50" fill="#222" text-anchor="middle" font-weight="normal" >−</text><text x="468.30" y="635.50" font-size="9.50" fill="#222" text-anchor="middle" font-weight="normal" >+</text><text x="468.30" y="645.70" font-size="9.50" fill="#222" text-anchor="middle" font-weight="normal" >−</text><text x="468.30" y="655.90" font-size="9.50" fill="#222" text-anchor="middle" font-weight="normal" >+</text><text x="468.30" y="664.50" font-size="9.50" fill="#222" text-anchor="middle" font-weight="normal" >−</text><text x="468.30" y="673.80" font-size="9.50" fill="#222" text-anchor="middle" font-weight="normal" >+</text><text x="468.30" y="685.00" font-size="9.50" fill="#222" text-anchor="middle" font-weight="normal" >−</text><text x="468.30" y="693.90" font-size="9.50" fill="#222" text-anchor="middle" font-weight="normal" >+</text><text x="477.70" y="586.40" font-size="7.55" fill="#222" text-anchor="start" font-weight="normal" >HDAC1</text><text x="477.70" y="609.00" font-size="7.55" fill="#222" text-anchor="start" font-weight="normal" >BRD4</text><text x="477.70" y="626.50" font-size="7.55" fill="#222" text-anchor="start" font-weight="normal" >H3K9Ac</text><text x="477.70" y="648.30" font-size="7.55" fill="#222" text-anchor="start" font-weight="normal" >H3K27Ac</text><text x="477.70" y="667.70" font-size="7.55" fill="#222" text-anchor="start" font-weight="normal" >RNA Pol II</text><text x="477.70" y="688.30" font-size="7.55" fill="#222" text-anchor="start" font-weight="normal" >ATAC Profile</text><rect x="474.00" y="573.50" width="0.8" height="40.30" fill="#222"/><rect x="474.00" y="615.20" width="0.8" height="39.00" fill="#222"/><rect x="474.00" y="656.00" width="0.8" height="18.40" fill="#222"/><rect x="474.00" y="675.80" width="0.8" height="18.00" fill="#222"/><text x="466.00" y="703.95" font-size="7.55" fill="#222" text-anchor="start" font-weight="normal" >Input</text>
</svg></body></html>
